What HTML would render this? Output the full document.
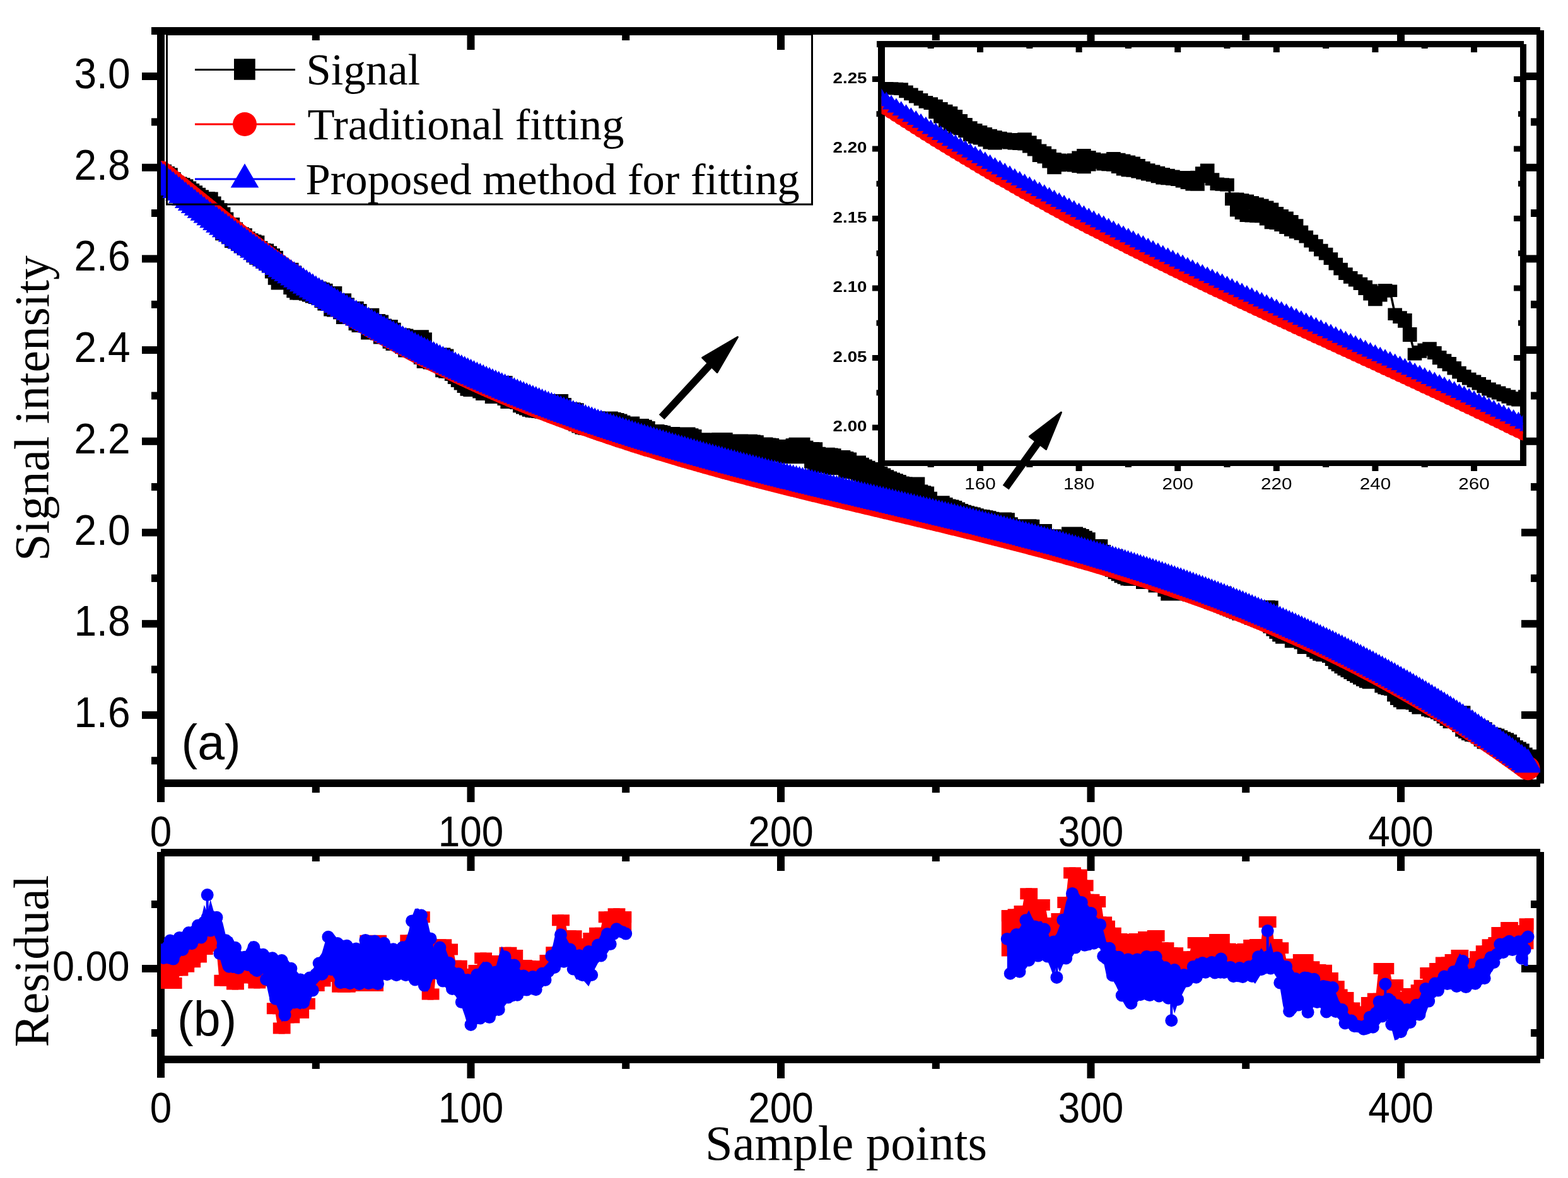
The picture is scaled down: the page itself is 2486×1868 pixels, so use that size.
<!DOCTYPE html><html><head><meta charset="utf-8"><title>Signal fitting plot</title><style>html,body{margin:0;padding:0;background:#fff;}svg{display:block;}</style></head><body><svg width="2486" height="1868" viewBox="0 0 2486 1868">
<rect width="2486" height="1868" fill="#fff"/>
<rect x="240.0" y="43.0" width="2202.0" height="12.0" fill="#000"/>
<rect x="249.0" y="55.0" width="12.0" height="1217.0" fill="#000"/>
<rect x="2436.0" y="48.0" width="12.0" height="1194.5" fill="#000"/>
<rect x="261.0" y="1236.0" width="2181.0" height="12.0" fill="#000"/>
<rect x="225.0" y="115.0" width="24.0" height="12.0" fill="#000"/>
<rect x="2412.0" y="115.0" width="24.0" height="12.0" fill="#000"/>
<rect x="240.0" y="187.4" width="9.0" height="12.0" fill="#000"/>
<rect x="2427.0" y="187.4" width="9.0" height="12.0" fill="#000"/>
<rect x="225.0" y="259.7" width="24.0" height="12.0" fill="#000"/>
<rect x="2412.0" y="259.7" width="24.0" height="12.0" fill="#000"/>
<rect x="240.0" y="332.0" width="9.0" height="12.0" fill="#000"/>
<rect x="2427.0" y="332.0" width="9.0" height="12.0" fill="#000"/>
<rect x="225.0" y="404.4" width="24.0" height="12.0" fill="#000"/>
<rect x="2412.0" y="404.4" width="24.0" height="12.0" fill="#000"/>
<rect x="240.0" y="476.8" width="9.0" height="12.0" fill="#000"/>
<rect x="2427.0" y="476.8" width="9.0" height="12.0" fill="#000"/>
<rect x="225.0" y="549.1" width="24.0" height="12.0" fill="#000"/>
<rect x="2412.0" y="549.1" width="24.0" height="12.0" fill="#000"/>
<rect x="240.0" y="621.5" width="9.0" height="12.0" fill="#000"/>
<rect x="2427.0" y="621.5" width="9.0" height="12.0" fill="#000"/>
<rect x="225.0" y="693.8" width="24.0" height="12.0" fill="#000"/>
<rect x="2412.0" y="693.8" width="24.0" height="12.0" fill="#000"/>
<rect x="240.0" y="766.1" width="9.0" height="12.0" fill="#000"/>
<rect x="2427.0" y="766.1" width="9.0" height="12.0" fill="#000"/>
<rect x="225.0" y="838.5" width="24.0" height="12.0" fill="#000"/>
<rect x="2412.0" y="838.5" width="24.0" height="12.0" fill="#000"/>
<rect x="240.0" y="910.9" width="9.0" height="12.0" fill="#000"/>
<rect x="2427.0" y="910.9" width="9.0" height="12.0" fill="#000"/>
<rect x="225.0" y="983.2" width="24.0" height="12.0" fill="#000"/>
<rect x="2412.0" y="983.2" width="24.0" height="12.0" fill="#000"/>
<rect x="240.0" y="1055.6" width="9.0" height="12.0" fill="#000"/>
<rect x="2427.0" y="1055.6" width="9.0" height="12.0" fill="#000"/>
<rect x="225.0" y="1127.9" width="24.0" height="12.0" fill="#000"/>
<rect x="2412.0" y="1127.9" width="24.0" height="12.0" fill="#000"/>
<rect x="240.0" y="1200.2" width="9.0" height="12.0" fill="#000"/>
<rect x="2427.0" y="1200.2" width="9.0" height="12.0" fill="#000"/>
<rect x="249.0" y="55.0" width="12.0" height="24.0" fill="#000"/>
<rect x="494.8" y="1248.0" width="12.0" height="9.0" fill="#000"/>
<rect x="494.8" y="55.0" width="12.0" height="9.0" fill="#000"/>
<rect x="740.5" y="1248.0" width="12.0" height="24.0" fill="#000"/>
<rect x="740.5" y="55.0" width="12.0" height="24.0" fill="#000"/>
<rect x="986.2" y="1248.0" width="12.0" height="9.0" fill="#000"/>
<rect x="986.2" y="55.0" width="12.0" height="9.0" fill="#000"/>
<rect x="1232.0" y="1248.0" width="12.0" height="24.0" fill="#000"/>
<rect x="1232.0" y="55.0" width="12.0" height="24.0" fill="#000"/>
<rect x="1477.8" y="1248.0" width="12.0" height="9.0" fill="#000"/>
<rect x="1477.8" y="55.0" width="12.0" height="9.0" fill="#000"/>
<rect x="1723.5" y="1248.0" width="12.0" height="24.0" fill="#000"/>
<rect x="1723.5" y="55.0" width="12.0" height="24.0" fill="#000"/>
<rect x="1969.2" y="1248.0" width="12.0" height="9.0" fill="#000"/>
<rect x="1969.2" y="55.0" width="12.0" height="9.0" fill="#000"/>
<rect x="2215.0" y="1248.0" width="12.0" height="24.0" fill="#000"/>
<rect x="2215.0" y="55.0" width="12.0" height="24.0" fill="#000"/>
<text x="0.00" y="0.00" font-family="'Liberation Sans', Arial, sans-serif" font-size="64" font-weight="normal" text-anchor="end" transform="translate(206.50,140.00) scale(1.0,1.06)">3.0</text>
<text x="0.00" y="0.00" font-family="'Liberation Sans', Arial, sans-serif" font-size="64" font-weight="normal" text-anchor="end" transform="translate(206.50,284.70) scale(1.0,1.06)">2.8</text>
<text x="0.00" y="0.00" font-family="'Liberation Sans', Arial, sans-serif" font-size="64" font-weight="normal" text-anchor="end" transform="translate(206.50,429.40) scale(1.0,1.06)">2.6</text>
<text x="0.00" y="0.00" font-family="'Liberation Sans', Arial, sans-serif" font-size="64" font-weight="normal" text-anchor="end" transform="translate(206.50,574.10) scale(1.0,1.06)">2.4</text>
<text x="0.00" y="0.00" font-family="'Liberation Sans', Arial, sans-serif" font-size="64" font-weight="normal" text-anchor="end" transform="translate(206.50,718.80) scale(1.0,1.06)">2.2</text>
<text x="0.00" y="0.00" font-family="'Liberation Sans', Arial, sans-serif" font-size="64" font-weight="normal" text-anchor="end" transform="translate(206.50,863.50) scale(1.0,1.06)">2.0</text>
<text x="0.00" y="0.00" font-family="'Liberation Sans', Arial, sans-serif" font-size="64" font-weight="normal" text-anchor="end" transform="translate(206.50,1008.20) scale(1.0,1.06)">1.8</text>
<text x="0.00" y="0.00" font-family="'Liberation Sans', Arial, sans-serif" font-size="64" font-weight="normal" text-anchor="end" transform="translate(206.50,1152.90) scale(1.0,1.06)">1.6</text>
<text x="0.00" y="0.00" font-family="'Liberation Sans', Arial, sans-serif" font-size="62" font-weight="normal" text-anchor="middle" transform="translate(255.00,1341.50) scale(1.0,1.095)">0</text>
<text x="0.00" y="0.00" font-family="'Liberation Sans', Arial, sans-serif" font-size="62" font-weight="normal" text-anchor="middle" transform="translate(746.50,1341.50) scale(1.0,1.095)">100</text>
<text x="0.00" y="0.00" font-family="'Liberation Sans', Arial, sans-serif" font-size="62" font-weight="normal" text-anchor="middle" transform="translate(1238.00,1341.50) scale(1.0,1.095)">200</text>
<text x="0.00" y="0.00" font-family="'Liberation Sans', Arial, sans-serif" font-size="62" font-weight="normal" text-anchor="middle" transform="translate(1729.50,1341.50) scale(1.0,1.095)">300</text>
<text x="0.00" y="0.00" font-family="'Liberation Sans', Arial, sans-serif" font-size="62" font-weight="normal" text-anchor="middle" transform="translate(2221.00,1341.50) scale(1.0,1.095)">400</text>
<text x="287.50" y="1203.50" font-family="'Liberation Sans', Arial, sans-serif" font-size="77" font-weight="normal" text-anchor="start">(a)</text>
<defs><clipPath id="cm"><rect x="255" y="49" width="2187" height="1193"/></clipPath><clipPath id="cr"><rect x="255" y="1352" width="2187" height="328"/></clipPath><clipPath id="ci"><rect x="1397.5" y="70" width="1017" height="664.5"/></clipPath></defs>
<g clip-path="url(#cm)">
<path d="M255.0,277.7L259.9,280.8L264.8,283.2L269.7,290.0L274.7,296.2L279.6,297.6L284.5,299.1L289.4,301.3L294.3,304.6L299.2,307.9L304.1,311.2L309.1,314.7L314.0,318.2L318.9,320.9L323.8,321.1L328.7,321.4L333.6,328.4L338.6,334.5L343.5,339.3L348.4,345.6L353.3,353.6L358.2,364.3L363.1,362.1L368.0,369.6L373.0,375.9L377.9,377.2L382.8,379.0L387.7,384.3L392.6,387.1L397.5,388.9L402.4,390.6L407.4,399.2L412.3,402.7L417.2,403.5L422.1,407.3L427.0,411.1L431.9,414.8L436.9,424.6L441.8,434.7L446.7,442.4L451.6,434.0L456.5,433.7L461.4,438.4L466.3,450.0L471.3,455.2L476.2,458.4L481.1,458.8L486.0,458.5L490.9,459.8L495.8,461.6L500.8,463.4L505.7,465.1L510.6,466.7L515.5,470.9L520.4,475.4L525.3,471.0L530.2,484.5L535.2,485.4L540.1,482.3L545.0,489.3L549.9,497.1L554.8,496.1L559.7,495.0L564.6,499.0L569.6,507.0L574.5,510.0L579.4,507.3L584.3,505.8L589.2,521.4L594.1,515.0L599.0,516.6L604.0,522.6L608.9,528.5L613.8,523.9L618.7,528.8L623.6,535.7L628.5,539.0L633.5,537.5L638.4,538.6L643.3,544.0L648.2,549.4L653.1,548.5L658.0,543.5L662.9,540.3L667.9,544.2L672.8,560.8L677.7,567.0L682.6,567.0L687.5,568.5L692.4,569.3L697.4,568.5L702.3,570.6L707.2,581.3L712.1,582.8L717.0,583.1L721.9,587.1L726.8,592.0L731.8,596.9L736.7,601.4L741.6,606.0L746.5,610.7L751.4,612.1L756.3,603.9L761.2,605.0L766.2,614.4L771.1,618.1L776.0,615.0L780.9,615.8L785.8,622.9L790.7,622.6L795.6,613.0L800.6,619.5L805.5,626.0L810.4,630.9L815.3,628.2L820.2,626.5L825.1,632.0L830.1,637.3L835.0,639.4L839.9,641.6L844.8,643.7L849.7,644.9L854.6,645.5L859.5,646.1L864.5,646.7L869.4,647.2L874.3,647.5L879.2,644.7L884.1,641.9L889.0,648.1L894.0,654.3L898.9,654.9L903.8,655.2L908.7,656.3L913.6,661.9L918.5,667.1L923.4,669.5L928.4,671.8L933.3,672.7L938.2,670.6L943.1,669.2L948.0,669.6L952.9,669.9L957.8,669.8L962.8,669.5L967.7,670.7L972.6,671.9L977.5,673.5L982.4,675.8L987.3,678.0L992.2,679.9L997.2,677.4L1002.1,683.3L1007.0,685.5L1011.9,681.0L1016.8,682.7L1021.7,685.0L1026.7,690.8L1031.6,692.7L1036.5,690.0L1041.4,690.9L1046.3,691.9L1051.2,696.8L1056.1,697.0L1061.1,694.1L1066.0,694.6L1070.9,694.9L1075.8,697.0L1080.7,697.2L1085.6,694.6L1090.5,696.2L1095.5,698.0L1100.4,703.5L1105.3,704.2L1110.2,703.2L1115.1,705.0L1120.0,705.5L1125.0,708.0L1129.9,708.2L1134.8,705.4L1139.7,704.2L1144.6,703.1L1149.5,708.2L1154.4,706.9L1159.4,705.6L1164.3,706.0L1169.2,705.4L1174.1,708.3L1179.0,709.4L1183.9,705.8L1188.8,706.5L1193.8,707.2L1198.7,711.8L1203.6,712.5L1208.5,710.6L1213.4,711.4L1218.3,712.1L1223.3,715.1L1228.2,715.3L1233.1,714.0L1238.0,714.5L1242.9,714.5L1247.8,717.5L1252.7,718.3L1257.7,714.4L1262.6,712.3L1267.5,710.8L1272.4,715.7L1277.3,718.2L1282.2,718.1L1287.2,718.3L1292.1,725.7L1297.0,731.7L1301.9,733.2L1306.8,726.8L1311.7,727.5L1316.6,728.3L1321.6,734.9L1326.5,736.3L1331.4,731.0L1336.3,733.1L1341.2,734.5L1346.1,740.8L1351.0,742.0L1356.0,739.4L1360.9,742.8L1365.8,745.5L1370.7,747.8L1375.6,750.0L1380.5,752.4L1385.5,754.4L1390.4,756.8L1395.3,759.6L1400.2,762.2L1405.1,764.6L1410.0,766.6L1414.9,768.2L1419.9,769.9L1424.8,772.5L1429.7,773.2L1434.6,775.4L1439.5,774.2L1444.4,773.8L1449.3,773.5L1454.3,785.6L1459.2,787.3L1464.1,788.4L1469.0,796.8L1473.9,806.4L1478.8,805.2L1483.8,804.0L1488.7,803.3L1493.6,805.9L1498.5,808.6L1503.4,809.5L1508.3,811.1L1513.2,813.4L1518.2,815.9L1523.1,817.7L1528.0,819.2L1532.9,820.4L1537.8,821.5L1542.7,823.3L1547.6,824.8L1552.6,825.3L1557.5,826.3L1562.4,827.2L1567.3,828.8L1572.2,829.8L1577.1,829.5L1582.0,829.5L1587.0,829.5L1591.9,830.3L1596.8,837.2L1601.7,842.9L1606.6,850.3L1611.5,851.4L1616.5,848.7L1621.4,841.2L1626.3,840.3L1631.2,840.7L1636.1,853.3L1641.0,851.6L1645.9,849.8L1650.9,848.1L1655.8,858.0L1660.7,857.0L1665.6,856.3L1670.5,863.7L1675.4,868.1L1680.3,858.3L1685.3,859.6L1690.2,865.3L1695.1,866.4L1700.0,852.4L1704.9,854.2L1709.8,856.1L1714.8,858.7L1719.7,861.3L1724.6,874.7L1729.5,873.4L1734.4,872.1L1739.3,872.3L1744.2,881.0L1749.2,885.2L1754.1,889.4L1759.0,888.5L1763.9,888.3L1768.8,897.7L1773.7,901.2L1778.7,904.2L1783.6,907.2L1788.5,909.3L1793.4,911.5L1798.3,912.1L1803.2,902.4L1808.1,906.0L1813.1,911.4L1818.0,916.9L1822.9,914.5L1827.8,911.9L1832.7,911.1L1837.6,922.6L1842.5,919.8L1847.5,919.5L1852.4,929.1L1857.3,935.6L1862.2,925.3L1867.1,932.6L1872.0,934.4L1877.0,932.9L1881.9,932.0L1886.8,934.3L1891.7,936.7L1896.6,937.8L1901.5,935.3L1906.4,938.3L1911.4,941.3L1916.3,944.3L1921.2,946.2L1926.1,948.2L1931.0,949.2L1935.9,947.0L1940.8,954.2L1945.8,956.3L1950.7,958.4L1955.6,960.5L1960.5,962.5L1965.4,964.6L1970.3,966.7L1975.2,966.2L1980.2,967.0L1985.1,971.2L1990.0,973.9L1994.9,970.7L1999.8,969.8L2004.7,968.9L2009.7,969.4L2014.6,982.9L2019.5,987.3L2024.4,991.7L2029.3,996.1L2034.2,1000.6L2039.1,1003.8L2044.1,996.1L2049.0,1003.0L2053.9,1010.2L2058.8,1008.6L2063.7,1007.1L2068.6,1012.6L2073.6,1020.1L2078.5,1013.3L2083.4,1019.2L2088.3,1024.7L2093.2,1027.7L2098.1,1030.8L2103.0,1032.1L2108.0,1028.6L2112.9,1033.9L2117.8,1039.1L2122.7,1044.2L2127.6,1047.6L2132.5,1051.1L2137.4,1054.2L2142.4,1057.1L2147.3,1060.1L2152.2,1062.9L2157.1,1065.7L2162.0,1068.5L2166.9,1071.3L2171.8,1073.8L2176.8,1075.3L2181.7,1074.6L2186.6,1072.9L2191.5,1071.4L2196.4,1081.4L2201.3,1084.1L2206.3,1085.2L2211.2,1086.3L2216.1,1095.6L2221.0,1101.1L2225.9,1104.4L2230.8,1107.8L2235.7,1107.1L2240.7,1105.1L2245.6,1108.6L2250.5,1112.0L2255.4,1115.5L2260.3,1115.1L2265.2,1114.5L2270.2,1119.0L2275.1,1120.4L2280.0,1121.3L2284.9,1123.6L2289.8,1126.2L2294.7,1130.2L2299.6,1134.1L2304.6,1138.1L2309.5,1137.5L2314.4,1136.2L2319.3,1144.1L2324.2,1151.2L2329.1,1154.0L2334.0,1156.9L2339.0,1159.1L2343.9,1159.6L2348.8,1162.3L2353.7,1166.7L2358.6,1170.6L2363.5,1171.1L2368.4,1172.6L2373.4,1175.1L2378.3,1177.6L2383.2,1179.2L2388.1,1181.7L2393.0,1186.3L2397.9,1191.0L2402.9,1193.5L2407.8,1196.2L2412.7,1202.6L2417.6,1208.1L2422.5,1205.6" fill="none" stroke="#000" stroke-width="3"/>
<path d="M238.0,260.7h34.0v34.0h-34.0zM242.9,263.8h34.0v34.0h-34.0zM247.8,266.2h34.0v34.0h-34.0zM252.7,273.0h34.0v34.0h-34.0zM257.7,279.2h34.0v34.0h-34.0zM262.6,280.6h34.0v34.0h-34.0zM267.5,282.1h34.0v34.0h-34.0zM272.4,284.3h34.0v34.0h-34.0zM277.3,287.6h34.0v34.0h-34.0zM282.2,290.9h34.0v34.0h-34.0zM287.1,294.2h34.0v34.0h-34.0zM292.1,297.7h34.0v34.0h-34.0zM297.0,301.2h34.0v34.0h-34.0zM301.9,303.9h34.0v34.0h-34.0zM306.8,304.1h34.0v34.0h-34.0zM311.7,304.4h34.0v34.0h-34.0zM316.6,311.4h34.0v34.0h-34.0zM321.6,317.5h34.0v34.0h-34.0zM326.5,322.3h34.0v34.0h-34.0zM331.4,328.6h34.0v34.0h-34.0zM336.3,336.6h34.0v34.0h-34.0zM341.2,347.3h34.0v34.0h-34.0zM346.1,345.1h34.0v34.0h-34.0zM351.0,352.6h34.0v34.0h-34.0zM356.0,358.9h34.0v34.0h-34.0zM360.9,360.2h34.0v34.0h-34.0zM365.8,362.0h34.0v34.0h-34.0zM370.7,367.3h34.0v34.0h-34.0zM375.6,370.1h34.0v34.0h-34.0zM380.5,371.9h34.0v34.0h-34.0zM385.4,373.6h34.0v34.0h-34.0zM390.4,382.2h34.0v34.0h-34.0zM395.3,385.7h34.0v34.0h-34.0zM400.2,386.5h34.0v34.0h-34.0zM405.1,390.3h34.0v34.0h-34.0zM410.0,394.1h34.0v34.0h-34.0zM414.9,397.8h34.0v34.0h-34.0zM419.9,407.6h34.0v34.0h-34.0zM424.8,417.7h34.0v34.0h-34.0zM429.7,425.4h34.0v34.0h-34.0zM434.6,417.0h34.0v34.0h-34.0zM439.5,416.7h34.0v34.0h-34.0zM444.4,421.4h34.0v34.0h-34.0zM449.3,433.0h34.0v34.0h-34.0zM454.3,438.2h34.0v34.0h-34.0zM459.2,441.4h34.0v34.0h-34.0zM464.1,441.8h34.0v34.0h-34.0zM469.0,441.5h34.0v34.0h-34.0zM473.9,442.8h34.0v34.0h-34.0zM478.8,444.6h34.0v34.0h-34.0zM483.8,446.4h34.0v34.0h-34.0zM488.7,448.1h34.0v34.0h-34.0zM493.6,449.7h34.0v34.0h-34.0zM498.5,453.9h34.0v34.0h-34.0zM503.4,458.4h34.0v34.0h-34.0zM508.3,454.0h34.0v34.0h-34.0zM513.2,467.5h34.0v34.0h-34.0zM518.2,468.4h34.0v34.0h-34.0zM523.1,465.3h34.0v34.0h-34.0zM528.0,472.3h34.0v34.0h-34.0zM532.9,480.1h34.0v34.0h-34.0zM537.8,479.1h34.0v34.0h-34.0zM542.7,478.0h34.0v34.0h-34.0zM547.6,482.0h34.0v34.0h-34.0zM552.6,490.0h34.0v34.0h-34.0zM557.5,493.0h34.0v34.0h-34.0zM562.4,490.3h34.0v34.0h-34.0zM567.3,488.8h34.0v34.0h-34.0zM572.2,504.4h34.0v34.0h-34.0zM577.1,498.0h34.0v34.0h-34.0zM582.0,499.6h34.0v34.0h-34.0zM587.0,505.6h34.0v34.0h-34.0zM591.9,511.5h34.0v34.0h-34.0zM596.8,506.9h34.0v34.0h-34.0zM601.7,511.8h34.0v34.0h-34.0zM606.6,518.7h34.0v34.0h-34.0zM611.5,522.0h34.0v34.0h-34.0zM616.5,520.5h34.0v34.0h-34.0zM621.4,521.6h34.0v34.0h-34.0zM626.3,527.0h34.0v34.0h-34.0zM631.2,532.4h34.0v34.0h-34.0zM636.1,531.5h34.0v34.0h-34.0zM641.0,526.5h34.0v34.0h-34.0zM645.9,523.3h34.0v34.0h-34.0zM650.9,527.2h34.0v34.0h-34.0zM655.8,543.8h34.0v34.0h-34.0zM660.7,550.0h34.0v34.0h-34.0zM665.6,550.0h34.0v34.0h-34.0zM670.5,551.5h34.0v34.0h-34.0zM675.4,552.3h34.0v34.0h-34.0zM680.4,551.5h34.0v34.0h-34.0zM685.3,553.6h34.0v34.0h-34.0zM690.2,564.3h34.0v34.0h-34.0zM695.1,565.8h34.0v34.0h-34.0zM700.0,566.1h34.0v34.0h-34.0zM704.9,570.1h34.0v34.0h-34.0zM709.8,575.0h34.0v34.0h-34.0zM714.8,579.9h34.0v34.0h-34.0zM719.7,584.4h34.0v34.0h-34.0zM724.6,589.0h34.0v34.0h-34.0zM729.5,593.7h34.0v34.0h-34.0zM734.4,595.1h34.0v34.0h-34.0zM739.3,586.9h34.0v34.0h-34.0zM744.2,588.0h34.0v34.0h-34.0zM749.2,597.4h34.0v34.0h-34.0zM754.1,601.1h34.0v34.0h-34.0zM759.0,598.0h34.0v34.0h-34.0zM763.9,598.8h34.0v34.0h-34.0zM768.8,605.9h34.0v34.0h-34.0zM773.7,605.6h34.0v34.0h-34.0zM778.6,596.0h34.0v34.0h-34.0zM783.6,602.5h34.0v34.0h-34.0zM788.5,609.0h34.0v34.0h-34.0zM793.4,613.9h34.0v34.0h-34.0zM798.3,611.2h34.0v34.0h-34.0zM803.2,609.5h34.0v34.0h-34.0zM808.1,615.0h34.0v34.0h-34.0zM813.1,620.3h34.0v34.0h-34.0zM818.0,622.4h34.0v34.0h-34.0zM822.9,624.6h34.0v34.0h-34.0zM827.8,626.7h34.0v34.0h-34.0zM832.7,627.9h34.0v34.0h-34.0zM837.6,628.5h34.0v34.0h-34.0zM842.5,629.1h34.0v34.0h-34.0zM847.5,629.7h34.0v34.0h-34.0zM852.4,630.2h34.0v34.0h-34.0zM857.3,630.5h34.0v34.0h-34.0zM862.2,627.7h34.0v34.0h-34.0zM867.1,624.9h34.0v34.0h-34.0zM872.0,631.1h34.0v34.0h-34.0zM877.0,637.3h34.0v34.0h-34.0zM881.9,637.9h34.0v34.0h-34.0zM886.8,638.2h34.0v34.0h-34.0zM891.7,639.3h34.0v34.0h-34.0zM896.6,644.9h34.0v34.0h-34.0zM901.5,650.1h34.0v34.0h-34.0zM906.4,652.5h34.0v34.0h-34.0zM911.4,654.8h34.0v34.0h-34.0zM916.3,655.7h34.0v34.0h-34.0zM921.2,653.6h34.0v34.0h-34.0zM926.1,652.2h34.0v34.0h-34.0zM931.0,652.6h34.0v34.0h-34.0zM935.9,652.9h34.0v34.0h-34.0zM940.8,652.8h34.0v34.0h-34.0zM945.8,652.5h34.0v34.0h-34.0zM950.7,653.7h34.0v34.0h-34.0zM955.6,654.9h34.0v34.0h-34.0zM960.5,656.5h34.0v34.0h-34.0zM965.4,658.8h34.0v34.0h-34.0zM970.3,661.0h34.0v34.0h-34.0zM975.2,662.9h34.0v34.0h-34.0zM980.2,660.4h34.0v34.0h-34.0zM985.1,666.3h34.0v34.0h-34.0zM990.0,668.5h34.0v34.0h-34.0zM994.9,664.0h34.0v34.0h-34.0zM999.8,665.7h34.0v34.0h-34.0zM1004.7,668.0h34.0v34.0h-34.0zM1009.7,673.8h34.0v34.0h-34.0zM1014.6,675.7h34.0v34.0h-34.0zM1019.5,673.0h34.0v34.0h-34.0zM1024.4,673.9h34.0v34.0h-34.0zM1029.3,674.9h34.0v34.0h-34.0zM1034.2,679.8h34.0v34.0h-34.0zM1039.1,680.0h34.0v34.0h-34.0zM1044.1,677.1h34.0v34.0h-34.0zM1049.0,677.6h34.0v34.0h-34.0zM1053.9,677.9h34.0v34.0h-34.0zM1058.8,680.0h34.0v34.0h-34.0zM1063.7,680.2h34.0v34.0h-34.0zM1068.6,677.6h34.0v34.0h-34.0zM1073.5,679.2h34.0v34.0h-34.0zM1078.5,681.0h34.0v34.0h-34.0zM1083.4,686.5h34.0v34.0h-34.0zM1088.3,687.2h34.0v34.0h-34.0zM1093.2,686.2h34.0v34.0h-34.0zM1098.1,688.0h34.0v34.0h-34.0zM1103.0,688.5h34.0v34.0h-34.0zM1108.0,691.0h34.0v34.0h-34.0zM1112.9,691.2h34.0v34.0h-34.0zM1117.8,688.4h34.0v34.0h-34.0zM1122.7,687.2h34.0v34.0h-34.0zM1127.6,686.1h34.0v34.0h-34.0zM1132.5,691.2h34.0v34.0h-34.0zM1137.4,689.9h34.0v34.0h-34.0zM1142.4,688.6h34.0v34.0h-34.0zM1147.3,689.0h34.0v34.0h-34.0zM1152.2,688.4h34.0v34.0h-34.0zM1157.1,691.3h34.0v34.0h-34.0zM1162.0,692.4h34.0v34.0h-34.0zM1166.9,688.8h34.0v34.0h-34.0zM1171.8,689.5h34.0v34.0h-34.0zM1176.8,690.2h34.0v34.0h-34.0zM1181.7,694.8h34.0v34.0h-34.0zM1186.6,695.5h34.0v34.0h-34.0zM1191.5,693.6h34.0v34.0h-34.0zM1196.4,694.4h34.0v34.0h-34.0zM1201.3,695.1h34.0v34.0h-34.0zM1206.3,698.1h34.0v34.0h-34.0zM1211.2,698.3h34.0v34.0h-34.0zM1216.1,697.0h34.0v34.0h-34.0zM1221.0,697.5h34.0v34.0h-34.0zM1225.9,697.5h34.0v34.0h-34.0zM1230.8,700.5h34.0v34.0h-34.0zM1235.7,701.3h34.0v34.0h-34.0zM1240.7,697.4h34.0v34.0h-34.0zM1245.6,695.3h34.0v34.0h-34.0zM1250.5,693.8h34.0v34.0h-34.0zM1255.4,698.7h34.0v34.0h-34.0zM1260.3,701.2h34.0v34.0h-34.0zM1265.2,701.1h34.0v34.0h-34.0zM1270.2,701.3h34.0v34.0h-34.0zM1275.1,708.7h34.0v34.0h-34.0zM1280.0,714.7h34.0v34.0h-34.0zM1284.9,716.2h34.0v34.0h-34.0zM1289.8,709.8h34.0v34.0h-34.0zM1294.7,710.5h34.0v34.0h-34.0zM1299.6,711.3h34.0v34.0h-34.0zM1304.6,717.9h34.0v34.0h-34.0zM1309.5,719.3h34.0v34.0h-34.0zM1314.4,714.0h34.0v34.0h-34.0zM1319.3,716.1h34.0v34.0h-34.0zM1324.2,717.5h34.0v34.0h-34.0zM1329.1,723.8h34.0v34.0h-34.0zM1334.0,725.0h34.0v34.0h-34.0zM1339.0,722.4h34.0v34.0h-34.0zM1343.9,725.8h34.0v34.0h-34.0zM1348.8,728.5h34.0v34.0h-34.0zM1353.7,730.8h34.0v34.0h-34.0zM1358.6,733.0h34.0v34.0h-34.0zM1363.5,735.4h34.0v34.0h-34.0zM1368.5,737.4h34.0v34.0h-34.0zM1373.4,739.8h34.0v34.0h-34.0zM1378.3,742.6h34.0v34.0h-34.0zM1383.2,745.2h34.0v34.0h-34.0zM1388.1,747.6h34.0v34.0h-34.0zM1393.0,749.6h34.0v34.0h-34.0zM1397.9,751.2h34.0v34.0h-34.0zM1402.9,752.9h34.0v34.0h-34.0zM1407.8,755.5h34.0v34.0h-34.0zM1412.7,756.2h34.0v34.0h-34.0zM1417.6,758.4h34.0v34.0h-34.0zM1422.5,757.2h34.0v34.0h-34.0zM1427.4,756.8h34.0v34.0h-34.0zM1432.3,756.5h34.0v34.0h-34.0zM1437.3,768.6h34.0v34.0h-34.0zM1442.2,770.3h34.0v34.0h-34.0zM1447.1,771.4h34.0v34.0h-34.0zM1452.0,779.8h34.0v34.0h-34.0zM1456.9,789.4h34.0v34.0h-34.0zM1461.8,788.2h34.0v34.0h-34.0zM1466.8,787.0h34.0v34.0h-34.0zM1471.7,786.3h34.0v34.0h-34.0zM1476.6,788.9h34.0v34.0h-34.0zM1481.5,791.6h34.0v34.0h-34.0zM1486.4,792.5h34.0v34.0h-34.0zM1491.3,794.1h34.0v34.0h-34.0zM1496.2,796.4h34.0v34.0h-34.0zM1501.2,798.9h34.0v34.0h-34.0zM1506.1,800.7h34.0v34.0h-34.0zM1511.0,802.2h34.0v34.0h-34.0zM1515.9,803.4h34.0v34.0h-34.0zM1520.8,804.5h34.0v34.0h-34.0zM1525.7,806.3h34.0v34.0h-34.0zM1530.6,807.8h34.0v34.0h-34.0zM1535.6,808.3h34.0v34.0h-34.0zM1540.5,809.3h34.0v34.0h-34.0zM1545.4,810.2h34.0v34.0h-34.0zM1550.3,811.8h34.0v34.0h-34.0zM1555.2,812.8h34.0v34.0h-34.0zM1560.1,812.5h34.0v34.0h-34.0zM1565.0,812.5h34.0v34.0h-34.0zM1570.0,812.5h34.0v34.0h-34.0zM1574.9,813.3h34.0v34.0h-34.0zM1579.8,820.2h34.0v34.0h-34.0zM1584.7,825.9h34.0v34.0h-34.0zM1589.6,833.3h34.0v34.0h-34.0zM1594.5,834.4h34.0v34.0h-34.0zM1599.5,831.7h34.0v34.0h-34.0zM1604.4,824.2h34.0v34.0h-34.0zM1609.3,823.3h34.0v34.0h-34.0zM1614.2,823.7h34.0v34.0h-34.0zM1619.1,836.3h34.0v34.0h-34.0zM1624.0,834.6h34.0v34.0h-34.0zM1628.9,832.8h34.0v34.0h-34.0zM1633.9,831.1h34.0v34.0h-34.0zM1638.8,841.0h34.0v34.0h-34.0zM1643.7,840.0h34.0v34.0h-34.0zM1648.6,839.3h34.0v34.0h-34.0zM1653.5,846.7h34.0v34.0h-34.0zM1658.4,851.1h34.0v34.0h-34.0zM1663.3,841.3h34.0v34.0h-34.0zM1668.3,842.6h34.0v34.0h-34.0zM1673.2,848.3h34.0v34.0h-34.0zM1678.1,849.4h34.0v34.0h-34.0zM1683.0,835.4h34.0v34.0h-34.0zM1687.9,837.2h34.0v34.0h-34.0zM1692.8,839.1h34.0v34.0h-34.0zM1697.8,841.7h34.0v34.0h-34.0zM1702.7,844.3h34.0v34.0h-34.0zM1707.6,857.7h34.0v34.0h-34.0zM1712.5,856.4h34.0v34.0h-34.0zM1717.4,855.1h34.0v34.0h-34.0zM1722.3,855.3h34.0v34.0h-34.0zM1727.2,864.0h34.0v34.0h-34.0zM1732.2,868.2h34.0v34.0h-34.0zM1737.1,872.4h34.0v34.0h-34.0zM1742.0,871.5h34.0v34.0h-34.0zM1746.9,871.3h34.0v34.0h-34.0zM1751.8,880.7h34.0v34.0h-34.0zM1756.7,884.2h34.0v34.0h-34.0zM1761.7,887.2h34.0v34.0h-34.0zM1766.6,890.2h34.0v34.0h-34.0zM1771.5,892.3h34.0v34.0h-34.0zM1776.4,894.5h34.0v34.0h-34.0zM1781.3,895.1h34.0v34.0h-34.0zM1786.2,885.4h34.0v34.0h-34.0zM1791.1,889.0h34.0v34.0h-34.0zM1796.1,894.4h34.0v34.0h-34.0zM1801.0,899.9h34.0v34.0h-34.0zM1805.9,897.5h34.0v34.0h-34.0zM1810.8,894.9h34.0v34.0h-34.0zM1815.7,894.1h34.0v34.0h-34.0zM1820.6,905.6h34.0v34.0h-34.0zM1825.5,902.8h34.0v34.0h-34.0zM1830.5,902.5h34.0v34.0h-34.0zM1835.4,912.1h34.0v34.0h-34.0zM1840.3,918.6h34.0v34.0h-34.0zM1845.2,908.3h34.0v34.0h-34.0zM1850.1,915.6h34.0v34.0h-34.0zM1855.0,917.4h34.0v34.0h-34.0zM1860.0,915.9h34.0v34.0h-34.0zM1864.9,915.0h34.0v34.0h-34.0zM1869.8,917.3h34.0v34.0h-34.0zM1874.7,919.7h34.0v34.0h-34.0zM1879.6,920.8h34.0v34.0h-34.0zM1884.5,918.3h34.0v34.0h-34.0zM1889.4,921.3h34.0v34.0h-34.0zM1894.4,924.3h34.0v34.0h-34.0zM1899.3,927.3h34.0v34.0h-34.0zM1904.2,929.2h34.0v34.0h-34.0zM1909.1,931.2h34.0v34.0h-34.0zM1914.0,932.2h34.0v34.0h-34.0zM1918.9,930.0h34.0v34.0h-34.0zM1923.8,937.2h34.0v34.0h-34.0zM1928.8,939.3h34.0v34.0h-34.0zM1933.7,941.4h34.0v34.0h-34.0zM1938.6,943.5h34.0v34.0h-34.0zM1943.5,945.5h34.0v34.0h-34.0zM1948.4,947.6h34.0v34.0h-34.0zM1953.3,949.7h34.0v34.0h-34.0zM1958.2,949.2h34.0v34.0h-34.0zM1963.2,950.0h34.0v34.0h-34.0zM1968.1,954.2h34.0v34.0h-34.0zM1973.0,956.9h34.0v34.0h-34.0zM1977.9,953.7h34.0v34.0h-34.0zM1982.8,952.8h34.0v34.0h-34.0zM1987.7,951.9h34.0v34.0h-34.0zM1992.7,952.4h34.0v34.0h-34.0zM1997.6,965.9h34.0v34.0h-34.0zM2002.5,970.3h34.0v34.0h-34.0zM2007.4,974.7h34.0v34.0h-34.0zM2012.3,979.1h34.0v34.0h-34.0zM2017.2,983.6h34.0v34.0h-34.0zM2022.1,986.8h34.0v34.0h-34.0zM2027.1,979.1h34.0v34.0h-34.0zM2032.0,986.0h34.0v34.0h-34.0zM2036.9,993.2h34.0v34.0h-34.0zM2041.8,991.6h34.0v34.0h-34.0zM2046.7,990.1h34.0v34.0h-34.0zM2051.6,995.6h34.0v34.0h-34.0zM2056.6,1003.1h34.0v34.0h-34.0zM2061.5,996.3h34.0v34.0h-34.0zM2066.4,1002.2h34.0v34.0h-34.0zM2071.3,1007.7h34.0v34.0h-34.0zM2076.2,1010.7h34.0v34.0h-34.0zM2081.1,1013.8h34.0v34.0h-34.0zM2086.0,1015.1h34.0v34.0h-34.0zM2091.0,1011.6h34.0v34.0h-34.0zM2095.9,1016.9h34.0v34.0h-34.0zM2100.8,1022.1h34.0v34.0h-34.0zM2105.7,1027.2h34.0v34.0h-34.0zM2110.6,1030.6h34.0v34.0h-34.0zM2115.5,1034.1h34.0v34.0h-34.0zM2120.4,1037.2h34.0v34.0h-34.0zM2125.4,1040.1h34.0v34.0h-34.0zM2130.3,1043.1h34.0v34.0h-34.0zM2135.2,1045.9h34.0v34.0h-34.0zM2140.1,1048.7h34.0v34.0h-34.0zM2145.0,1051.5h34.0v34.0h-34.0zM2149.9,1054.3h34.0v34.0h-34.0zM2154.8,1056.8h34.0v34.0h-34.0zM2159.8,1058.3h34.0v34.0h-34.0zM2164.7,1057.6h34.0v34.0h-34.0zM2169.6,1055.9h34.0v34.0h-34.0zM2174.5,1054.4h34.0v34.0h-34.0zM2179.4,1064.4h34.0v34.0h-34.0zM2184.3,1067.1h34.0v34.0h-34.0zM2189.3,1068.2h34.0v34.0h-34.0zM2194.2,1069.3h34.0v34.0h-34.0zM2199.1,1078.6h34.0v34.0h-34.0zM2204.0,1084.1h34.0v34.0h-34.0zM2208.9,1087.4h34.0v34.0h-34.0zM2213.8,1090.8h34.0v34.0h-34.0zM2218.7,1090.1h34.0v34.0h-34.0zM2223.7,1088.1h34.0v34.0h-34.0zM2228.6,1091.6h34.0v34.0h-34.0zM2233.5,1095.0h34.0v34.0h-34.0zM2238.4,1098.5h34.0v34.0h-34.0zM2243.3,1098.1h34.0v34.0h-34.0zM2248.2,1097.5h34.0v34.0h-34.0zM2253.2,1102.0h34.0v34.0h-34.0zM2258.1,1103.4h34.0v34.0h-34.0zM2263.0,1104.3h34.0v34.0h-34.0zM2267.9,1106.6h34.0v34.0h-34.0zM2272.8,1109.2h34.0v34.0h-34.0zM2277.7,1113.2h34.0v34.0h-34.0zM2282.6,1117.1h34.0v34.0h-34.0zM2287.6,1121.1h34.0v34.0h-34.0zM2292.5,1120.5h34.0v34.0h-34.0zM2297.4,1119.2h34.0v34.0h-34.0zM2302.3,1127.1h34.0v34.0h-34.0zM2307.2,1134.2h34.0v34.0h-34.0zM2312.1,1137.0h34.0v34.0h-34.0zM2317.0,1139.9h34.0v34.0h-34.0zM2322.0,1142.1h34.0v34.0h-34.0zM2326.9,1142.6h34.0v34.0h-34.0zM2331.8,1145.3h34.0v34.0h-34.0zM2336.7,1149.7h34.0v34.0h-34.0zM2341.6,1153.6h34.0v34.0h-34.0zM2346.5,1154.1h34.0v34.0h-34.0zM2351.4,1155.6h34.0v34.0h-34.0zM2356.4,1158.1h34.0v34.0h-34.0zM2361.3,1160.6h34.0v34.0h-34.0zM2366.2,1162.2h34.0v34.0h-34.0zM2371.1,1164.7h34.0v34.0h-34.0zM2376.0,1169.3h34.0v34.0h-34.0zM2380.9,1174.0h34.0v34.0h-34.0zM2385.9,1176.5h34.0v34.0h-34.0zM2390.8,1179.2h34.0v34.0h-34.0zM2395.7,1185.6h34.0v34.0h-34.0zM2400.6,1191.1h34.0v34.0h-34.0zM2405.5,1188.6h34.0v34.0h-34.0z" fill="#000"/>
<path d="M255.0,273.9L259.9,277.9L264.8,281.9L269.7,285.9L274.7,289.9L279.6,293.8L284.5,297.8L289.4,301.8L294.3,305.8L299.2,309.8L304.1,313.7L309.1,317.7L314.0,321.7L318.9,325.7L323.8,329.7L328.7,333.7L333.6,337.7L338.6,341.7L343.5,345.7L348.4,349.7L353.3,353.6L358.2,357.5L363.1,361.5L368.0,365.4L373.0,369.3L377.9,373.2L382.8,377.1L387.7,380.9L392.6,384.8L397.5,388.6L402.4,392.3L407.4,396.1L412.3,399.8L417.2,403.5L422.1,407.1L427.0,410.8L431.9,414.4L436.9,418.0L441.8,421.6L446.7,425.1L451.6,428.7L456.5,432.2L461.4,435.6L466.3,439.1L471.3,442.5L476.2,445.9L481.1,449.3L486.0,452.6L490.9,456.0L495.8,459.2L500.8,462.5L505.7,465.7L510.6,468.9L515.5,472.1L520.4,475.3L525.3,478.4L530.2,481.5L535.2,484.6L540.1,487.7L545.0,490.8L549.9,493.8L554.8,496.8L559.7,499.8L564.6,502.7L569.6,505.7L574.5,508.6L579.4,511.5L584.3,514.4L589.2,517.3L594.1,520.1L599.0,522.9L604.0,525.7L608.9,528.5L613.8,531.3L618.7,534.0L623.6,536.7L628.5,539.4L633.5,542.1L638.4,544.8L643.3,547.4L648.2,550.0L653.1,552.6L658.0,555.2L662.9,557.8L667.9,560.4L672.8,562.9L677.7,565.4L682.6,567.9L687.5,570.4L692.4,572.8L697.4,575.3L702.3,577.7L707.2,580.1L712.1,582.5L717.0,584.9L721.9,587.2L726.8,589.6L731.8,591.9L736.7,594.2L741.6,596.5L746.5,598.8L751.4,601.0L756.3,603.3L761.2,605.5L766.2,607.7L771.1,609.9L776.0,612.1L780.9,614.2L785.8,616.4L790.7,618.5L795.6,620.6L800.6,622.7L805.5,624.8L810.4,626.9L815.3,629.0L820.2,631.0L825.1,633.0L830.1,635.0L835.0,637.0L839.9,639.0L844.8,641.0L849.7,643.0L854.6,644.9L859.5,646.9L864.5,648.8L869.4,650.7L874.3,652.6L879.2,654.5L884.1,656.3L889.0,658.2L894.0,660.0L898.9,661.8L903.8,663.7L908.7,665.5L913.6,667.3L918.5,669.0L923.4,670.8L928.4,672.6L933.3,674.3L938.2,676.0L943.1,677.7L948.0,679.5L952.9,681.2L957.8,682.8L962.8,684.5L967.7,686.2L972.6,687.8L977.5,689.5L982.4,691.1L987.3,692.7L992.2,694.3L997.2,695.9L1002.1,697.5L1007.0,699.1L1011.9,700.6L1016.8,702.2L1021.7,703.7L1026.7,705.3L1031.6,706.8L1036.5,708.3L1041.4,709.8L1046.3,711.4L1051.2,712.8L1056.1,714.3L1061.1,715.8L1066.0,717.3L1070.9,718.7L1075.8,720.2L1080.7,721.6L1085.6,723.1L1090.5,724.5L1095.5,725.9L1100.4,727.3L1105.3,728.7L1110.2,730.1L1115.1,731.5L1120.0,732.9L1125.0,734.3L1129.9,735.7L1134.8,737.0L1139.7,738.4L1144.6,739.7L1149.5,741.1L1154.4,742.4L1159.4,743.7L1164.3,745.1L1169.2,746.4L1174.1,747.7L1179.0,749.0L1183.9,750.3L1188.8,751.6L1193.8,752.9L1198.7,754.1L1203.6,755.4L1208.5,756.7L1213.4,757.9L1218.3,759.2L1223.3,760.5L1228.2,761.7L1233.1,763.0L1238.0,764.2L1242.9,765.4L1247.8,766.7L1252.7,767.9L1257.7,769.1L1262.6,770.3L1267.5,771.5L1272.4,772.8L1277.3,774.0L1282.2,775.2L1287.2,776.4L1292.1,777.6L1297.0,778.8L1301.9,780.0L1306.8,781.2L1311.7,782.4L1316.6,783.5L1321.6,784.7L1326.5,785.9L1331.4,787.1L1336.3,788.3L1341.2,789.5L1346.1,790.6L1351.0,791.8L1356.0,793.0L1360.9,794.2L1365.8,795.3L1370.7,796.5L1375.6,797.7L1380.5,798.8L1385.5,800.0L1390.4,801.2L1395.3,802.3L1400.2,803.5L1405.1,804.7L1410.0,805.8L1414.9,807.0L1419.9,808.2L1424.8,809.4L1429.7,810.5L1434.6,811.7L1439.5,812.9L1444.4,814.0L1449.3,815.2L1454.3,816.4L1459.2,817.6L1464.1,818.7L1469.0,819.9L1473.9,821.1L1478.8,822.3L1483.8,823.4L1488.7,824.6L1493.6,825.8L1498.5,827.0L1503.4,828.2L1508.3,829.4L1513.2,830.6L1518.2,831.8L1523.1,833.0L1528.0,834.2L1532.9,835.4L1537.8,836.6L1542.7,837.8L1547.6,839.0L1552.6,840.2L1557.5,841.5L1562.4,842.7L1567.3,843.9L1572.2,845.1L1577.1,846.4L1582.0,847.6L1587.0,848.9L1591.9,850.1L1596.8,851.4L1601.7,852.6L1606.6,853.9L1611.5,855.2L1616.5,856.4L1621.4,857.7L1626.3,859.0L1631.2,860.3L1636.1,861.6L1641.0,862.9L1645.9,864.2L1650.9,865.5L1655.8,866.8L1660.7,868.1L1665.6,869.5L1670.5,870.8L1675.4,872.1L1680.3,873.5L1685.3,874.8L1690.2,876.2L1695.1,877.6L1700.0,878.9L1704.9,880.3L1709.8,881.7L1714.8,883.1L1719.7,884.5L1724.6,885.9L1729.5,887.3L1734.4,888.8L1739.3,890.2L1744.2,891.7L1749.2,893.1L1754.1,894.6L1759.0,896.0L1763.9,897.5L1768.8,899.0L1773.7,900.5L1778.7,902.0L1783.6,903.5L1788.5,905.0L1793.4,906.5L1798.3,908.1L1803.2,909.6L1808.1,911.2L1813.1,912.8L1818.0,914.3L1822.9,915.9L1827.8,917.5L1832.7,919.1L1837.6,920.7L1842.5,922.4L1847.5,924.0L1852.4,925.6L1857.3,927.3L1862.2,929.0L1867.1,930.7L1872.0,932.3L1877.0,934.0L1881.9,935.8L1886.8,937.5L1891.7,939.2L1896.6,941.0L1901.5,942.7L1906.4,944.5L1911.4,946.3L1916.3,948.1L1921.2,949.9L1926.1,951.7L1931.0,953.5L1935.9,955.4L1940.8,957.2L1945.8,959.1L1950.7,961.0L1955.6,962.9L1960.5,964.8L1965.4,966.7L1970.3,968.7L1975.2,970.6L1980.2,972.6L1985.1,974.6L1990.0,976.6L1994.9,978.6L1999.8,980.6L2004.7,982.6L2009.7,984.7L2014.6,986.7L2019.5,988.8L2024.4,990.9L2029.3,993.0L2034.2,995.1L2039.1,997.3L2044.1,999.4L2049.0,1001.6L2053.9,1003.8L2058.8,1006.0L2063.7,1008.2L2068.6,1010.4L2073.6,1012.7L2078.5,1014.9L2083.4,1017.2L2088.3,1019.5L2093.2,1021.8L2098.1,1024.1L2103.0,1026.5L2108.0,1028.8L2112.9,1031.2L2117.8,1033.6L2122.7,1036.0L2127.6,1038.4L2132.5,1040.9L2137.4,1043.3L2142.4,1045.8L2147.3,1048.3L2152.2,1050.8L2157.1,1053.3L2162.0,1055.9L2166.9,1058.5L2171.8,1061.0L2176.8,1063.6L2181.7,1066.3L2186.6,1068.9L2191.5,1071.5L2196.4,1074.2L2201.3,1076.9L2206.3,1079.6L2211.2,1082.3L2216.1,1085.1L2221.0,1087.8L2225.9,1090.6L2230.8,1093.4L2235.7,1096.3L2240.7,1099.1L2245.6,1101.9L2250.5,1104.8L2255.4,1107.7L2260.3,1110.6L2265.2,1113.6L2270.2,1116.5L2275.1,1119.5L2280.0,1122.5L2284.9,1125.5L2289.8,1128.5L2294.7,1131.6L2299.6,1134.7L2304.6,1137.8L2309.5,1140.9L2314.4,1144.0L2319.3,1147.2L2324.2,1150.3L2329.1,1153.5L2334.0,1156.7L2339.0,1160.0L2343.9,1163.2L2348.8,1166.5L2353.7,1169.8L2358.6,1173.1L2363.5,1176.5L2368.4,1179.8L2373.4,1183.2L2378.3,1186.6L2383.2,1190.1L2388.1,1193.5L2393.0,1197.0L2397.9,1200.5L2402.9,1204.0L2407.8,1207.6L2412.7,1211.1L2417.6,1214.7L2422.5,1218.3" fill="none" stroke="#f00" stroke-width="3"/>
<path d="M236.0,273.9a19,19 0 1,0 38.0,0a19,19 0 1,0 -38.0,0zM240.9,277.9a19,19 0 1,0 38.0,0a19,19 0 1,0 -38.0,0zM245.8,281.9a19,19 0 1,0 38.0,0a19,19 0 1,0 -38.0,0zM250.7,285.9a19,19 0 1,0 38.0,0a19,19 0 1,0 -38.0,0zM255.7,289.9a19,19 0 1,0 38.0,0a19,19 0 1,0 -38.0,0zM260.6,293.8a19,19 0 1,0 38.0,0a19,19 0 1,0 -38.0,0zM265.5,297.8a19,19 0 1,0 38.0,0a19,19 0 1,0 -38.0,0zM270.4,301.8a19,19 0 1,0 38.0,0a19,19 0 1,0 -38.0,0zM275.3,305.8a19,19 0 1,0 38.0,0a19,19 0 1,0 -38.0,0zM280.2,309.8a19,19 0 1,0 38.0,0a19,19 0 1,0 -38.0,0zM285.1,313.7a19,19 0 1,0 38.0,0a19,19 0 1,0 -38.0,0zM290.1,317.7a19,19 0 1,0 38.0,0a19,19 0 1,0 -38.0,0zM295.0,321.7a19,19 0 1,0 38.0,0a19,19 0 1,0 -38.0,0zM299.9,325.7a19,19 0 1,0 38.0,0a19,19 0 1,0 -38.0,0zM304.8,329.7a19,19 0 1,0 38.0,0a19,19 0 1,0 -38.0,0zM309.7,333.7a19,19 0 1,0 38.0,0a19,19 0 1,0 -38.0,0zM314.6,337.7a19,19 0 1,0 38.0,0a19,19 0 1,0 -38.0,0zM319.6,341.7a19,19 0 1,0 38.0,0a19,19 0 1,0 -38.0,0zM324.5,345.7a19,19 0 1,0 38.0,0a19,19 0 1,0 -38.0,0zM329.4,349.7a19,19 0 1,0 38.0,0a19,19 0 1,0 -38.0,0zM334.3,353.6a19,19 0 1,0 38.0,0a19,19 0 1,0 -38.0,0zM339.2,357.5a19,19 0 1,0 38.0,0a19,19 0 1,0 -38.0,0zM344.1,361.5a19,19 0 1,0 38.0,0a19,19 0 1,0 -38.0,0zM349.0,365.4a19,19 0 1,0 38.0,0a19,19 0 1,0 -38.0,0zM354.0,369.3a19,19 0 1,0 38.0,0a19,19 0 1,0 -38.0,0zM358.9,373.2a19,19 0 1,0 38.0,0a19,19 0 1,0 -38.0,0zM363.8,377.1a19,19 0 1,0 38.0,0a19,19 0 1,0 -38.0,0zM368.7,380.9a19,19 0 1,0 38.0,0a19,19 0 1,0 -38.0,0zM373.6,384.8a19,19 0 1,0 38.0,0a19,19 0 1,0 -38.0,0zM378.5,388.6a19,19 0 1,0 38.0,0a19,19 0 1,0 -38.0,0zM383.4,392.3a19,19 0 1,0 38.0,0a19,19 0 1,0 -38.0,0zM388.4,396.1a19,19 0 1,0 38.0,0a19,19 0 1,0 -38.0,0zM393.3,399.8a19,19 0 1,0 38.0,0a19,19 0 1,0 -38.0,0zM398.2,403.5a19,19 0 1,0 38.0,0a19,19 0 1,0 -38.0,0zM403.1,407.1a19,19 0 1,0 38.0,0a19,19 0 1,0 -38.0,0zM408.0,410.8a19,19 0 1,0 38.0,0a19,19 0 1,0 -38.0,0zM412.9,414.4a19,19 0 1,0 38.0,0a19,19 0 1,0 -38.0,0zM417.9,418.0a19,19 0 1,0 38.0,0a19,19 0 1,0 -38.0,0zM422.8,421.6a19,19 0 1,0 38.0,0a19,19 0 1,0 -38.0,0zM427.7,425.1a19,19 0 1,0 38.0,0a19,19 0 1,0 -38.0,0zM432.6,428.7a19,19 0 1,0 38.0,0a19,19 0 1,0 -38.0,0zM437.5,432.2a19,19 0 1,0 38.0,0a19,19 0 1,0 -38.0,0zM442.4,435.6a19,19 0 1,0 38.0,0a19,19 0 1,0 -38.0,0zM447.3,439.1a19,19 0 1,0 38.0,0a19,19 0 1,0 -38.0,0zM452.3,442.5a19,19 0 1,0 38.0,0a19,19 0 1,0 -38.0,0zM457.2,445.9a19,19 0 1,0 38.0,0a19,19 0 1,0 -38.0,0zM462.1,449.3a19,19 0 1,0 38.0,0a19,19 0 1,0 -38.0,0zM467.0,452.6a19,19 0 1,0 38.0,0a19,19 0 1,0 -38.0,0zM471.9,456.0a19,19 0 1,0 38.0,0a19,19 0 1,0 -38.0,0zM476.8,459.2a19,19 0 1,0 38.0,0a19,19 0 1,0 -38.0,0zM481.8,462.5a19,19 0 1,0 38.0,0a19,19 0 1,0 -38.0,0zM486.7,465.7a19,19 0 1,0 38.0,0a19,19 0 1,0 -38.0,0zM491.6,468.9a19,19 0 1,0 38.0,0a19,19 0 1,0 -38.0,0zM496.5,472.1a19,19 0 1,0 38.0,0a19,19 0 1,0 -38.0,0zM501.4,475.3a19,19 0 1,0 38.0,0a19,19 0 1,0 -38.0,0zM506.3,478.4a19,19 0 1,0 38.0,0a19,19 0 1,0 -38.0,0zM511.2,481.5a19,19 0 1,0 38.0,0a19,19 0 1,0 -38.0,0zM516.2,484.6a19,19 0 1,0 38.0,0a19,19 0 1,0 -38.0,0zM521.1,487.7a19,19 0 1,0 38.0,0a19,19 0 1,0 -38.0,0zM526.0,490.8a19,19 0 1,0 38.0,0a19,19 0 1,0 -38.0,0zM530.9,493.8a19,19 0 1,0 38.0,0a19,19 0 1,0 -38.0,0zM535.8,496.8a19,19 0 1,0 38.0,0a19,19 0 1,0 -38.0,0zM540.7,499.8a19,19 0 1,0 38.0,0a19,19 0 1,0 -38.0,0zM545.6,502.7a19,19 0 1,0 38.0,0a19,19 0 1,0 -38.0,0zM550.6,505.7a19,19 0 1,0 38.0,0a19,19 0 1,0 -38.0,0zM555.5,508.6a19,19 0 1,0 38.0,0a19,19 0 1,0 -38.0,0zM560.4,511.5a19,19 0 1,0 38.0,0a19,19 0 1,0 -38.0,0zM565.3,514.4a19,19 0 1,0 38.0,0a19,19 0 1,0 -38.0,0zM570.2,517.3a19,19 0 1,0 38.0,0a19,19 0 1,0 -38.0,0zM575.1,520.1a19,19 0 1,0 38.0,0a19,19 0 1,0 -38.0,0zM580.0,522.9a19,19 0 1,0 38.0,0a19,19 0 1,0 -38.0,0zM585.0,525.7a19,19 0 1,0 38.0,0a19,19 0 1,0 -38.0,0zM589.9,528.5a19,19 0 1,0 38.0,0a19,19 0 1,0 -38.0,0zM594.8,531.3a19,19 0 1,0 38.0,0a19,19 0 1,0 -38.0,0zM599.7,534.0a19,19 0 1,0 38.0,0a19,19 0 1,0 -38.0,0zM604.6,536.7a19,19 0 1,0 38.0,0a19,19 0 1,0 -38.0,0zM609.5,539.4a19,19 0 1,0 38.0,0a19,19 0 1,0 -38.0,0zM614.5,542.1a19,19 0 1,0 38.0,0a19,19 0 1,0 -38.0,0zM619.4,544.8a19,19 0 1,0 38.0,0a19,19 0 1,0 -38.0,0zM624.3,547.4a19,19 0 1,0 38.0,0a19,19 0 1,0 -38.0,0zM629.2,550.0a19,19 0 1,0 38.0,0a19,19 0 1,0 -38.0,0zM634.1,552.6a19,19 0 1,0 38.0,0a19,19 0 1,0 -38.0,0zM639.0,555.2a19,19 0 1,0 38.0,0a19,19 0 1,0 -38.0,0zM643.9,557.8a19,19 0 1,0 38.0,0a19,19 0 1,0 -38.0,0zM648.9,560.4a19,19 0 1,0 38.0,0a19,19 0 1,0 -38.0,0zM653.8,562.9a19,19 0 1,0 38.0,0a19,19 0 1,0 -38.0,0zM658.7,565.4a19,19 0 1,0 38.0,0a19,19 0 1,0 -38.0,0zM663.6,567.9a19,19 0 1,0 38.0,0a19,19 0 1,0 -38.0,0zM668.5,570.4a19,19 0 1,0 38.0,0a19,19 0 1,0 -38.0,0zM673.4,572.8a19,19 0 1,0 38.0,0a19,19 0 1,0 -38.0,0zM678.4,575.3a19,19 0 1,0 38.0,0a19,19 0 1,0 -38.0,0zM683.3,577.7a19,19 0 1,0 38.0,0a19,19 0 1,0 -38.0,0zM688.2,580.1a19,19 0 1,0 38.0,0a19,19 0 1,0 -38.0,0zM693.1,582.5a19,19 0 1,0 38.0,0a19,19 0 1,0 -38.0,0zM698.0,584.9a19,19 0 1,0 38.0,0a19,19 0 1,0 -38.0,0zM702.9,587.2a19,19 0 1,0 38.0,0a19,19 0 1,0 -38.0,0zM707.8,589.6a19,19 0 1,0 38.0,0a19,19 0 1,0 -38.0,0zM712.8,591.9a19,19 0 1,0 38.0,0a19,19 0 1,0 -38.0,0zM717.7,594.2a19,19 0 1,0 38.0,0a19,19 0 1,0 -38.0,0zM722.6,596.5a19,19 0 1,0 38.0,0a19,19 0 1,0 -38.0,0zM727.5,598.8a19,19 0 1,0 38.0,0a19,19 0 1,0 -38.0,0zM732.4,601.0a19,19 0 1,0 38.0,0a19,19 0 1,0 -38.0,0zM737.3,603.3a19,19 0 1,0 38.0,0a19,19 0 1,0 -38.0,0zM742.2,605.5a19,19 0 1,0 38.0,0a19,19 0 1,0 -38.0,0zM747.2,607.7a19,19 0 1,0 38.0,0a19,19 0 1,0 -38.0,0zM752.1,609.9a19,19 0 1,0 38.0,0a19,19 0 1,0 -38.0,0zM757.0,612.1a19,19 0 1,0 38.0,0a19,19 0 1,0 -38.0,0zM761.9,614.2a19,19 0 1,0 38.0,0a19,19 0 1,0 -38.0,0zM766.8,616.4a19,19 0 1,0 38.0,0a19,19 0 1,0 -38.0,0zM771.7,618.5a19,19 0 1,0 38.0,0a19,19 0 1,0 -38.0,0zM776.6,620.6a19,19 0 1,0 38.0,0a19,19 0 1,0 -38.0,0zM781.6,622.7a19,19 0 1,0 38.0,0a19,19 0 1,0 -38.0,0zM786.5,624.8a19,19 0 1,0 38.0,0a19,19 0 1,0 -38.0,0zM791.4,626.9a19,19 0 1,0 38.0,0a19,19 0 1,0 -38.0,0zM796.3,629.0a19,19 0 1,0 38.0,0a19,19 0 1,0 -38.0,0zM801.2,631.0a19,19 0 1,0 38.0,0a19,19 0 1,0 -38.0,0zM806.1,633.0a19,19 0 1,0 38.0,0a19,19 0 1,0 -38.0,0zM811.1,635.0a19,19 0 1,0 38.0,0a19,19 0 1,0 -38.0,0zM816.0,637.0a19,19 0 1,0 38.0,0a19,19 0 1,0 -38.0,0zM820.9,639.0a19,19 0 1,0 38.0,0a19,19 0 1,0 -38.0,0zM825.8,641.0a19,19 0 1,0 38.0,0a19,19 0 1,0 -38.0,0zM830.7,643.0a19,19 0 1,0 38.0,0a19,19 0 1,0 -38.0,0zM835.6,644.9a19,19 0 1,0 38.0,0a19,19 0 1,0 -38.0,0zM840.5,646.9a19,19 0 1,0 38.0,0a19,19 0 1,0 -38.0,0zM845.5,648.8a19,19 0 1,0 38.0,0a19,19 0 1,0 -38.0,0zM850.4,650.7a19,19 0 1,0 38.0,0a19,19 0 1,0 -38.0,0zM855.3,652.6a19,19 0 1,0 38.0,0a19,19 0 1,0 -38.0,0zM860.2,654.5a19,19 0 1,0 38.0,0a19,19 0 1,0 -38.0,0zM865.1,656.3a19,19 0 1,0 38.0,0a19,19 0 1,0 -38.0,0zM870.0,658.2a19,19 0 1,0 38.0,0a19,19 0 1,0 -38.0,0zM875.0,660.0a19,19 0 1,0 38.0,0a19,19 0 1,0 -38.0,0zM879.9,661.8a19,19 0 1,0 38.0,0a19,19 0 1,0 -38.0,0zM884.8,663.7a19,19 0 1,0 38.0,0a19,19 0 1,0 -38.0,0zM889.7,665.5a19,19 0 1,0 38.0,0a19,19 0 1,0 -38.0,0zM894.6,667.3a19,19 0 1,0 38.0,0a19,19 0 1,0 -38.0,0zM899.5,669.0a19,19 0 1,0 38.0,0a19,19 0 1,0 -38.0,0zM904.4,670.8a19,19 0 1,0 38.0,0a19,19 0 1,0 -38.0,0zM909.4,672.6a19,19 0 1,0 38.0,0a19,19 0 1,0 -38.0,0zM914.3,674.3a19,19 0 1,0 38.0,0a19,19 0 1,0 -38.0,0zM919.2,676.0a19,19 0 1,0 38.0,0a19,19 0 1,0 -38.0,0zM924.1,677.7a19,19 0 1,0 38.0,0a19,19 0 1,0 -38.0,0zM929.0,679.5a19,19 0 1,0 38.0,0a19,19 0 1,0 -38.0,0zM933.9,681.2a19,19 0 1,0 38.0,0a19,19 0 1,0 -38.0,0zM938.8,682.8a19,19 0 1,0 38.0,0a19,19 0 1,0 -38.0,0zM943.8,684.5a19,19 0 1,0 38.0,0a19,19 0 1,0 -38.0,0zM948.7,686.2a19,19 0 1,0 38.0,0a19,19 0 1,0 -38.0,0zM953.6,687.8a19,19 0 1,0 38.0,0a19,19 0 1,0 -38.0,0zM958.5,689.5a19,19 0 1,0 38.0,0a19,19 0 1,0 -38.0,0zM963.4,691.1a19,19 0 1,0 38.0,0a19,19 0 1,0 -38.0,0zM968.3,692.7a19,19 0 1,0 38.0,0a19,19 0 1,0 -38.0,0zM973.2,694.3a19,19 0 1,0 38.0,0a19,19 0 1,0 -38.0,0zM978.2,695.9a19,19 0 1,0 38.0,0a19,19 0 1,0 -38.0,0zM983.1,697.5a19,19 0 1,0 38.0,0a19,19 0 1,0 -38.0,0zM988.0,699.1a19,19 0 1,0 38.0,0a19,19 0 1,0 -38.0,0zM992.9,700.6a19,19 0 1,0 38.0,0a19,19 0 1,0 -38.0,0zM997.8,702.2a19,19 0 1,0 38.0,0a19,19 0 1,0 -38.0,0zM1002.7,703.7a19,19 0 1,0 38.0,0a19,19 0 1,0 -38.0,0zM1007.7,705.3a19,19 0 1,0 38.0,0a19,19 0 1,0 -38.0,0zM1012.6,706.8a19,19 0 1,0 38.0,0a19,19 0 1,0 -38.0,0zM1017.5,708.3a19,19 0 1,0 38.0,0a19,19 0 1,0 -38.0,0zM1022.4,709.8a19,19 0 1,0 38.0,0a19,19 0 1,0 -38.0,0zM1027.3,711.4a19,19 0 1,0 38.0,0a19,19 0 1,0 -38.0,0zM1032.2,712.8a19,19 0 1,0 38.0,0a19,19 0 1,0 -38.0,0zM1037.1,714.3a19,19 0 1,0 38.0,0a19,19 0 1,0 -38.0,0zM1042.1,715.8a19,19 0 1,0 38.0,0a19,19 0 1,0 -38.0,0zM1047.0,717.3a19,19 0 1,0 38.0,0a19,19 0 1,0 -38.0,0zM1051.9,718.7a19,19 0 1,0 38.0,0a19,19 0 1,0 -38.0,0zM1056.8,720.2a19,19 0 1,0 38.0,0a19,19 0 1,0 -38.0,0zM1061.7,721.6a19,19 0 1,0 38.0,0a19,19 0 1,0 -38.0,0zM1066.6,723.1a19,19 0 1,0 38.0,0a19,19 0 1,0 -38.0,0zM1071.5,724.5a19,19 0 1,0 38.0,0a19,19 0 1,0 -38.0,0zM1076.5,725.9a19,19 0 1,0 38.0,0a19,19 0 1,0 -38.0,0zM1081.4,727.3a19,19 0 1,0 38.0,0a19,19 0 1,0 -38.0,0zM1086.3,728.7a19,19 0 1,0 38.0,0a19,19 0 1,0 -38.0,0zM1091.2,730.1a19,19 0 1,0 38.0,0a19,19 0 1,0 -38.0,0zM1096.1,731.5a19,19 0 1,0 38.0,0a19,19 0 1,0 -38.0,0zM1101.0,732.9a19,19 0 1,0 38.0,0a19,19 0 1,0 -38.0,0zM1106.0,734.3a19,19 0 1,0 38.0,0a19,19 0 1,0 -38.0,0zM1110.9,735.7a19,19 0 1,0 38.0,0a19,19 0 1,0 -38.0,0zM1115.8,737.0a19,19 0 1,0 38.0,0a19,19 0 1,0 -38.0,0zM1120.7,738.4a19,19 0 1,0 38.0,0a19,19 0 1,0 -38.0,0zM1125.6,739.7a19,19 0 1,0 38.0,0a19,19 0 1,0 -38.0,0zM1130.5,741.1a19,19 0 1,0 38.0,0a19,19 0 1,0 -38.0,0zM1135.4,742.4a19,19 0 1,0 38.0,0a19,19 0 1,0 -38.0,0zM1140.4,743.7a19,19 0 1,0 38.0,0a19,19 0 1,0 -38.0,0zM1145.3,745.1a19,19 0 1,0 38.0,0a19,19 0 1,0 -38.0,0zM1150.2,746.4a19,19 0 1,0 38.0,0a19,19 0 1,0 -38.0,0zM1155.1,747.7a19,19 0 1,0 38.0,0a19,19 0 1,0 -38.0,0zM1160.0,749.0a19,19 0 1,0 38.0,0a19,19 0 1,0 -38.0,0zM1164.9,750.3a19,19 0 1,0 38.0,0a19,19 0 1,0 -38.0,0zM1169.8,751.6a19,19 0 1,0 38.0,0a19,19 0 1,0 -38.0,0zM1174.8,752.9a19,19 0 1,0 38.0,0a19,19 0 1,0 -38.0,0zM1179.7,754.1a19,19 0 1,0 38.0,0a19,19 0 1,0 -38.0,0zM1184.6,755.4a19,19 0 1,0 38.0,0a19,19 0 1,0 -38.0,0zM1189.5,756.7a19,19 0 1,0 38.0,0a19,19 0 1,0 -38.0,0zM1194.4,757.9a19,19 0 1,0 38.0,0a19,19 0 1,0 -38.0,0zM1199.3,759.2a19,19 0 1,0 38.0,0a19,19 0 1,0 -38.0,0zM1204.3,760.5a19,19 0 1,0 38.0,0a19,19 0 1,0 -38.0,0zM1209.2,761.7a19,19 0 1,0 38.0,0a19,19 0 1,0 -38.0,0zM1214.1,763.0a19,19 0 1,0 38.0,0a19,19 0 1,0 -38.0,0zM1219.0,764.2a19,19 0 1,0 38.0,0a19,19 0 1,0 -38.0,0zM1223.9,765.4a19,19 0 1,0 38.0,0a19,19 0 1,0 -38.0,0zM1228.8,766.7a19,19 0 1,0 38.0,0a19,19 0 1,0 -38.0,0zM1233.7,767.9a19,19 0 1,0 38.0,0a19,19 0 1,0 -38.0,0zM1238.7,769.1a19,19 0 1,0 38.0,0a19,19 0 1,0 -38.0,0zM1243.6,770.3a19,19 0 1,0 38.0,0a19,19 0 1,0 -38.0,0zM1248.5,771.5a19,19 0 1,0 38.0,0a19,19 0 1,0 -38.0,0zM1253.4,772.8a19,19 0 1,0 38.0,0a19,19 0 1,0 -38.0,0zM1258.3,774.0a19,19 0 1,0 38.0,0a19,19 0 1,0 -38.0,0zM1263.2,775.2a19,19 0 1,0 38.0,0a19,19 0 1,0 -38.0,0zM1268.2,776.4a19,19 0 1,0 38.0,0a19,19 0 1,0 -38.0,0zM1273.1,777.6a19,19 0 1,0 38.0,0a19,19 0 1,0 -38.0,0zM1278.0,778.8a19,19 0 1,0 38.0,0a19,19 0 1,0 -38.0,0zM1282.9,780.0a19,19 0 1,0 38.0,0a19,19 0 1,0 -38.0,0zM1287.8,781.2a19,19 0 1,0 38.0,0a19,19 0 1,0 -38.0,0zM1292.7,782.4a19,19 0 1,0 38.0,0a19,19 0 1,0 -38.0,0zM1297.6,783.5a19,19 0 1,0 38.0,0a19,19 0 1,0 -38.0,0zM1302.6,784.7a19,19 0 1,0 38.0,0a19,19 0 1,0 -38.0,0zM1307.5,785.9a19,19 0 1,0 38.0,0a19,19 0 1,0 -38.0,0zM1312.4,787.1a19,19 0 1,0 38.0,0a19,19 0 1,0 -38.0,0zM1317.3,788.3a19,19 0 1,0 38.0,0a19,19 0 1,0 -38.0,0zM1322.2,789.5a19,19 0 1,0 38.0,0a19,19 0 1,0 -38.0,0zM1327.1,790.6a19,19 0 1,0 38.0,0a19,19 0 1,0 -38.0,0zM1332.0,791.8a19,19 0 1,0 38.0,0a19,19 0 1,0 -38.0,0zM1337.0,793.0a19,19 0 1,0 38.0,0a19,19 0 1,0 -38.0,0zM1341.9,794.2a19,19 0 1,0 38.0,0a19,19 0 1,0 -38.0,0zM1346.8,795.3a19,19 0 1,0 38.0,0a19,19 0 1,0 -38.0,0zM1351.7,796.5a19,19 0 1,0 38.0,0a19,19 0 1,0 -38.0,0zM1356.6,797.7a19,19 0 1,0 38.0,0a19,19 0 1,0 -38.0,0zM1361.5,798.8a19,19 0 1,0 38.0,0a19,19 0 1,0 -38.0,0zM1366.5,800.0a19,19 0 1,0 38.0,0a19,19 0 1,0 -38.0,0zM1371.4,801.2a19,19 0 1,0 38.0,0a19,19 0 1,0 -38.0,0zM1376.3,802.3a19,19 0 1,0 38.0,0a19,19 0 1,0 -38.0,0zM1381.2,803.5a19,19 0 1,0 38.0,0a19,19 0 1,0 -38.0,0zM1386.1,804.7a19,19 0 1,0 38.0,0a19,19 0 1,0 -38.0,0zM1391.0,805.8a19,19 0 1,0 38.0,0a19,19 0 1,0 -38.0,0zM1395.9,807.0a19,19 0 1,0 38.0,0a19,19 0 1,0 -38.0,0zM1400.9,808.2a19,19 0 1,0 38.0,0a19,19 0 1,0 -38.0,0zM1405.8,809.4a19,19 0 1,0 38.0,0a19,19 0 1,0 -38.0,0zM1410.7,810.5a19,19 0 1,0 38.0,0a19,19 0 1,0 -38.0,0zM1415.6,811.7a19,19 0 1,0 38.0,0a19,19 0 1,0 -38.0,0zM1420.5,812.9a19,19 0 1,0 38.0,0a19,19 0 1,0 -38.0,0zM1425.4,814.0a19,19 0 1,0 38.0,0a19,19 0 1,0 -38.0,0zM1430.3,815.2a19,19 0 1,0 38.0,0a19,19 0 1,0 -38.0,0zM1435.3,816.4a19,19 0 1,0 38.0,0a19,19 0 1,0 -38.0,0zM1440.2,817.6a19,19 0 1,0 38.0,0a19,19 0 1,0 -38.0,0zM1445.1,818.7a19,19 0 1,0 38.0,0a19,19 0 1,0 -38.0,0zM1450.0,819.9a19,19 0 1,0 38.0,0a19,19 0 1,0 -38.0,0zM1454.9,821.1a19,19 0 1,0 38.0,0a19,19 0 1,0 -38.0,0zM1459.8,822.3a19,19 0 1,0 38.0,0a19,19 0 1,0 -38.0,0zM1464.8,823.4a19,19 0 1,0 38.0,0a19,19 0 1,0 -38.0,0zM1469.7,824.6a19,19 0 1,0 38.0,0a19,19 0 1,0 -38.0,0zM1474.6,825.8a19,19 0 1,0 38.0,0a19,19 0 1,0 -38.0,0zM1479.5,827.0a19,19 0 1,0 38.0,0a19,19 0 1,0 -38.0,0zM1484.4,828.2a19,19 0 1,0 38.0,0a19,19 0 1,0 -38.0,0zM1489.3,829.4a19,19 0 1,0 38.0,0a19,19 0 1,0 -38.0,0zM1494.2,830.6a19,19 0 1,0 38.0,0a19,19 0 1,0 -38.0,0zM1499.2,831.8a19,19 0 1,0 38.0,0a19,19 0 1,0 -38.0,0zM1504.1,833.0a19,19 0 1,0 38.0,0a19,19 0 1,0 -38.0,0zM1509.0,834.2a19,19 0 1,0 38.0,0a19,19 0 1,0 -38.0,0zM1513.9,835.4a19,19 0 1,0 38.0,0a19,19 0 1,0 -38.0,0zM1518.8,836.6a19,19 0 1,0 38.0,0a19,19 0 1,0 -38.0,0zM1523.7,837.8a19,19 0 1,0 38.0,0a19,19 0 1,0 -38.0,0zM1528.6,839.0a19,19 0 1,0 38.0,0a19,19 0 1,0 -38.0,0zM1533.6,840.2a19,19 0 1,0 38.0,0a19,19 0 1,0 -38.0,0zM1538.5,841.5a19,19 0 1,0 38.0,0a19,19 0 1,0 -38.0,0zM1543.4,842.7a19,19 0 1,0 38.0,0a19,19 0 1,0 -38.0,0zM1548.3,843.9a19,19 0 1,0 38.0,0a19,19 0 1,0 -38.0,0zM1553.2,845.1a19,19 0 1,0 38.0,0a19,19 0 1,0 -38.0,0zM1558.1,846.4a19,19 0 1,0 38.0,0a19,19 0 1,0 -38.0,0zM1563.0,847.6a19,19 0 1,0 38.0,0a19,19 0 1,0 -38.0,0zM1568.0,848.9a19,19 0 1,0 38.0,0a19,19 0 1,0 -38.0,0zM1572.9,850.1a19,19 0 1,0 38.0,0a19,19 0 1,0 -38.0,0zM1577.8,851.4a19,19 0 1,0 38.0,0a19,19 0 1,0 -38.0,0zM1582.7,852.6a19,19 0 1,0 38.0,0a19,19 0 1,0 -38.0,0zM1587.6,853.9a19,19 0 1,0 38.0,0a19,19 0 1,0 -38.0,0zM1592.5,855.2a19,19 0 1,0 38.0,0a19,19 0 1,0 -38.0,0zM1597.5,856.4a19,19 0 1,0 38.0,0a19,19 0 1,0 -38.0,0zM1602.4,857.7a19,19 0 1,0 38.0,0a19,19 0 1,0 -38.0,0zM1607.3,859.0a19,19 0 1,0 38.0,0a19,19 0 1,0 -38.0,0zM1612.2,860.3a19,19 0 1,0 38.0,0a19,19 0 1,0 -38.0,0zM1617.1,861.6a19,19 0 1,0 38.0,0a19,19 0 1,0 -38.0,0zM1622.0,862.9a19,19 0 1,0 38.0,0a19,19 0 1,0 -38.0,0zM1626.9,864.2a19,19 0 1,0 38.0,0a19,19 0 1,0 -38.0,0zM1631.9,865.5a19,19 0 1,0 38.0,0a19,19 0 1,0 -38.0,0zM1636.8,866.8a19,19 0 1,0 38.0,0a19,19 0 1,0 -38.0,0zM1641.7,868.1a19,19 0 1,0 38.0,0a19,19 0 1,0 -38.0,0zM1646.6,869.5a19,19 0 1,0 38.0,0a19,19 0 1,0 -38.0,0zM1651.5,870.8a19,19 0 1,0 38.0,0a19,19 0 1,0 -38.0,0zM1656.4,872.1a19,19 0 1,0 38.0,0a19,19 0 1,0 -38.0,0zM1661.3,873.5a19,19 0 1,0 38.0,0a19,19 0 1,0 -38.0,0zM1666.3,874.8a19,19 0 1,0 38.0,0a19,19 0 1,0 -38.0,0zM1671.2,876.2a19,19 0 1,0 38.0,0a19,19 0 1,0 -38.0,0zM1676.1,877.6a19,19 0 1,0 38.0,0a19,19 0 1,0 -38.0,0zM1681.0,878.9a19,19 0 1,0 38.0,0a19,19 0 1,0 -38.0,0zM1685.9,880.3a19,19 0 1,0 38.0,0a19,19 0 1,0 -38.0,0zM1690.8,881.7a19,19 0 1,0 38.0,0a19,19 0 1,0 -38.0,0zM1695.8,883.1a19,19 0 1,0 38.0,0a19,19 0 1,0 -38.0,0zM1700.7,884.5a19,19 0 1,0 38.0,0a19,19 0 1,0 -38.0,0zM1705.6,885.9a19,19 0 1,0 38.0,0a19,19 0 1,0 -38.0,0zM1710.5,887.3a19,19 0 1,0 38.0,0a19,19 0 1,0 -38.0,0zM1715.4,888.8a19,19 0 1,0 38.0,0a19,19 0 1,0 -38.0,0zM1720.3,890.2a19,19 0 1,0 38.0,0a19,19 0 1,0 -38.0,0zM1725.2,891.7a19,19 0 1,0 38.0,0a19,19 0 1,0 -38.0,0zM1730.2,893.1a19,19 0 1,0 38.0,0a19,19 0 1,0 -38.0,0zM1735.1,894.6a19,19 0 1,0 38.0,0a19,19 0 1,0 -38.0,0zM1740.0,896.0a19,19 0 1,0 38.0,0a19,19 0 1,0 -38.0,0zM1744.9,897.5a19,19 0 1,0 38.0,0a19,19 0 1,0 -38.0,0zM1749.8,899.0a19,19 0 1,0 38.0,0a19,19 0 1,0 -38.0,0zM1754.7,900.5a19,19 0 1,0 38.0,0a19,19 0 1,0 -38.0,0zM1759.7,902.0a19,19 0 1,0 38.0,0a19,19 0 1,0 -38.0,0zM1764.6,903.5a19,19 0 1,0 38.0,0a19,19 0 1,0 -38.0,0zM1769.5,905.0a19,19 0 1,0 38.0,0a19,19 0 1,0 -38.0,0zM1774.4,906.5a19,19 0 1,0 38.0,0a19,19 0 1,0 -38.0,0zM1779.3,908.1a19,19 0 1,0 38.0,0a19,19 0 1,0 -38.0,0zM1784.2,909.6a19,19 0 1,0 38.0,0a19,19 0 1,0 -38.0,0zM1789.1,911.2a19,19 0 1,0 38.0,0a19,19 0 1,0 -38.0,0zM1794.1,912.8a19,19 0 1,0 38.0,0a19,19 0 1,0 -38.0,0zM1799.0,914.3a19,19 0 1,0 38.0,0a19,19 0 1,0 -38.0,0zM1803.9,915.9a19,19 0 1,0 38.0,0a19,19 0 1,0 -38.0,0zM1808.8,917.5a19,19 0 1,0 38.0,0a19,19 0 1,0 -38.0,0zM1813.7,919.1a19,19 0 1,0 38.0,0a19,19 0 1,0 -38.0,0zM1818.6,920.7a19,19 0 1,0 38.0,0a19,19 0 1,0 -38.0,0zM1823.5,922.4a19,19 0 1,0 38.0,0a19,19 0 1,0 -38.0,0zM1828.5,924.0a19,19 0 1,0 38.0,0a19,19 0 1,0 -38.0,0zM1833.4,925.6a19,19 0 1,0 38.0,0a19,19 0 1,0 -38.0,0zM1838.3,927.3a19,19 0 1,0 38.0,0a19,19 0 1,0 -38.0,0zM1843.2,929.0a19,19 0 1,0 38.0,0a19,19 0 1,0 -38.0,0zM1848.1,930.7a19,19 0 1,0 38.0,0a19,19 0 1,0 -38.0,0zM1853.0,932.3a19,19 0 1,0 38.0,0a19,19 0 1,0 -38.0,0zM1858.0,934.0a19,19 0 1,0 38.0,0a19,19 0 1,0 -38.0,0zM1862.9,935.8a19,19 0 1,0 38.0,0a19,19 0 1,0 -38.0,0zM1867.8,937.5a19,19 0 1,0 38.0,0a19,19 0 1,0 -38.0,0zM1872.7,939.2a19,19 0 1,0 38.0,0a19,19 0 1,0 -38.0,0zM1877.6,941.0a19,19 0 1,0 38.0,0a19,19 0 1,0 -38.0,0zM1882.5,942.7a19,19 0 1,0 38.0,0a19,19 0 1,0 -38.0,0zM1887.4,944.5a19,19 0 1,0 38.0,0a19,19 0 1,0 -38.0,0zM1892.4,946.3a19,19 0 1,0 38.0,0a19,19 0 1,0 -38.0,0zM1897.3,948.1a19,19 0 1,0 38.0,0a19,19 0 1,0 -38.0,0zM1902.2,949.9a19,19 0 1,0 38.0,0a19,19 0 1,0 -38.0,0zM1907.1,951.7a19,19 0 1,0 38.0,0a19,19 0 1,0 -38.0,0zM1912.0,953.5a19,19 0 1,0 38.0,0a19,19 0 1,0 -38.0,0zM1916.9,955.4a19,19 0 1,0 38.0,0a19,19 0 1,0 -38.0,0zM1921.8,957.2a19,19 0 1,0 38.0,0a19,19 0 1,0 -38.0,0zM1926.8,959.1a19,19 0 1,0 38.0,0a19,19 0 1,0 -38.0,0zM1931.7,961.0a19,19 0 1,0 38.0,0a19,19 0 1,0 -38.0,0zM1936.6,962.9a19,19 0 1,0 38.0,0a19,19 0 1,0 -38.0,0zM1941.5,964.8a19,19 0 1,0 38.0,0a19,19 0 1,0 -38.0,0zM1946.4,966.7a19,19 0 1,0 38.0,0a19,19 0 1,0 -38.0,0zM1951.3,968.7a19,19 0 1,0 38.0,0a19,19 0 1,0 -38.0,0zM1956.2,970.6a19,19 0 1,0 38.0,0a19,19 0 1,0 -38.0,0zM1961.2,972.6a19,19 0 1,0 38.0,0a19,19 0 1,0 -38.0,0zM1966.1,974.6a19,19 0 1,0 38.0,0a19,19 0 1,0 -38.0,0zM1971.0,976.6a19,19 0 1,0 38.0,0a19,19 0 1,0 -38.0,0zM1975.9,978.6a19,19 0 1,0 38.0,0a19,19 0 1,0 -38.0,0zM1980.8,980.6a19,19 0 1,0 38.0,0a19,19 0 1,0 -38.0,0zM1985.7,982.6a19,19 0 1,0 38.0,0a19,19 0 1,0 -38.0,0zM1990.7,984.7a19,19 0 1,0 38.0,0a19,19 0 1,0 -38.0,0zM1995.6,986.7a19,19 0 1,0 38.0,0a19,19 0 1,0 -38.0,0zM2000.5,988.8a19,19 0 1,0 38.0,0a19,19 0 1,0 -38.0,0zM2005.4,990.9a19,19 0 1,0 38.0,0a19,19 0 1,0 -38.0,0zM2010.3,993.0a19,19 0 1,0 38.0,0a19,19 0 1,0 -38.0,0zM2015.2,995.1a19,19 0 1,0 38.0,0a19,19 0 1,0 -38.0,0zM2020.1,997.3a19,19 0 1,0 38.0,0a19,19 0 1,0 -38.0,0zM2025.1,999.4a19,19 0 1,0 38.0,0a19,19 0 1,0 -38.0,0zM2030.0,1001.6a19,19 0 1,0 38.0,0a19,19 0 1,0 -38.0,0zM2034.9,1003.8a19,19 0 1,0 38.0,0a19,19 0 1,0 -38.0,0zM2039.8,1006.0a19,19 0 1,0 38.0,0a19,19 0 1,0 -38.0,0zM2044.7,1008.2a19,19 0 1,0 38.0,0a19,19 0 1,0 -38.0,0zM2049.6,1010.4a19,19 0 1,0 38.0,0a19,19 0 1,0 -38.0,0zM2054.6,1012.7a19,19 0 1,0 38.0,0a19,19 0 1,0 -38.0,0zM2059.5,1014.9a19,19 0 1,0 38.0,0a19,19 0 1,0 -38.0,0zM2064.4,1017.2a19,19 0 1,0 38.0,0a19,19 0 1,0 -38.0,0zM2069.3,1019.5a19,19 0 1,0 38.0,0a19,19 0 1,0 -38.0,0zM2074.2,1021.8a19,19 0 1,0 38.0,0a19,19 0 1,0 -38.0,0zM2079.1,1024.1a19,19 0 1,0 38.0,0a19,19 0 1,0 -38.0,0zM2084.0,1026.5a19,19 0 1,0 38.0,0a19,19 0 1,0 -38.0,0zM2089.0,1028.8a19,19 0 1,0 38.0,0a19,19 0 1,0 -38.0,0zM2093.9,1031.2a19,19 0 1,0 38.0,0a19,19 0 1,0 -38.0,0zM2098.8,1033.6a19,19 0 1,0 38.0,0a19,19 0 1,0 -38.0,0zM2103.7,1036.0a19,19 0 1,0 38.0,0a19,19 0 1,0 -38.0,0zM2108.6,1038.4a19,19 0 1,0 38.0,0a19,19 0 1,0 -38.0,0zM2113.5,1040.9a19,19 0 1,0 38.0,0a19,19 0 1,0 -38.0,0zM2118.4,1043.3a19,19 0 1,0 38.0,0a19,19 0 1,0 -38.0,0zM2123.4,1045.8a19,19 0 1,0 38.0,0a19,19 0 1,0 -38.0,0zM2128.3,1048.3a19,19 0 1,0 38.0,0a19,19 0 1,0 -38.0,0zM2133.2,1050.8a19,19 0 1,0 38.0,0a19,19 0 1,0 -38.0,0zM2138.1,1053.3a19,19 0 1,0 38.0,0a19,19 0 1,0 -38.0,0zM2143.0,1055.9a19,19 0 1,0 38.0,0a19,19 0 1,0 -38.0,0zM2147.9,1058.5a19,19 0 1,0 38.0,0a19,19 0 1,0 -38.0,0zM2152.8,1061.0a19,19 0 1,0 38.0,0a19,19 0 1,0 -38.0,0zM2157.8,1063.6a19,19 0 1,0 38.0,0a19,19 0 1,0 -38.0,0zM2162.7,1066.3a19,19 0 1,0 38.0,0a19,19 0 1,0 -38.0,0zM2167.6,1068.9a19,19 0 1,0 38.0,0a19,19 0 1,0 -38.0,0zM2172.5,1071.5a19,19 0 1,0 38.0,0a19,19 0 1,0 -38.0,0zM2177.4,1074.2a19,19 0 1,0 38.0,0a19,19 0 1,0 -38.0,0zM2182.3,1076.9a19,19 0 1,0 38.0,0a19,19 0 1,0 -38.0,0zM2187.3,1079.6a19,19 0 1,0 38.0,0a19,19 0 1,0 -38.0,0zM2192.2,1082.3a19,19 0 1,0 38.0,0a19,19 0 1,0 -38.0,0zM2197.1,1085.1a19,19 0 1,0 38.0,0a19,19 0 1,0 -38.0,0zM2202.0,1087.8a19,19 0 1,0 38.0,0a19,19 0 1,0 -38.0,0zM2206.9,1090.6a19,19 0 1,0 38.0,0a19,19 0 1,0 -38.0,0zM2211.8,1093.4a19,19 0 1,0 38.0,0a19,19 0 1,0 -38.0,0zM2216.7,1096.3a19,19 0 1,0 38.0,0a19,19 0 1,0 -38.0,0zM2221.7,1099.1a19,19 0 1,0 38.0,0a19,19 0 1,0 -38.0,0zM2226.6,1101.9a19,19 0 1,0 38.0,0a19,19 0 1,0 -38.0,0zM2231.5,1104.8a19,19 0 1,0 38.0,0a19,19 0 1,0 -38.0,0zM2236.4,1107.7a19,19 0 1,0 38.0,0a19,19 0 1,0 -38.0,0zM2241.3,1110.6a19,19 0 1,0 38.0,0a19,19 0 1,0 -38.0,0zM2246.2,1113.6a19,19 0 1,0 38.0,0a19,19 0 1,0 -38.0,0zM2251.2,1116.5a19,19 0 1,0 38.0,0a19,19 0 1,0 -38.0,0zM2256.1,1119.5a19,19 0 1,0 38.0,0a19,19 0 1,0 -38.0,0zM2261.0,1122.5a19,19 0 1,0 38.0,0a19,19 0 1,0 -38.0,0zM2265.9,1125.5a19,19 0 1,0 38.0,0a19,19 0 1,0 -38.0,0zM2270.8,1128.5a19,19 0 1,0 38.0,0a19,19 0 1,0 -38.0,0zM2275.7,1131.6a19,19 0 1,0 38.0,0a19,19 0 1,0 -38.0,0zM2280.6,1134.7a19,19 0 1,0 38.0,0a19,19 0 1,0 -38.0,0zM2285.6,1137.8a19,19 0 1,0 38.0,0a19,19 0 1,0 -38.0,0zM2290.5,1140.9a19,19 0 1,0 38.0,0a19,19 0 1,0 -38.0,0zM2295.4,1144.0a19,19 0 1,0 38.0,0a19,19 0 1,0 -38.0,0zM2300.3,1147.2a19,19 0 1,0 38.0,0a19,19 0 1,0 -38.0,0zM2305.2,1150.3a19,19 0 1,0 38.0,0a19,19 0 1,0 -38.0,0zM2310.1,1153.5a19,19 0 1,0 38.0,0a19,19 0 1,0 -38.0,0zM2315.0,1156.7a19,19 0 1,0 38.0,0a19,19 0 1,0 -38.0,0zM2320.0,1160.0a19,19 0 1,0 38.0,0a19,19 0 1,0 -38.0,0zM2324.9,1163.2a19,19 0 1,0 38.0,0a19,19 0 1,0 -38.0,0zM2329.8,1166.5a19,19 0 1,0 38.0,0a19,19 0 1,0 -38.0,0zM2334.7,1169.8a19,19 0 1,0 38.0,0a19,19 0 1,0 -38.0,0zM2339.6,1173.1a19,19 0 1,0 38.0,0a19,19 0 1,0 -38.0,0zM2344.5,1176.5a19,19 0 1,0 38.0,0a19,19 0 1,0 -38.0,0zM2349.4,1179.8a19,19 0 1,0 38.0,0a19,19 0 1,0 -38.0,0zM2354.4,1183.2a19,19 0 1,0 38.0,0a19,19 0 1,0 -38.0,0zM2359.3,1186.6a19,19 0 1,0 38.0,0a19,19 0 1,0 -38.0,0zM2364.2,1190.1a19,19 0 1,0 38.0,0a19,19 0 1,0 -38.0,0zM2369.1,1193.5a19,19 0 1,0 38.0,0a19,19 0 1,0 -38.0,0zM2374.0,1197.0a19,19 0 1,0 38.0,0a19,19 0 1,0 -38.0,0zM2378.9,1200.5a19,19 0 1,0 38.0,0a19,19 0 1,0 -38.0,0zM2383.9,1204.0a19,19 0 1,0 38.0,0a19,19 0 1,0 -38.0,0zM2388.8,1207.6a19,19 0 1,0 38.0,0a19,19 0 1,0 -38.0,0zM2393.7,1211.1a19,19 0 1,0 38.0,0a19,19 0 1,0 -38.0,0zM2398.6,1214.7a19,19 0 1,0 38.0,0a19,19 0 1,0 -38.0,0zM2403.5,1218.3a19,19 0 1,0 38.0,0a19,19 0 1,0 -38.0,0z" fill="#f00"/>
<path d="M255.0,280.5L259.9,284.7L264.8,288.9L269.7,293.0L274.7,297.1L279.6,301.2L284.5,305.2L289.4,309.2L294.3,313.3L299.2,317.2L304.1,321.2L309.1,325.2L314.0,329.1L318.9,333.0L323.8,336.8L328.7,340.7L333.6,344.5L338.6,348.3L343.5,352.1L348.4,355.9L353.3,359.6L358.2,363.3L363.1,367.0L368.0,370.7L373.0,374.4L377.9,378.0L382.8,381.6L387.7,385.2L392.6,388.8L397.5,392.3L402.4,395.8L407.4,399.3L412.3,402.8L417.2,406.3L422.1,409.7L427.0,413.1L431.9,416.5L436.9,419.9L441.8,423.3L446.7,426.6L451.6,429.9L456.5,433.2L461.4,436.5L466.3,439.8L471.3,443.0L476.2,446.2L481.1,449.4L486.0,452.6L490.9,455.7L495.8,458.9L500.8,462.0L505.7,465.1L510.6,468.2L515.5,471.2L520.4,474.3L525.3,477.3L530.2,480.3L535.2,483.3L540.1,486.2L545.0,489.2L549.9,492.1L554.8,495.0L559.7,497.9L564.6,500.8L569.6,503.6L574.5,506.4L579.4,509.2L584.3,512.0L589.2,514.8L594.1,517.6L599.0,520.3L604.0,523.0L608.9,525.7L613.8,528.4L618.7,531.1L623.6,533.7L628.5,536.4L633.5,539.0L638.4,541.6L643.3,544.1L648.2,546.7L653.1,549.2L658.0,551.8L662.9,554.3L667.9,556.8L672.8,559.2L677.7,561.7L682.6,564.1L687.5,566.6L692.4,569.0L697.4,571.4L702.3,573.7L707.2,576.1L712.1,578.4L717.0,580.8L721.9,583.1L726.8,585.4L731.8,587.6L736.7,589.9L741.6,592.1L746.5,594.4L751.4,596.6L756.3,598.8L761.2,600.9L766.2,603.1L771.1,605.3L776.0,607.4L780.9,609.5L785.8,611.6L790.7,613.7L795.6,615.8L800.6,617.9L805.5,619.9L810.4,621.9L815.3,623.9L820.2,626.0L825.1,627.9L830.1,629.9L835.0,631.9L839.9,633.8L844.8,635.8L849.7,637.7L854.6,639.6L859.5,641.5L864.5,643.4L869.4,645.2L874.3,647.1L879.2,648.9L884.1,650.8L889.0,652.6L894.0,654.4L898.9,656.2L903.8,658.0L908.7,659.7L913.6,661.5L918.5,663.2L923.4,665.0L928.4,666.7L933.3,668.4L938.2,670.1L943.1,671.8L948.0,673.5L952.9,675.2L957.8,676.8L962.8,678.5L967.7,680.1L972.6,681.7L977.5,683.3L982.4,684.9L987.3,686.5L992.2,688.1L997.2,689.7L1002.1,691.3L1007.0,692.8L1011.9,694.4L1016.8,695.9L1021.7,697.4L1026.7,698.9L1031.6,700.4L1036.5,701.9L1041.4,703.4L1046.3,704.9L1051.2,706.4L1056.1,707.9L1061.1,709.3L1066.0,710.8L1070.9,712.2L1075.8,713.6L1080.7,715.1L1085.6,716.5L1090.5,717.9L1095.5,719.3L1100.4,720.7L1105.3,722.1L1110.2,723.4L1115.1,724.8L1120.0,726.2L1125.0,727.5L1129.9,728.9L1134.8,730.2L1139.7,731.6L1144.6,732.9L1149.5,734.2L1154.4,735.6L1159.4,736.9L1164.3,738.2L1169.2,739.5L1174.1,740.8L1179.0,742.1L1183.9,743.4L1188.8,744.6L1193.8,745.9L1198.7,747.2L1203.6,748.5L1208.5,749.7L1213.4,751.0L1218.3,752.2L1223.3,753.5L1228.2,754.7L1233.1,756.0L1238.0,757.2L1242.9,758.4L1247.8,759.6L1252.7,760.9L1257.7,762.1L1262.6,763.3L1267.5,764.5L1272.4,765.7L1277.3,766.9L1282.2,768.1L1287.2,769.3L1292.1,770.5L1297.0,771.7L1301.9,772.9L1306.8,774.1L1311.7,775.3L1316.6,776.5L1321.6,777.7L1326.5,778.8L1331.4,780.0L1336.3,781.2L1341.2,782.4L1346.1,783.6L1351.0,784.7L1356.0,785.9L1360.9,787.1L1365.8,788.2L1370.7,789.4L1375.6,790.6L1380.5,791.7L1385.5,792.9L1390.4,794.1L1395.3,795.2L1400.2,796.4L1405.1,797.6L1410.0,798.7L1414.9,799.9L1419.9,801.1L1424.8,802.2L1429.7,803.4L1434.6,804.6L1439.5,805.7L1444.4,806.9L1449.3,808.1L1454.3,809.2L1459.2,810.4L1464.1,811.6L1469.0,812.8L1473.9,813.9L1478.8,815.1L1483.8,816.3L1488.7,817.5L1493.6,818.7L1498.5,819.8L1503.4,821.0L1508.3,822.2L1513.2,823.4L1518.2,824.6L1523.1,825.8L1528.0,827.0L1532.9,828.2L1537.8,829.4L1542.7,830.6L1547.6,831.8L1552.6,833.1L1557.5,834.3L1562.4,835.5L1567.3,836.7L1572.2,838.0L1577.1,839.2L1582.0,840.4L1587.0,841.7L1591.9,842.9L1596.8,844.2L1601.7,845.4L1606.6,846.7L1611.5,848.0L1616.5,849.2L1621.4,850.5L1626.3,851.8L1631.2,853.1L1636.1,854.4L1641.0,855.7L1645.9,857.0L1650.9,858.3L1655.8,859.6L1660.7,860.9L1665.6,862.3L1670.5,863.6L1675.4,864.9L1680.3,866.3L1685.3,867.6L1690.2,869.0L1695.1,870.4L1700.0,871.7L1704.9,873.1L1709.8,874.5L1714.8,875.9L1719.7,877.3L1724.6,878.7L1729.5,880.1L1734.4,881.6L1739.3,883.0L1744.2,884.5L1749.2,885.9L1754.1,887.4L1759.0,888.8L1763.9,890.3L1768.8,891.8L1773.7,893.3L1778.7,894.8L1783.6,896.3L1788.5,897.8L1793.4,899.4L1798.3,900.9L1803.2,902.4L1808.1,904.0L1813.1,905.6L1818.0,907.2L1822.9,908.7L1827.8,910.3L1832.7,912.0L1837.6,913.6L1842.5,915.2L1847.5,916.8L1852.4,918.5L1857.3,920.2L1862.2,921.8L1867.1,923.5L1872.0,925.2L1877.0,926.9L1881.9,928.6L1886.8,930.4L1891.7,932.1L1896.6,933.9L1901.5,935.6L1906.4,937.4L1911.4,939.2L1916.3,941.0L1921.2,942.8L1926.1,944.6L1931.0,946.5L1935.9,948.3L1940.8,950.2L1945.8,952.1L1950.7,954.0L1955.6,955.9L1960.5,957.8L1965.4,959.7L1970.3,961.7L1975.2,963.6L1980.2,965.6L1985.1,967.6L1990.0,969.6L1994.9,971.6L1999.8,973.6L2004.7,975.6L2009.7,977.7L2014.6,979.8L2019.5,981.9L2024.4,984.0L2029.3,986.1L2034.2,988.2L2039.1,990.4L2044.1,992.5L2049.0,994.7L2053.9,996.9L2058.8,999.1L2063.7,1001.3L2068.6,1003.6L2073.6,1005.8L2078.5,1008.1L2083.4,1010.4L2088.3,1012.7L2093.2,1015.0L2098.1,1017.3L2103.0,1019.7L2108.0,1022.0L2112.9,1024.4L2117.8,1026.8L2122.7,1029.2L2127.6,1031.7L2132.5,1034.1L2137.4,1036.6L2142.4,1039.1L2147.3,1041.6L2152.2,1044.1L2157.1,1046.6L2162.0,1049.2L2166.9,1051.8L2171.8,1054.3L2176.8,1057.0L2181.7,1059.6L2186.6,1062.2L2191.5,1064.9L2196.4,1067.6L2201.3,1070.3L2206.3,1073.0L2211.2,1075.7L2216.1,1078.5L2221.0,1081.2L2225.9,1084.0L2230.8,1086.9L2235.7,1089.7L2240.7,1092.5L2245.6,1095.4L2250.5,1098.3L2255.4,1101.2L2260.3,1104.1L2265.2,1107.1L2270.2,1110.0L2275.1,1113.0L2280.0,1116.0L2284.9,1119.1L2289.8,1122.1L2294.7,1125.2L2299.6,1128.3L2304.6,1131.4L2309.5,1134.5L2314.4,1137.6L2319.3,1140.8L2324.2,1144.0L2329.1,1147.2L2334.0,1150.4L2339.0,1153.7L2343.9,1157.0L2348.8,1160.3L2353.7,1163.6L2358.6,1166.9L2363.5,1170.3L2368.4,1173.7L2373.4,1177.1L2378.3,1180.5L2383.2,1183.9L2388.1,1187.4L2393.0,1190.9L2397.9,1194.4L2402.9,1198.0L2407.8,1201.5L2412.7,1205.1L2417.6,1208.7L2422.5,1212.3" fill="none" stroke="#00f" stroke-width="3"/>
<path d="M255.00,254.93L277.30,293.33L232.70,293.33ZM259.92,259.10L282.22,297.50L237.62,297.50ZM264.83,263.25L287.13,301.65L242.53,301.65ZM269.75,267.38L292.05,305.78L247.44,305.78ZM274.66,271.48L296.96,309.88L252.36,309.88ZM279.57,275.56L301.88,313.96L257.27,313.96ZM284.49,279.62L306.79,318.02L262.19,318.02ZM289.40,283.65L311.70,322.05L267.10,322.05ZM294.32,287.66L316.62,326.06L272.02,326.06ZM299.24,291.65L321.54,330.05L276.94,330.05ZM304.15,295.61L326.45,334.01L281.85,334.01ZM309.06,299.55L331.37,337.95L286.76,337.95ZM313.98,303.47L336.28,341.87L291.68,341.87ZM318.89,307.37L341.19,345.77L296.59,345.77ZM323.81,311.24L346.11,349.64L301.51,349.64ZM328.73,315.10L351.03,353.50L306.43,353.50ZM333.64,318.93L355.94,357.33L311.34,357.33ZM338.56,322.73L360.86,361.13L316.25,361.13ZM343.47,326.52L365.77,364.92L321.17,364.92ZM348.38,330.28L370.69,368.68L326.08,368.68ZM353.30,334.02L375.60,372.42L331.00,372.42ZM358.22,337.74L380.52,376.14L335.92,376.14ZM363.13,341.44L385.43,379.84L340.83,379.84ZM368.05,345.11L390.35,383.51L345.75,383.51ZM372.96,348.77L395.26,387.17L350.66,387.17ZM377.88,352.40L400.18,390.80L355.57,390.80ZM382.79,356.01L405.09,394.41L360.49,394.41ZM387.71,359.60L410.01,398.00L365.41,398.00ZM392.62,363.17L414.92,401.57L370.32,401.57ZM397.53,366.71L419.83,405.11L375.23,405.11ZM402.45,370.24L424.75,408.64L380.15,408.64ZM407.37,373.74L429.67,412.14L385.06,412.14ZM412.28,377.23L434.58,415.63L389.98,415.63ZM417.19,380.69L439.50,419.09L394.89,419.09ZM422.11,384.13L444.41,422.53L399.81,422.53ZM427.02,387.55L449.32,425.95L404.72,425.95ZM431.94,390.95L454.24,429.35L409.64,429.35ZM436.86,394.33L459.16,432.73L414.56,432.73ZM441.77,397.69L464.07,436.09L419.47,436.09ZM446.69,401.02L468.99,439.42L424.38,439.42ZM451.60,404.34L473.90,442.74L429.30,442.74ZM456.51,407.64L478.81,446.04L434.21,446.04ZM461.43,410.91L483.73,449.31L439.13,449.31ZM466.35,414.17L488.65,452.57L444.05,452.57ZM471.26,417.40L493.56,455.80L448.96,455.80ZM476.18,420.62L498.48,459.02L453.88,459.02ZM481.09,423.82L503.39,462.22L458.79,462.22ZM486.00,426.99L508.31,465.39L463.70,465.39ZM490.92,430.15L513.22,468.55L468.62,468.55ZM495.84,433.28L518.13,471.68L473.54,471.68ZM500.75,436.40L523.05,474.80L478.45,474.80ZM505.66,439.50L527.96,477.90L483.36,477.90ZM510.58,442.57L532.88,480.97L488.28,480.97ZM515.50,445.63L537.79,484.03L493.19,484.03ZM520.41,448.67L542.71,487.07L498.11,487.07ZM525.33,451.69L547.62,490.09L503.03,490.09ZM530.24,454.69L552.54,493.09L507.94,493.09ZM535.15,457.67L557.45,496.07L512.86,496.07ZM540.07,460.63L562.37,499.03L517.77,499.03ZM544.99,463.57L567.28,501.97L522.69,501.97ZM549.90,466.50L572.20,504.90L527.60,504.90ZM554.82,469.40L577.12,507.80L532.52,507.80ZM559.73,472.29L582.03,510.69L537.43,510.69ZM564.64,475.15L586.94,513.55L542.35,513.55ZM569.56,478.00L591.86,516.40L547.26,516.40ZM574.48,480.83L596.77,519.23L552.18,519.23ZM579.39,483.64L601.69,522.04L557.09,522.04ZM584.31,486.44L606.61,524.84L562.01,524.84ZM589.22,489.21L611.52,527.61L566.92,527.61ZM594.13,491.97L616.43,530.37L571.84,530.37ZM599.05,494.70L621.35,533.10L576.75,533.10ZM603.96,497.42L626.26,535.82L581.66,535.82ZM608.88,500.13L631.18,538.53L586.58,538.53ZM613.80,502.81L636.10,541.21L591.50,541.21ZM618.71,505.48L641.01,543.88L596.41,543.88ZM623.62,508.12L645.92,546.52L601.33,546.52ZM628.54,510.75L650.84,549.15L606.24,549.15ZM633.45,513.37L655.75,551.77L611.15,551.77ZM638.37,515.96L660.67,554.36L616.07,554.36ZM643.29,518.54L665.59,556.94L620.99,556.94ZM648.20,521.10L670.50,559.50L625.90,559.50ZM653.12,523.64L675.41,562.04L630.82,562.04ZM658.03,526.17L680.33,564.57L635.73,564.57ZM662.94,528.68L685.24,567.08L640.64,567.08ZM667.86,531.17L690.16,569.57L645.56,569.57ZM672.77,533.64L695.07,572.04L650.48,572.04ZM677.69,536.10L699.99,574.50L655.39,574.50ZM682.61,538.54L704.90,576.94L660.31,576.94ZM687.52,540.96L709.82,579.36L665.22,579.36ZM692.43,543.37L714.73,581.77L670.13,581.77ZM697.35,545.76L719.65,584.16L675.05,584.16ZM702.26,548.13L724.56,586.53L679.97,586.53ZM707.18,550.49L729.48,588.89L684.88,588.89ZM712.10,552.83L734.39,591.23L689.80,591.23ZM717.01,555.16L739.31,593.56L694.71,593.56ZM721.92,557.46L744.22,595.86L699.62,595.86ZM726.84,559.75L749.14,598.15L704.54,598.15ZM731.75,562.03L754.05,600.43L709.46,600.43ZM736.67,564.29L758.97,602.69L714.37,602.69ZM741.59,566.53L763.88,604.93L719.29,604.93ZM746.50,568.76L768.80,607.16L724.20,607.16ZM751.41,570.97L773.71,609.37L729.12,609.37ZM756.33,573.17L778.63,611.57L734.03,611.57ZM761.25,575.35L783.54,613.75L738.95,613.75ZM766.16,577.51L788.46,615.91L743.86,615.91ZM771.08,579.66L793.38,618.06L748.78,618.06ZM775.99,581.80L798.29,620.20L753.69,620.20ZM780.90,583.92L803.20,622.32L758.61,622.32ZM785.82,586.02L808.12,624.42L763.52,624.42ZM790.74,588.11L813.03,626.51L768.44,626.51ZM795.65,590.19L817.95,628.59L773.35,628.59ZM800.57,592.25L822.87,630.65L778.27,630.65ZM805.48,594.30L827.78,632.70L783.18,632.70ZM810.39,596.33L832.69,634.73L788.10,634.73ZM815.31,598.35L837.61,636.75L793.01,636.75ZM820.23,600.35L842.52,638.75L797.93,638.75ZM825.14,602.34L847.44,640.74L802.84,640.74ZM830.05,604.32L852.35,642.72L807.75,642.72ZM834.97,606.28L857.27,644.68L812.67,644.68ZM839.88,608.23L862.18,646.63L817.59,646.63ZM844.80,610.16L867.10,648.56L822.50,648.56ZM849.72,612.08L872.01,650.48L827.42,650.48ZM854.63,613.99L876.93,652.39L832.33,652.39ZM859.54,615.89L881.84,654.29L837.25,654.29ZM864.46,617.77L886.76,656.17L842.16,656.17ZM869.38,619.64L891.67,658.04L847.08,658.04ZM874.29,621.49L896.59,659.89L851.99,659.89ZM879.21,623.34L901.50,661.74L856.91,661.74ZM884.12,625.17L906.42,663.57L861.82,663.57ZM889.03,626.99L911.33,665.39L866.74,665.39ZM893.95,628.79L916.25,667.19L871.65,667.19ZM898.87,630.59L921.16,668.99L876.57,668.99ZM903.78,632.37L926.08,670.77L881.48,670.77ZM908.70,634.14L931.00,672.54L886.40,672.54ZM913.61,635.90L935.91,674.30L891.31,674.30ZM918.52,637.65L940.82,676.05L896.23,676.05ZM923.44,639.38L945.74,677.78L901.14,677.78ZM928.36,641.10L950.65,679.50L906.06,679.50ZM933.27,642.82L955.57,681.22L910.97,681.22ZM938.19,644.52L960.49,682.92L915.89,682.92ZM943.10,646.21L965.40,684.61L920.80,684.61ZM948.01,647.88L970.31,686.28L925.72,686.28ZM952.93,649.55L975.23,687.95L930.63,687.95ZM957.85,651.21L980.14,689.61L935.55,689.61ZM962.76,652.85L985.06,691.25L940.46,691.25ZM967.67,654.49L989.97,692.89L945.38,692.89ZM972.59,656.11L994.89,694.51L950.29,694.51ZM977.50,657.73L999.80,696.13L955.21,696.13ZM982.42,659.33L1004.72,697.73L960.12,697.73ZM987.34,660.93L1009.63,699.33L965.04,699.33ZM992.25,662.51L1014.55,700.91L969.95,700.91ZM997.16,664.09L1019.46,702.49L974.87,702.49ZM1002.08,665.65L1024.38,704.05L979.78,704.05ZM1007.00,667.21L1029.30,705.61L984.70,705.61ZM1011.91,668.75L1034.21,707.15L989.61,707.15ZM1016.83,670.29L1039.12,708.69L994.53,708.69ZM1021.74,671.81L1044.04,710.21L999.44,710.21ZM1026.65,673.33L1048.95,711.73L1004.36,711.73ZM1031.57,674.84L1053.87,713.24L1009.27,713.24ZM1036.49,676.34L1058.79,714.74L1014.19,714.74ZM1041.40,677.83L1063.70,716.23L1019.10,716.23ZM1046.32,679.31L1068.62,717.71L1024.02,717.71ZM1051.23,680.79L1073.53,719.19L1028.93,719.19ZM1056.14,682.25L1078.44,720.65L1033.85,720.65ZM1061.06,683.71L1083.36,722.11L1038.76,722.11ZM1065.97,685.16L1088.27,723.56L1043.67,723.56ZM1070.89,686.60L1093.19,725.00L1048.59,725.00ZM1075.80,688.03L1098.10,726.43L1053.50,726.43ZM1080.72,689.45L1103.02,727.85L1058.42,727.85ZM1085.63,690.87L1107.93,729.27L1063.34,729.27ZM1090.55,692.28L1112.85,730.68L1068.25,730.68ZM1095.47,693.68L1117.77,732.08L1073.17,732.08ZM1100.38,695.08L1122.68,733.48L1078.08,733.48ZM1105.30,696.46L1127.60,734.86L1083.00,734.86ZM1110.21,697.84L1132.51,736.24L1087.91,736.24ZM1115.12,699.22L1137.42,737.62L1092.83,737.62ZM1120.04,700.58L1142.34,738.98L1097.74,738.98ZM1124.95,701.94L1147.25,740.34L1102.65,740.34ZM1129.87,703.29L1152.17,741.69L1107.57,741.69ZM1134.78,704.64L1157.08,743.04L1112.48,743.04ZM1139.70,705.98L1162.00,744.38L1117.40,744.38ZM1144.62,707.31L1166.91,745.71L1122.32,745.71ZM1149.53,708.64L1171.83,747.04L1127.23,747.04ZM1154.45,709.96L1176.75,748.36L1132.15,748.36ZM1159.36,711.27L1181.66,749.67L1137.06,749.67ZM1164.28,712.58L1186.58,750.98L1141.98,750.98ZM1169.19,713.89L1191.49,752.29L1146.89,752.29ZM1174.11,715.18L1196.40,753.58L1151.81,753.58ZM1179.02,716.48L1201.32,754.88L1156.72,754.88ZM1183.93,717.76L1206.23,756.16L1161.63,756.16ZM1188.85,719.04L1211.15,757.44L1166.55,757.44ZM1193.76,720.32L1216.06,758.72L1171.46,758.72ZM1198.68,721.59L1220.98,759.99L1176.38,759.99ZM1203.60,722.86L1225.89,761.26L1181.30,761.26ZM1208.51,724.12L1230.81,762.52L1186.21,762.52ZM1213.42,725.37L1235.72,763.77L1191.12,763.77ZM1218.34,726.63L1240.64,765.03L1196.04,765.03ZM1223.26,727.87L1245.56,766.27L1200.96,766.27ZM1228.17,729.12L1250.47,767.52L1205.87,767.52ZM1233.09,730.36L1255.38,768.76L1210.79,768.76ZM1238.00,731.59L1260.30,769.99L1215.70,769.99ZM1242.91,732.82L1265.21,771.22L1220.62,771.22ZM1247.83,734.05L1270.13,772.45L1225.53,772.45ZM1252.74,735.27L1275.04,773.67L1230.44,773.67ZM1257.66,736.49L1279.96,774.89L1235.36,774.89ZM1262.58,737.71L1284.88,776.11L1240.28,776.11ZM1267.49,738.92L1289.79,777.32L1245.19,777.32ZM1272.40,740.13L1294.70,778.53L1250.11,778.53ZM1277.32,741.34L1299.62,779.74L1255.02,779.74ZM1282.23,742.54L1304.53,780.94L1259.93,780.94ZM1287.15,743.74L1309.45,782.14L1264.85,782.14ZM1292.07,744.94L1314.37,783.34L1269.77,783.34ZM1296.98,746.13L1319.28,784.53L1274.68,784.53ZM1301.89,747.32L1324.19,785.72L1279.60,785.72ZM1306.81,748.51L1329.11,786.91L1284.51,786.91ZM1311.72,749.70L1334.02,788.10L1289.42,788.10ZM1316.64,750.89L1338.94,789.29L1294.34,789.29ZM1321.56,752.07L1343.86,790.47L1299.26,790.47ZM1326.47,753.25L1348.77,791.65L1304.17,791.65ZM1331.38,754.43L1353.68,792.83L1309.09,792.83ZM1336.30,755.61L1358.60,794.01L1314.00,794.01ZM1341.21,756.78L1363.51,795.18L1318.91,795.18ZM1346.13,757.96L1368.43,796.36L1323.83,796.36ZM1351.05,759.13L1373.35,797.53L1328.75,797.53ZM1355.96,760.30L1378.26,798.70L1333.66,798.70ZM1360.88,761.47L1383.17,799.87L1338.58,799.87ZM1365.79,762.64L1388.09,801.04L1343.49,801.04ZM1370.70,763.81L1393.00,802.21L1348.40,802.21ZM1375.62,764.98L1397.92,803.38L1353.32,803.38ZM1380.54,766.14L1402.84,804.54L1358.24,804.54ZM1385.45,767.31L1407.75,805.71L1363.15,805.71ZM1390.37,768.48L1412.66,806.88L1368.07,806.88ZM1395.28,769.64L1417.58,808.04L1372.98,808.04ZM1400.19,770.81L1422.49,809.21L1377.89,809.21ZM1405.11,771.97L1427.41,810.37L1382.81,810.37ZM1410.03,773.14L1432.33,811.54L1387.73,811.54ZM1414.94,774.30L1437.24,812.70L1392.64,812.70ZM1419.86,775.47L1442.15,813.87L1397.56,813.87ZM1424.77,776.63L1447.07,815.03L1402.47,815.03ZM1429.68,777.80L1451.98,816.20L1407.38,816.20ZM1434.60,778.97L1456.90,817.37L1412.30,817.37ZM1439.52,780.13L1461.82,818.53L1417.22,818.53ZM1444.43,781.30L1466.73,819.70L1422.13,819.70ZM1449.35,782.47L1471.64,820.87L1427.05,820.87ZM1454.26,783.64L1476.56,822.04L1431.96,822.04ZM1459.17,784.81L1481.47,823.21L1436.88,823.21ZM1464.09,785.99L1486.39,824.39L1441.79,824.39ZM1469.01,787.16L1491.31,825.56L1446.71,825.56ZM1473.92,788.34L1496.22,826.74L1451.62,826.74ZM1478.84,789.51L1501.13,827.91L1456.54,827.91ZM1483.75,790.69L1506.05,829.09L1461.45,829.09ZM1488.66,791.88L1510.96,830.28L1466.37,830.28ZM1493.58,793.06L1515.88,831.46L1471.28,831.46ZM1498.50,794.24L1520.80,832.64L1476.20,832.64ZM1503.41,795.43L1525.71,833.83L1481.11,833.83ZM1508.33,796.62L1530.62,835.02L1486.03,835.02ZM1513.24,797.81L1535.54,836.21L1490.94,836.21ZM1518.15,799.01L1540.45,837.41L1495.86,837.41ZM1523.07,800.21L1545.37,838.61L1500.77,838.61ZM1527.98,801.41L1550.28,839.81L1505.68,839.81ZM1532.90,802.61L1555.20,841.01L1510.60,841.01ZM1537.82,803.82L1560.12,842.22L1515.52,842.22ZM1542.73,805.03L1565.03,843.43L1520.43,843.43ZM1547.64,806.24L1569.94,844.64L1525.35,844.64ZM1552.56,807.46L1574.86,845.86L1530.26,845.86ZM1557.47,808.68L1579.77,847.08L1535.17,847.08ZM1562.39,809.90L1584.69,848.30L1540.09,848.30ZM1567.31,811.13L1589.61,849.53L1545.01,849.53ZM1572.22,812.36L1594.52,850.76L1549.92,850.76ZM1577.13,813.60L1599.43,852.00L1554.84,852.00ZM1582.05,814.84L1604.35,853.24L1559.75,853.24ZM1586.96,816.08L1609.26,854.48L1564.66,854.48ZM1591.88,817.33L1614.18,855.73L1569.58,855.73ZM1596.80,818.58L1619.10,856.98L1574.50,856.98ZM1601.71,819.84L1624.01,858.24L1579.41,858.24ZM1606.62,821.10L1628.92,859.50L1584.33,859.50ZM1611.54,822.37L1633.84,860.77L1589.24,860.77ZM1616.45,823.64L1638.75,862.04L1594.15,862.04ZM1621.37,824.92L1643.67,863.32L1599.07,863.32ZM1626.29,826.20L1648.59,864.60L1603.99,864.60ZM1631.20,827.49L1653.50,865.89L1608.90,865.89ZM1636.12,828.78L1658.41,867.18L1613.82,867.18ZM1641.03,830.08L1663.33,868.48L1618.73,868.48ZM1645.94,831.38L1668.24,869.78L1623.64,869.78ZM1650.86,832.69L1673.16,871.09L1628.56,871.09ZM1655.78,834.01L1678.08,872.41L1633.48,872.41ZM1660.69,835.33L1682.99,873.73L1638.39,873.73ZM1665.61,836.66L1687.90,875.06L1643.31,875.06ZM1670.52,838.00L1692.82,876.40L1648.22,876.40ZM1675.43,839.34L1697.73,877.74L1653.13,877.74ZM1680.35,840.68L1702.65,879.08L1658.05,879.08ZM1685.27,842.04L1707.57,880.44L1662.97,880.44ZM1690.18,843.40L1712.48,881.80L1667.88,881.80ZM1695.10,844.77L1717.39,883.17L1672.80,883.17ZM1700.01,846.14L1722.31,884.54L1677.71,884.54ZM1704.92,847.53L1727.22,885.93L1682.62,885.93ZM1709.84,848.91L1732.14,887.31L1687.54,887.31ZM1714.76,850.31L1737.06,888.71L1692.46,888.71ZM1719.67,851.72L1741.97,890.12L1697.37,890.12ZM1724.59,853.13L1746.88,891.53L1702.29,891.53ZM1729.50,854.55L1751.80,892.95L1707.20,892.95ZM1734.41,855.97L1756.71,894.37L1712.12,894.37ZM1739.33,857.41L1761.63,895.81L1717.03,895.81ZM1744.25,858.85L1766.55,897.25L1721.95,897.25ZM1749.16,860.31L1771.46,898.71L1726.86,898.71ZM1754.08,861.77L1776.38,900.17L1731.78,900.17ZM1758.99,863.23L1781.29,901.63L1736.69,901.63ZM1763.90,864.71L1786.20,903.11L1741.61,903.11ZM1768.82,866.20L1791.12,904.60L1746.52,904.60ZM1773.73,867.69L1796.03,906.09L1751.43,906.09ZM1778.65,869.19L1800.95,907.59L1756.35,907.59ZM1783.57,870.71L1805.87,909.11L1761.27,909.11ZM1788.48,872.23L1810.78,910.63L1766.18,910.63ZM1793.39,873.76L1815.69,912.16L1771.10,912.16ZM1798.31,875.30L1820.61,913.70L1776.01,913.70ZM1803.22,876.85L1825.52,915.25L1780.92,915.25ZM1808.14,878.41L1830.44,916.81L1785.84,916.81ZM1813.06,879.98L1835.36,918.38L1790.76,918.38ZM1817.97,881.56L1840.27,919.96L1795.67,919.96ZM1822.88,883.15L1845.18,921.55L1800.59,921.55ZM1827.80,884.74L1850.10,923.14L1805.50,923.14ZM1832.71,886.35L1855.01,924.75L1810.41,924.75ZM1837.63,887.97L1859.93,926.37L1815.33,926.37ZM1842.55,889.60L1864.85,928.00L1820.25,928.00ZM1847.46,891.24L1869.76,929.64L1825.16,929.64ZM1852.38,892.90L1874.67,931.30L1830.08,931.30ZM1857.29,894.56L1879.59,932.96L1834.99,932.96ZM1862.20,896.23L1884.50,934.63L1839.90,934.63ZM1867.12,897.92L1889.42,936.32L1844.82,936.32ZM1872.04,899.61L1894.34,938.01L1849.74,938.01ZM1876.95,901.32L1899.25,939.72L1854.65,939.72ZM1881.87,903.04L1904.16,941.44L1859.57,941.44ZM1886.78,904.77L1909.08,943.17L1864.48,943.17ZM1891.69,906.51L1913.99,944.91L1869.39,944.91ZM1896.61,908.26L1918.91,946.66L1874.31,946.66ZM1901.53,910.02L1923.83,948.42L1879.23,948.42ZM1906.44,911.80L1928.74,950.20L1884.14,950.20ZM1911.36,913.59L1933.65,951.99L1889.06,951.99ZM1916.27,915.39L1938.57,953.79L1893.97,953.79ZM1921.18,917.21L1943.48,955.61L1898.88,955.61ZM1926.10,919.03L1948.40,957.43L1903.80,957.43ZM1931.02,920.87L1953.32,959.27L1908.72,959.27ZM1935.93,922.72L1958.23,961.12L1913.63,961.12ZM1940.85,924.59L1963.14,962.99L1918.55,962.99ZM1945.76,926.46L1968.06,964.86L1923.46,964.86ZM1950.67,928.36L1972.97,966.76L1928.38,966.76ZM1955.59,930.26L1977.89,968.66L1933.29,968.66ZM1960.51,932.18L1982.81,970.58L1938.21,970.58ZM1965.42,934.11L1987.72,972.51L1943.12,972.51ZM1970.34,936.05L1992.63,974.45L1948.04,974.45ZM1975.25,938.01L1997.55,976.41L1952.95,976.41ZM1980.16,939.98L2002.46,978.38L1957.87,978.38ZM1985.08,941.97L2007.38,980.37L1962.78,980.37ZM1990.00,943.96L2012.30,982.36L1967.70,982.36ZM1994.91,945.98L2017.21,984.38L1972.61,984.38ZM1999.83,948.01L2022.12,986.41L1977.53,986.41ZM2004.74,950.05L2027.04,988.45L1982.44,988.45ZM2009.65,952.11L2031.95,990.51L1987.36,990.51ZM2014.57,954.18L2036.87,992.58L1992.27,992.58ZM2019.48,956.26L2041.78,994.66L1997.18,994.66ZM2024.40,958.36L2046.70,996.76L2002.10,996.76ZM2029.32,960.48L2051.62,998.88L2007.02,998.88ZM2034.23,962.61L2056.53,1001.01L2011.93,1001.01ZM2039.14,964.76L2061.45,1003.16L2016.85,1003.16ZM2044.06,966.92L2066.36,1005.32L2021.76,1005.32ZM2048.97,969.09L2071.28,1007.49L2026.67,1007.49ZM2053.89,971.28L2076.19,1009.68L2031.59,1009.68ZM2058.81,973.49L2081.11,1011.89L2036.51,1011.89ZM2063.72,975.71L2086.02,1014.11L2041.42,1014.11ZM2068.64,977.95L2090.94,1016.35L2046.34,1016.35ZM2073.55,980.21L2095.85,1018.61L2051.25,1018.61ZM2078.47,982.48L2100.77,1020.88L2056.16,1020.88ZM2083.38,984.76L2105.68,1023.16L2061.08,1023.16ZM2088.30,987.06L2110.60,1025.46L2065.99,1025.46ZM2093.21,989.38L2115.51,1027.78L2070.91,1027.78ZM2098.12,991.72L2120.43,1030.12L2075.82,1030.12ZM2103.04,994.07L2125.34,1032.47L2080.74,1032.47ZM2107.95,996.43L2130.26,1034.83L2085.65,1034.83ZM2112.87,998.82L2135.17,1037.22L2090.57,1037.22ZM2117.78,1001.22L2140.09,1039.62L2095.48,1039.62ZM2122.70,1003.63L2145.00,1042.03L2100.40,1042.03ZM2127.61,1006.07L2149.91,1044.47L2105.31,1044.47ZM2132.53,1008.52L2154.83,1046.92L2110.23,1046.92ZM2137.44,1010.99L2159.74,1049.39L2115.14,1049.39ZM2142.36,1013.47L2164.66,1051.87L2120.06,1051.87ZM2147.28,1015.97L2169.58,1054.37L2124.97,1054.37ZM2152.19,1018.49L2174.49,1056.89L2129.89,1056.89ZM2157.11,1021.03L2179.41,1059.43L2134.80,1059.43ZM2162.02,1023.59L2184.32,1061.99L2139.72,1061.99ZM2166.93,1026.16L2189.24,1064.56L2144.63,1064.56ZM2171.85,1028.75L2194.15,1067.15L2149.55,1067.15ZM2176.77,1031.36L2199.07,1069.76L2154.47,1069.76ZM2181.68,1033.98L2203.98,1072.38L2159.38,1072.38ZM2186.60,1036.63L2208.90,1075.03L2164.30,1075.03ZM2191.51,1039.29L2213.81,1077.69L2169.21,1077.69ZM2196.43,1041.97L2218.73,1080.37L2174.12,1080.37ZM2201.34,1044.67L2223.64,1083.07L2179.04,1083.07ZM2206.26,1047.39L2228.56,1085.79L2183.95,1085.79ZM2211.17,1050.12L2233.47,1088.52L2188.87,1088.52ZM2216.09,1052.88L2238.39,1091.28L2193.78,1091.28ZM2221.00,1055.65L2243.30,1094.05L2198.70,1094.05ZM2225.91,1058.44L2248.22,1096.84L2203.61,1096.84ZM2230.83,1061.25L2253.13,1099.65L2208.53,1099.65ZM2235.74,1064.08L2258.05,1102.48L2213.44,1102.48ZM2240.66,1066.93L2262.96,1105.33L2218.36,1105.33ZM2245.57,1069.80L2267.88,1108.20L2223.27,1108.20ZM2250.49,1072.69L2272.79,1111.09L2228.19,1111.09ZM2255.40,1075.59L2277.70,1113.99L2233.10,1113.99ZM2260.32,1078.52L2282.62,1116.92L2238.02,1116.92ZM2265.24,1081.47L2287.54,1119.87L2242.93,1119.87ZM2270.15,1084.43L2292.45,1122.83L2247.85,1122.83ZM2275.07,1087.42L2297.37,1125.82L2252.76,1125.82ZM2279.98,1090.43L2302.28,1128.83L2257.68,1128.83ZM2284.89,1093.45L2307.20,1131.85L2262.59,1131.85ZM2289.81,1096.50L2312.11,1134.90L2267.51,1134.90ZM2294.72,1099.56L2317.03,1137.96L2272.42,1137.96ZM2299.64,1102.65L2321.94,1141.05L2277.34,1141.05ZM2304.55,1105.76L2326.86,1144.16L2282.25,1144.16ZM2309.47,1108.89L2331.77,1147.29L2287.17,1147.29ZM2314.39,1112.04L2336.69,1150.44L2292.09,1150.44ZM2319.30,1115.20L2341.60,1153.60L2297.00,1153.60ZM2324.22,1118.39L2346.52,1156.79L2301.91,1156.79ZM2329.13,1121.61L2351.43,1160.01L2306.83,1160.01ZM2334.05,1124.84L2356.35,1163.24L2311.74,1163.24ZM2338.96,1128.09L2361.26,1166.49L2316.66,1166.49ZM2343.88,1131.37L2366.18,1169.77L2321.57,1169.77ZM2348.79,1134.66L2371.09,1173.06L2326.49,1173.06ZM2353.70,1137.98L2376.01,1176.38L2331.40,1176.38ZM2358.62,1141.32L2380.92,1179.72L2336.32,1179.72ZM2363.53,1144.68L2385.84,1183.08L2341.23,1183.08ZM2368.45,1148.06L2390.75,1186.46L2346.15,1186.46ZM2373.37,1151.46L2395.67,1189.86L2351.07,1189.86ZM2378.28,1154.89L2400.58,1193.29L2355.98,1193.29ZM2383.20,1158.34L2405.50,1196.74L2360.89,1196.74ZM2388.11,1161.81L2410.41,1200.21L2365.81,1200.21ZM2393.03,1165.30L2415.33,1203.70L2370.72,1203.70ZM2397.94,1168.81L2420.24,1207.21L2375.64,1207.21ZM2402.86,1172.35L2425.16,1210.75L2380.55,1210.75ZM2407.77,1175.91L2430.07,1214.31L2385.47,1214.31ZM2412.68,1179.49L2434.99,1217.89L2390.38,1217.89ZM2417.60,1183.10L2439.90,1221.50L2395.30,1221.50ZM2422.51,1186.73L2444.82,1225.13L2400.21,1225.13Z" fill="#00f"/>
</g>
<rect x="264.5" y="54.5" width="1023" height="269.6" fill="none" stroke="#000" stroke-width="3"/>
<rect x="309.0" y="109.0" width="159.0" height="3.0" fill="#000"/>
<rect x="309.0" y="195.5" width="159.0" height="3.0" fill="#f00"/>
<rect x="309.0" y="282.5" width="159.0" height="3.0" fill="#00f"/>
<rect x="371.0" y="93.2" width="33.7" height="33.5" fill="#000"/>
<circle cx="388" cy="197" r="19" fill="#f00"/>
<path d="M388.00,259.20L410.30,297.60L365.70,297.60Z" fill="#00f"/>
<text x="485.50" y="134.20" font-family="'Liberation Serif', 'Times New Roman', serif" font-size="70.7" font-weight="normal" text-anchor="start">Signal</text>
<text x="487.50" y="220.50" font-family="'Liberation Serif', 'Times New Roman', serif" font-size="70.7" font-weight="normal" text-anchor="start">Traditional fitting</text>
<text x="484.50" y="308.00" font-family="'Liberation Serif', 'Times New Roman', serif" font-size="70.7" font-weight="normal" text-anchor="start">Proposed method for fitting</text>
<rect x="255.0" y="1346.0" width="2187.0" height="12.0" fill="#000"/>
<rect x="249.0" y="1351.0" width="12.0" height="358.0" fill="#000"/>
<rect x="2436.0" y="1351.0" width="12.0" height="328.0" fill="#000"/>
<rect x="261.0" y="1674.0" width="2181.0" height="12.0" fill="#000"/>
<rect x="225.0" y="1530.0" width="24.0" height="12.0" fill="#000"/>
<rect x="2412.0" y="1530.0" width="24.0" height="12.0" fill="#000"/>
<rect x="240.0" y="1428.0" width="9.0" height="12.0" fill="#000"/>
<rect x="2427.0" y="1428.0" width="9.0" height="12.0" fill="#000"/>
<rect x="240.0" y="1632.0" width="9.0" height="12.0" fill="#000"/>
<rect x="2427.0" y="1632.0" width="9.0" height="12.0" fill="#000"/>
<rect x="249.0" y="1358.0" width="12.0" height="23.0" fill="#000"/>
<rect x="494.8" y="1686.0" width="12.0" height="9.0" fill="#000"/>
<rect x="494.8" y="1358.0" width="12.0" height="8.0" fill="#000"/>
<rect x="740.5" y="1686.0" width="12.0" height="24.0" fill="#000"/>
<rect x="740.5" y="1358.0" width="12.0" height="23.0" fill="#000"/>
<rect x="986.2" y="1686.0" width="12.0" height="9.0" fill="#000"/>
<rect x="986.2" y="1358.0" width="12.0" height="8.0" fill="#000"/>
<rect x="1232.0" y="1686.0" width="12.0" height="24.0" fill="#000"/>
<rect x="1232.0" y="1358.0" width="12.0" height="23.0" fill="#000"/>
<rect x="1477.8" y="1686.0" width="12.0" height="9.0" fill="#000"/>
<rect x="1477.8" y="1358.0" width="12.0" height="8.0" fill="#000"/>
<rect x="1723.5" y="1686.0" width="12.0" height="24.0" fill="#000"/>
<rect x="1723.5" y="1358.0" width="12.0" height="23.0" fill="#000"/>
<rect x="1969.2" y="1686.0" width="12.0" height="9.0" fill="#000"/>
<rect x="1969.2" y="1358.0" width="12.0" height="8.0" fill="#000"/>
<rect x="2215.0" y="1686.0" width="12.0" height="24.0" fill="#000"/>
<rect x="2215.0" y="1358.0" width="12.0" height="23.0" fill="#000"/>
<text x="0.00" y="0.00" font-family="'Liberation Sans', Arial, sans-serif" font-size="63" font-weight="normal" text-anchor="end" transform="translate(205.50,1555.30) scale(1.0,1.05)">0.00</text>
<text x="0.00" y="0.00" font-family="'Liberation Sans', Arial, sans-serif" font-size="62" font-weight="normal" text-anchor="middle" transform="translate(255.00,1779.50) scale(1.0,1.095)">0</text>
<text x="0.00" y="0.00" font-family="'Liberation Sans', Arial, sans-serif" font-size="62" font-weight="normal" text-anchor="middle" transform="translate(746.50,1779.50) scale(1.0,1.095)">100</text>
<text x="0.00" y="0.00" font-family="'Liberation Sans', Arial, sans-serif" font-size="62" font-weight="normal" text-anchor="middle" transform="translate(1238.00,1779.50) scale(1.0,1.095)">200</text>
<text x="0.00" y="0.00" font-family="'Liberation Sans', Arial, sans-serif" font-size="62" font-weight="normal" text-anchor="middle" transform="translate(1729.50,1779.50) scale(1.0,1.095)">300</text>
<text x="0.00" y="0.00" font-family="'Liberation Sans', Arial, sans-serif" font-size="62" font-weight="normal" text-anchor="middle" transform="translate(2221.00,1779.50) scale(1.0,1.095)">400</text>
<text x="281.00" y="1642.70" font-family="'Liberation Sans', Arial, sans-serif" font-size="77" font-weight="normal" text-anchor="start">(b)</text>
<g clip-path="url(#cr)">
<path d="M246.0,1511.4L255.0,1511.4L259.9,1509.6L264.8,1508.1L269.7,1506.9L274.7,1505.5L279.6,1504.1L284.5,1499.7L289.4,1495.0L294.3,1492.2L299.2,1489.2L304.1,1485.6L309.1,1481.9L314.0,1478.6L318.9,1475.3L323.8,1462.2L328.7,1448.7L333.6,1454.4L338.6,1462.2L343.5,1470.0L348.4,1485.3L353.3,1499.7L358.2,1510.3L363.1,1512.4L368.0,1514.5L373.0,1519.2L377.9,1523.9L382.8,1522.5L387.7,1520.8L392.6,1519.6L397.5,1518.3L402.4,1520.4L407.4,1523.1L412.3,1524.5L417.2,1525.5L422.1,1534.5L427.0,1546.4L431.9,1551.0L436.9,1552.2L441.8,1558.7L446.7,1568.3L451.6,1567.8L456.5,1566.4L461.4,1565.8L466.3,1565.9L471.3,1570.0L476.2,1573.6L481.1,1571.1L486.0,1568.7L490.9,1566.2L495.8,1557.3L500.8,1545.0L505.7,1538.3L510.6,1531.1L515.5,1521.3L520.4,1512.8L525.3,1511.0L530.2,1517.1L535.2,1525.3L540.1,1528.0L545.0,1528.9L549.9,1529.8L554.8,1530.9L559.7,1531.7L564.6,1532.1L569.6,1532.4L574.5,1528.1L579.4,1482.8L584.3,1482.8L589.2,1525.4L594.1,1526.4L599.0,1527.3L604.0,1482.8L608.9,1520.9L613.8,1522.1L618.7,1524.5L623.6,1525.8L628.5,1526.3L633.5,1526.5L638.4,1524.2L643.3,1482.3L648.2,1482.3L653.1,1482.3L658.0,1500.7L662.9,1500.4L667.9,1445.2L672.8,1445.2L677.7,1516.4L682.6,1521.4L687.5,1526.3L692.4,1489.3L697.4,1489.3L702.3,1489.3L707.2,1489.3L712.1,1496.4L717.0,1496.4L721.9,1522.8L726.8,1522.8L731.8,1522.8L736.7,1536.0L741.6,1536.0L746.5,1536.0L751.4,1529.9L756.3,1529.9L761.2,1510.5L766.2,1510.5L771.1,1510.5L776.0,1514.9L780.9,1514.9L785.8,1514.9L790.7,1562.4L795.6,1552.0L800.6,1501.7L805.5,1501.7L810.4,1501.7L815.3,1506.1L820.2,1506.1L825.1,1521.9L830.1,1521.9L835.0,1521.9L839.9,1523.2L844.8,1523.2L849.7,1523.2L854.6,1527.2L859.5,1527.2L864.5,1514.0L869.4,1514.0L874.3,1501.3L879.2,1501.3L884.1,1450.2L889.0,1450.2L894.0,1450.2L898.9,1475.2L903.8,1475.2L908.7,1475.2L913.6,1475.2L918.5,1487.9L923.4,1487.9L928.4,1487.9L933.3,1479.1L938.2,1479.1L943.1,1470.8L948.0,1470.8L952.9,1470.8L957.8,1445.2L962.8,1445.2L967.7,1445.2L972.6,1440.3L977.5,1440.3L982.4,1440.3L987.3,1445.2L992.2,1445.2L1001.2,1445.2L1001.2,1480.6L992.2,1480.6L987.3,1478.2L982.4,1476.2L977.5,1475.3L972.6,1481.0L967.7,1488.0L962.8,1492.7L957.8,1496.4L952.9,1502.1L948.0,1509.4L943.1,1517.4L938.2,1526.4L933.3,1533.2L928.4,1532.4L923.4,1531.6L918.5,1530.7L913.6,1529.9L908.7,1523.0L903.8,1515.7L898.9,1510.2L894.0,1505.3L889.0,1504.4L884.1,1506.1L879.2,1513.9L874.3,1528.6L869.4,1540.5L864.5,1546.2L859.5,1551.6L854.6,1555.1L849.7,1558.6L844.8,1559.8L839.9,1559.8L835.0,1559.8L830.1,1559.8L825.1,1559.8L820.2,1557.8L815.3,1555.8L810.4,1554.4L805.5,1553.2L800.6,1552.4L795.6,1552.0L790.7,1562.4L785.8,1573.2L780.9,1574.4L776.0,1575.6L771.1,1574.1L766.2,1572.5L761.2,1576.1L756.3,1581.0L751.4,1585.4L746.5,1589.5L741.6,1586.8L736.7,1576.9L731.8,1568.3L726.8,1562.2L721.9,1556.2L717.0,1550.9L712.1,1545.4L707.2,1536.8L702.3,1528.2L697.4,1526.9L692.4,1526.6L687.5,1585.4L682.6,1585.4L677.7,1585.4L672.8,1510.5L667.9,1504.3L662.9,1500.4L658.0,1500.7L653.1,1506.0L648.2,1515.4L643.3,1522.0L638.4,1524.2L633.5,1526.5L628.5,1526.3L623.6,1525.8L618.7,1524.5L613.8,1522.1L608.9,1520.9L604.0,1524.1L599.0,1572.1L594.1,1572.1L589.2,1572.1L584.3,1524.6L579.4,1524.1L574.5,1572.1L569.6,1572.1L564.6,1572.1L559.7,1572.1L554.8,1573.8L549.9,1573.8L545.0,1573.8L540.1,1573.8L535.2,1573.8L530.2,1556.9L525.3,1556.9L520.4,1556.9L515.5,1564.5L510.6,1564.5L505.7,1572.1L500.8,1572.1L495.8,1572.1L490.9,1600.7L486.0,1600.7L481.1,1615.0L476.2,1615.0L471.3,1615.0L466.3,1622.6L461.4,1622.6L456.5,1622.6L451.6,1639.5L446.7,1639.5L441.8,1639.5L436.9,1608.3L431.9,1608.3L427.0,1563.7L422.1,1563.7L417.2,1563.7L412.3,1567.4L407.4,1567.4L402.4,1567.4L397.5,1559.4L392.6,1559.4L387.7,1555.2L382.8,1555.2L377.9,1569.6L373.0,1569.6L368.0,1569.6L363.1,1563.7L358.2,1563.7L353.3,1563.7L348.4,1563.7L343.5,1508.9L338.6,1508.9L333.6,1508.9L328.7,1514.0L323.8,1514.0L318.9,1526.6L314.0,1526.6L309.1,1534.2L304.1,1534.2L299.2,1541.8L294.3,1541.8L289.4,1547.6L284.5,1547.6L279.6,1567.9L274.7,1567.9L269.7,1567.9L264.8,1567.9L259.9,1567.9L255.0,1567.9L246.0,1567.9Z" fill="#f00"/>
<path d="M246.0,1549.9h18.0v18.0h-18.0zM250.9,1549.9h18.0v18.0h-18.0zM255.8,1549.9h18.0v18.0h-18.0zM260.7,1549.9h18.0v18.0h-18.0zM265.7,1549.9h18.0v18.0h-18.0zM270.6,1549.9h18.0v18.0h-18.0zM275.5,1529.6h18.0v18.0h-18.0zM280.4,1529.6h18.0v18.0h-18.0zM285.3,1523.8h18.0v18.0h-18.0zM290.2,1523.8h18.0v18.0h-18.0zM295.1,1516.2h18.0v18.0h-18.0zM300.1,1516.2h18.0v18.0h-18.0zM305.0,1508.6h18.0v18.0h-18.0zM309.9,1508.6h18.0v18.0h-18.0zM314.8,1496.0h18.0v18.0h-18.0zM319.7,1496.0h18.0v18.0h-18.0zM324.6,1490.9h18.0v18.0h-18.0zM329.6,1490.9h18.0v18.0h-18.0zM334.5,1490.9h18.0v18.0h-18.0zM339.4,1545.7h18.0v18.0h-18.0zM344.3,1545.7h18.0v18.0h-18.0zM349.2,1545.7h18.0v18.0h-18.0zM354.1,1545.7h18.0v18.0h-18.0zM359.0,1551.6h18.0v18.0h-18.0zM364.0,1551.6h18.0v18.0h-18.0zM368.9,1551.6h18.0v18.0h-18.0zM373.8,1537.2h18.0v18.0h-18.0zM378.7,1537.2h18.0v18.0h-18.0zM383.6,1541.4h18.0v18.0h-18.0zM388.5,1541.4h18.0v18.0h-18.0zM393.4,1549.4h18.0v18.0h-18.0zM398.4,1549.4h18.0v18.0h-18.0zM403.3,1549.4h18.0v18.0h-18.0zM408.2,1545.7h18.0v18.0h-18.0zM413.1,1545.7h18.0v18.0h-18.0zM418.0,1545.7h18.0v18.0h-18.0zM422.9,1590.3h18.0v18.0h-18.0zM427.9,1590.3h18.0v18.0h-18.0zM432.8,1621.5h18.0v18.0h-18.0zM437.7,1621.5h18.0v18.0h-18.0zM442.6,1621.5h18.0v18.0h-18.0zM447.5,1604.6h18.0v18.0h-18.0zM452.4,1604.6h18.0v18.0h-18.0zM457.3,1604.6h18.0v18.0h-18.0zM462.3,1597.0h18.0v18.0h-18.0zM467.2,1597.0h18.0v18.0h-18.0zM472.1,1597.0h18.0v18.0h-18.0zM477.0,1582.7h18.0v18.0h-18.0zM481.9,1582.7h18.0v18.0h-18.0zM486.8,1554.1h18.0v18.0h-18.0zM491.8,1554.1h18.0v18.0h-18.0zM496.7,1554.1h18.0v18.0h-18.0zM501.6,1546.5h18.0v18.0h-18.0zM506.5,1546.5h18.0v18.0h-18.0zM511.4,1538.9h18.0v18.0h-18.0zM516.3,1538.9h18.0v18.0h-18.0zM521.2,1538.9h18.0v18.0h-18.0zM526.2,1555.8h18.0v18.0h-18.0zM531.1,1555.8h18.0v18.0h-18.0zM536.0,1555.8h18.0v18.0h-18.0zM540.9,1555.8h18.0v18.0h-18.0zM545.8,1555.8h18.0v18.0h-18.0zM550.7,1554.1h18.0v18.0h-18.0zM555.6,1554.1h18.0v18.0h-18.0zM560.6,1554.1h18.0v18.0h-18.0zM565.5,1554.1h18.0v18.0h-18.0zM570.4,1482.8h18.0v18.0h-18.0zM575.3,1482.8h18.0v18.0h-18.0zM580.2,1554.1h18.0v18.0h-18.0zM585.1,1554.1h18.0v18.0h-18.0zM590.0,1554.1h18.0v18.0h-18.0zM595.0,1482.8h18.0v18.0h-18.0zM599.9,1511.9h18.0v18.0h-18.0zM604.8,1513.1h18.0v18.0h-18.0zM609.7,1515.5h18.0v18.0h-18.0zM614.6,1516.8h18.0v18.0h-18.0zM619.5,1517.3h18.0v18.0h-18.0zM624.5,1517.5h18.0v18.0h-18.0zM629.4,1515.2h18.0v18.0h-18.0zM634.3,1482.3h18.0v18.0h-18.0zM639.2,1482.3h18.0v18.0h-18.0zM644.1,1482.3h18.0v18.0h-18.0zM649.0,1491.7h18.0v18.0h-18.0zM653.9,1491.4h18.0v18.0h-18.0zM658.9,1445.2h18.0v18.0h-18.0zM663.8,1445.2h18.0v18.0h-18.0zM668.7,1567.4h18.0v18.0h-18.0zM673.6,1567.4h18.0v18.0h-18.0zM678.5,1567.4h18.0v18.0h-18.0zM683.4,1489.3h18.0v18.0h-18.0zM688.4,1489.3h18.0v18.0h-18.0zM693.3,1489.3h18.0v18.0h-18.0zM698.2,1489.3h18.0v18.0h-18.0zM703.1,1496.4h18.0v18.0h-18.0zM708.0,1496.4h18.0v18.0h-18.0zM712.9,1522.8h18.0v18.0h-18.0zM717.8,1522.8h18.0v18.0h-18.0zM722.8,1522.8h18.0v18.0h-18.0zM727.7,1536.0h18.0v18.0h-18.0zM732.6,1536.0h18.0v18.0h-18.0zM737.5,1536.0h18.0v18.0h-18.0zM742.4,1529.9h18.0v18.0h-18.0zM747.3,1529.9h18.0v18.0h-18.0zM752.2,1510.5h18.0v18.0h-18.0zM757.2,1510.5h18.0v18.0h-18.0zM762.1,1510.5h18.0v18.0h-18.0zM767.0,1514.9h18.0v18.0h-18.0zM771.9,1514.9h18.0v18.0h-18.0zM776.8,1514.9h18.0v18.0h-18.0zM781.7,1553.4h18.0v18.0h-18.0zM786.6,1543.0h18.0v18.0h-18.0zM791.6,1501.7h18.0v18.0h-18.0zM796.5,1501.7h18.0v18.0h-18.0zM801.4,1501.7h18.0v18.0h-18.0zM806.3,1506.1h18.0v18.0h-18.0zM811.2,1506.1h18.0v18.0h-18.0zM816.1,1521.9h18.0v18.0h-18.0zM821.1,1521.9h18.0v18.0h-18.0zM826.0,1521.9h18.0v18.0h-18.0zM830.9,1523.2h18.0v18.0h-18.0zM835.8,1523.2h18.0v18.0h-18.0zM840.7,1523.2h18.0v18.0h-18.0zM845.6,1527.2h18.0v18.0h-18.0zM850.5,1527.2h18.0v18.0h-18.0zM855.5,1514.0h18.0v18.0h-18.0zM860.4,1514.0h18.0v18.0h-18.0zM865.3,1501.3h18.0v18.0h-18.0zM870.2,1501.3h18.0v18.0h-18.0zM875.1,1450.2h18.0v18.0h-18.0zM880.0,1450.2h18.0v18.0h-18.0zM885.0,1450.2h18.0v18.0h-18.0zM889.9,1475.2h18.0v18.0h-18.0zM894.8,1475.2h18.0v18.0h-18.0zM899.7,1475.2h18.0v18.0h-18.0zM904.6,1475.2h18.0v18.0h-18.0zM909.5,1487.9h18.0v18.0h-18.0zM914.4,1487.9h18.0v18.0h-18.0zM919.4,1487.9h18.0v18.0h-18.0zM924.3,1479.1h18.0v18.0h-18.0zM929.2,1479.1h18.0v18.0h-18.0zM934.1,1470.8h18.0v18.0h-18.0zM939.0,1470.8h18.0v18.0h-18.0zM943.9,1470.8h18.0v18.0h-18.0zM948.8,1445.2h18.0v18.0h-18.0zM953.8,1445.2h18.0v18.0h-18.0zM958.7,1445.2h18.0v18.0h-18.0zM963.6,1440.3h18.0v18.0h-18.0zM968.5,1440.3h18.0v18.0h-18.0zM973.4,1440.3h18.0v18.0h-18.0zM978.3,1445.2h18.0v18.0h-18.0zM983.2,1445.2h18.0v18.0h-18.0z" fill="#f00"/>
<path d="M255.0,1499.3L259.9,1493.2L264.8,1488.4L269.7,1484.5L274.7,1483.4L279.6,1482.5L284.5,1479.9L289.4,1477.0L294.3,1474.6L299.2,1472.0L304.1,1467.9L309.1,1463.8L314.0,1460.5L318.9,1457.3L323.8,1435.1L328.7,1447.7L333.6,1426.3L338.6,1444.3L343.5,1447.7L348.4,1451.4L353.3,1463.7L358.2,1484.2L363.1,1485.0L368.0,1486.0L373.0,1495.8L377.9,1505.6L382.8,1508.4L387.7,1510.8L392.6,1502.1L397.5,1492.3L402.4,1495.0L407.4,1499.9L412.3,1503.5L417.2,1506.8L422.1,1508.9L427.0,1510.5L431.9,1512.2L436.9,1513.8L441.8,1515.0L446.7,1516.0L451.6,1519.1L456.5,1522.4L461.4,1528.7L466.3,1535.4L471.3,1541.2L476.2,1546.4L481.1,1545.6L486.0,1544.7L490.9,1543.5L495.8,1537.3L500.8,1528.4L505.7,1520.5L510.6,1510.6L515.5,1493.4L520.4,1478.8L525.3,1477.6L530.2,1482.6L535.2,1489.1L540.1,1490.8L545.0,1490.8L549.9,1492.8L554.8,1495.6L559.7,1497.6L564.6,1497.6L569.6,1497.6L574.5,1490.6L579.4,1483.9L584.3,1482.9L589.2,1483.4L594.1,1485.5L599.0,1487.5L604.0,1488.1L608.9,1488.7L613.8,1491.9L618.7,1496.0L623.6,1498.3L628.5,1499.3L633.5,1499.7L638.4,1495.2L643.3,1490.6L648.2,1475.6L653.1,1453.4L658.0,1441.0L662.9,1440.5L667.9,1444.6L672.8,1451.3L677.7,1460.1L682.6,1481.4L687.5,1502.7L692.4,1499.2L697.4,1495.6L702.3,1493.9L707.2,1507.0L712.1,1520.1L717.0,1526.9L721.9,1533.4L726.8,1537.3L731.8,1540.6L736.7,1543.8L741.6,1547.1L746.5,1547.1L751.4,1543.8L756.3,1538.7L761.2,1530.5L766.2,1524.7L771.1,1528.0L776.0,1531.2L780.9,1532.8L785.8,1534.5L790.7,1516.9L795.6,1500.4L800.6,1510.3L805.5,1517.8L810.4,1520.2L815.3,1523.5L820.2,1530.8L825.1,1538.2L830.1,1540.6L835.0,1543.1L839.9,1542.8L844.8,1542.1L849.7,1540.9L854.6,1538.8L859.5,1536.7L864.5,1531.6L869.4,1525.9L874.3,1508.9L879.2,1486.8L884.1,1476.0L889.0,1475.2L894.0,1478.7L898.9,1489.4L903.8,1498.5L908.7,1502.6L913.6,1506.5L918.5,1508.2L923.4,1509.8L928.4,1506.2L933.3,1502.1L938.2,1499.9L943.1,1498.2L948.0,1491.5L952.9,1481.7L957.8,1475.7L962.8,1474.0L967.7,1471.9L972.6,1468.6L977.5,1466.3L982.4,1468.7L987.3,1471.2L992.2,1473.6L992.2,1487.6L987.3,1485.2L982.4,1483.6L977.5,1484.4L972.6,1493.5L967.7,1504.1L962.8,1511.4L957.8,1517.1L952.9,1522.4L948.0,1527.3L943.1,1536.6L938.2,1553.0L933.3,1564.3L928.4,1558.6L923.4,1553.3L918.5,1553.3L913.6,1553.3L908.7,1543.4L903.8,1532.8L898.9,1531.0L894.0,1531.8L889.0,1533.7L884.1,1536.1L879.2,1540.9L874.3,1548.3L869.4,1555.1L864.5,1560.9L859.5,1566.5L854.6,1571.4L849.7,1576.3L844.8,1577.5L839.9,1576.8L835.0,1576.6L830.1,1579.0L825.1,1581.5L820.2,1584.8L815.3,1588.0L810.4,1588.6L805.5,1588.6L800.6,1594.6L795.6,1603.5L790.7,1607.9L785.8,1611.9L780.9,1616.0L776.0,1620.1L771.1,1620.3L766.2,1620.3L761.2,1621.6L756.3,1623.2L751.4,1627.0L746.5,1631.9L741.6,1626.4L736.7,1610.0L731.8,1596.1L726.8,1587.1L721.9,1579.0L717.0,1574.9L712.1,1570.8L707.2,1566.7L702.3,1562.6L697.4,1558.3L692.4,1554.0L687.5,1549.9L682.6,1561.4L677.7,1572.8L672.8,1569.6L667.9,1564.0L662.9,1560.4L658.0,1560.4L653.1,1558.5L648.2,1555.3L643.3,1553.3L638.4,1553.3L633.5,1553.3L628.5,1553.3L623.6,1553.3L618.7,1553.0L613.8,1552.2L608.9,1553.1L604.0,1560.1L599.0,1567.0L594.1,1567.4L589.2,1567.4L584.3,1566.3L579.4,1564.4L574.5,1565.7L569.6,1567.3L564.6,1566.6L559.7,1565.9L554.8,1566.2L549.9,1566.9L545.0,1566.9L540.1,1565.2L535.2,1561.5L530.2,1551.6L525.3,1544.3L520.4,1546.8L515.5,1549.2L510.6,1551.7L505.7,1556.0L500.8,1561.6L495.8,1577.4L490.9,1588.9L486.0,1592.6L481.1,1596.7L476.2,1600.8L471.3,1598.8L466.3,1596.4L461.4,1602.8L456.5,1610.4L451.6,1616.6L446.7,1620.5L441.8,1602.3L436.9,1590.7L431.9,1589.9L427.0,1582.2L422.1,1560.1L417.2,1544.1L412.3,1545.4L407.4,1546.2L402.4,1545.8L397.5,1544.4L392.6,1537.0L387.7,1530.9L382.8,1536.6L377.9,1542.1L373.0,1542.5L368.0,1543.0L363.1,1539.8L358.2,1536.5L353.3,1535.7L348.4,1519.1L343.5,1492.3L338.6,1480.2L333.6,1482.6L328.7,1485.2L323.8,1489.3L318.9,1493.4L314.0,1496.7L309.1,1499.9L304.1,1503.2L299.2,1506.5L294.3,1509.8L289.4,1513.0L284.5,1519.4L279.6,1525.6L274.7,1527.6L269.7,1529.3L264.8,1527.9L259.9,1526.0L255.0,1523.6Z" fill="#00f"/>
<path d="M255.0,1506.3L259.9,1519.0L264.8,1508.1L269.7,1491.5L274.7,1520.6L279.6,1504.1L284.5,1486.9L289.4,1506.0L294.3,1492.2L299.2,1479.0L304.1,1496.2L309.1,1481.9L314.0,1467.5L318.9,1486.4L323.8,1462.2L328.7,1454.7L333.6,1475.6L338.6,1462.2L343.5,1454.7L348.4,1512.1L353.3,1499.7L358.2,1491.2L363.1,1532.8L368.0,1514.5L373.0,1502.8L377.9,1535.1L382.8,1522.5L387.7,1517.8L392.6,1530.0L397.5,1518.3L402.4,1502.0L407.4,1539.2L412.3,1524.5L417.2,1513.8L422.1,1553.1L427.0,1546.4L431.9,1519.2L436.9,1583.7L441.8,1558.7L446.7,1523.0L451.6,1609.6L456.5,1566.4L461.4,1535.7L466.3,1589.4L471.3,1570.0L476.2,1553.4L481.1,1589.7L486.0,1568.7L490.9,1550.5L495.8,1570.4L500.8,1545.0L505.7,1527.5L510.6,1544.7L515.5,1521.3L520.4,1485.8L525.3,1537.3L530.2,1517.1L535.2,1496.1L540.1,1558.2L545.0,1528.9L549.9,1499.8L554.8,1559.2L559.7,1531.7L564.6,1504.6L569.6,1560.3L574.5,1528.1L579.4,1490.9L584.3,1559.3L589.2,1525.4L594.1,1492.5L599.0,1560.0L604.0,1524.1L608.9,1495.7L613.8,1545.2L618.7,1524.5L623.6,1505.3L628.5,1546.3L633.5,1526.5L638.4,1502.2L643.3,1546.3L648.2,1515.4L653.1,1460.4L658.0,1553.4L662.9,1500.4L667.9,1451.6L672.8,1562.6L677.7,1516.4L682.6,1488.4L687.5,1542.9L692.4,1526.6L697.4,1502.6L702.3,1555.6L707.2,1536.8L712.1,1527.1L717.0,1567.9L721.9,1556.2L726.8,1544.3L731.8,1589.1L736.7,1576.9L741.6,1554.1L746.5,1624.9L751.4,1585.4L756.3,1545.7L761.2,1614.6L766.2,1572.5L771.1,1535.0L776.0,1613.1L780.9,1574.4L785.8,1541.5L790.7,1600.9L795.6,1552.0L800.6,1517.3L805.5,1581.6L810.4,1554.4L815.3,1530.5L820.2,1577.8L825.1,1559.8L830.1,1547.6L835.0,1569.6L839.9,1559.8L844.8,1549.1L849.7,1569.3L854.6,1555.1L859.5,1543.7L864.5,1553.9L869.4,1540.5L874.3,1515.9L879.2,1533.9L884.1,1506.1L889.0,1482.2L894.0,1524.8L898.9,1510.2L903.8,1505.5L908.7,1536.4L913.6,1529.9L918.5,1515.2L923.4,1546.3L928.4,1532.4L933.3,1509.1L938.2,1546.0L943.1,1517.4L948.0,1498.5L952.9,1515.4L957.8,1496.4L962.8,1481.0L967.7,1497.1L972.6,1481.0L977.5,1473.3L982.4,1476.6L987.3,1478.2L992.2,1480.6" fill="none" stroke="#00f" stroke-width="3"/>
<path d="M245.0,1506.3a10,10 0 1,0 20.0,0a10,10 0 1,0 -20.0,0zM249.9,1519.0a10,10 0 1,0 20.0,0a10,10 0 1,0 -20.0,0zM254.8,1508.1a10,10 0 1,0 20.0,0a10,10 0 1,0 -20.0,0zM259.7,1491.5a10,10 0 1,0 20.0,0a10,10 0 1,0 -20.0,0zM264.7,1520.6a10,10 0 1,0 20.0,0a10,10 0 1,0 -20.0,0zM269.6,1504.1a10,10 0 1,0 20.0,0a10,10 0 1,0 -20.0,0zM274.5,1486.9a10,10 0 1,0 20.0,0a10,10 0 1,0 -20.0,0zM279.4,1506.0a10,10 0 1,0 20.0,0a10,10 0 1,0 -20.0,0zM284.3,1492.2a10,10 0 1,0 20.0,0a10,10 0 1,0 -20.0,0zM289.2,1479.0a10,10 0 1,0 20.0,0a10,10 0 1,0 -20.0,0zM294.1,1496.2a10,10 0 1,0 20.0,0a10,10 0 1,0 -20.0,0zM299.1,1481.9a10,10 0 1,0 20.0,0a10,10 0 1,0 -20.0,0zM304.0,1467.5a10,10 0 1,0 20.0,0a10,10 0 1,0 -20.0,0zM308.9,1486.4a10,10 0 1,0 20.0,0a10,10 0 1,0 -20.0,0zM313.8,1462.2a10,10 0 1,0 20.0,0a10,10 0 1,0 -20.0,0zM318.7,1454.7a10,10 0 1,0 20.0,0a10,10 0 1,0 -20.0,0zM323.6,1475.6a10,10 0 1,0 20.0,0a10,10 0 1,0 -20.0,0zM328.6,1462.2a10,10 0 1,0 20.0,0a10,10 0 1,0 -20.0,0zM333.5,1454.7a10,10 0 1,0 20.0,0a10,10 0 1,0 -20.0,0zM338.4,1512.1a10,10 0 1,0 20.0,0a10,10 0 1,0 -20.0,0zM343.3,1499.7a10,10 0 1,0 20.0,0a10,10 0 1,0 -20.0,0zM348.2,1491.2a10,10 0 1,0 20.0,0a10,10 0 1,0 -20.0,0zM353.1,1532.8a10,10 0 1,0 20.0,0a10,10 0 1,0 -20.0,0zM358.0,1514.5a10,10 0 1,0 20.0,0a10,10 0 1,0 -20.0,0zM363.0,1502.8a10,10 0 1,0 20.0,0a10,10 0 1,0 -20.0,0zM367.9,1535.1a10,10 0 1,0 20.0,0a10,10 0 1,0 -20.0,0zM372.8,1522.5a10,10 0 1,0 20.0,0a10,10 0 1,0 -20.0,0zM377.7,1517.8a10,10 0 1,0 20.0,0a10,10 0 1,0 -20.0,0zM382.6,1530.0a10,10 0 1,0 20.0,0a10,10 0 1,0 -20.0,0zM387.5,1518.3a10,10 0 1,0 20.0,0a10,10 0 1,0 -20.0,0zM392.4,1502.0a10,10 0 1,0 20.0,0a10,10 0 1,0 -20.0,0zM397.4,1539.2a10,10 0 1,0 20.0,0a10,10 0 1,0 -20.0,0zM402.3,1524.5a10,10 0 1,0 20.0,0a10,10 0 1,0 -20.0,0zM407.2,1513.8a10,10 0 1,0 20.0,0a10,10 0 1,0 -20.0,0zM412.1,1553.1a10,10 0 1,0 20.0,0a10,10 0 1,0 -20.0,0zM417.0,1546.4a10,10 0 1,0 20.0,0a10,10 0 1,0 -20.0,0zM421.9,1519.2a10,10 0 1,0 20.0,0a10,10 0 1,0 -20.0,0zM426.9,1583.7a10,10 0 1,0 20.0,0a10,10 0 1,0 -20.0,0zM431.8,1558.7a10,10 0 1,0 20.0,0a10,10 0 1,0 -20.0,0zM436.7,1523.0a10,10 0 1,0 20.0,0a10,10 0 1,0 -20.0,0zM441.6,1609.6a10,10 0 1,0 20.0,0a10,10 0 1,0 -20.0,0zM446.5,1566.4a10,10 0 1,0 20.0,0a10,10 0 1,0 -20.0,0zM451.4,1535.7a10,10 0 1,0 20.0,0a10,10 0 1,0 -20.0,0zM456.3,1589.4a10,10 0 1,0 20.0,0a10,10 0 1,0 -20.0,0zM461.3,1570.0a10,10 0 1,0 20.0,0a10,10 0 1,0 -20.0,0zM466.2,1553.4a10,10 0 1,0 20.0,0a10,10 0 1,0 -20.0,0zM471.1,1589.7a10,10 0 1,0 20.0,0a10,10 0 1,0 -20.0,0zM476.0,1568.7a10,10 0 1,0 20.0,0a10,10 0 1,0 -20.0,0zM480.9,1550.5a10,10 0 1,0 20.0,0a10,10 0 1,0 -20.0,0zM485.8,1570.4a10,10 0 1,0 20.0,0a10,10 0 1,0 -20.0,0zM490.8,1545.0a10,10 0 1,0 20.0,0a10,10 0 1,0 -20.0,0zM495.7,1527.5a10,10 0 1,0 20.0,0a10,10 0 1,0 -20.0,0zM500.6,1544.7a10,10 0 1,0 20.0,0a10,10 0 1,0 -20.0,0zM505.5,1521.3a10,10 0 1,0 20.0,0a10,10 0 1,0 -20.0,0zM510.4,1485.8a10,10 0 1,0 20.0,0a10,10 0 1,0 -20.0,0zM515.3,1537.3a10,10 0 1,0 20.0,0a10,10 0 1,0 -20.0,0zM520.2,1517.1a10,10 0 1,0 20.0,0a10,10 0 1,0 -20.0,0zM525.2,1496.1a10,10 0 1,0 20.0,0a10,10 0 1,0 -20.0,0zM530.1,1558.2a10,10 0 1,0 20.0,0a10,10 0 1,0 -20.0,0zM535.0,1528.9a10,10 0 1,0 20.0,0a10,10 0 1,0 -20.0,0zM539.9,1499.8a10,10 0 1,0 20.0,0a10,10 0 1,0 -20.0,0zM544.8,1559.2a10,10 0 1,0 20.0,0a10,10 0 1,0 -20.0,0zM549.7,1531.7a10,10 0 1,0 20.0,0a10,10 0 1,0 -20.0,0zM554.6,1504.6a10,10 0 1,0 20.0,0a10,10 0 1,0 -20.0,0zM559.6,1560.3a10,10 0 1,0 20.0,0a10,10 0 1,0 -20.0,0zM564.5,1528.1a10,10 0 1,0 20.0,0a10,10 0 1,0 -20.0,0zM569.4,1490.9a10,10 0 1,0 20.0,0a10,10 0 1,0 -20.0,0zM574.3,1559.3a10,10 0 1,0 20.0,0a10,10 0 1,0 -20.0,0zM579.2,1525.4a10,10 0 1,0 20.0,0a10,10 0 1,0 -20.0,0zM584.1,1492.5a10,10 0 1,0 20.0,0a10,10 0 1,0 -20.0,0zM589.0,1560.0a10,10 0 1,0 20.0,0a10,10 0 1,0 -20.0,0zM594.0,1524.1a10,10 0 1,0 20.0,0a10,10 0 1,0 -20.0,0zM598.9,1495.7a10,10 0 1,0 20.0,0a10,10 0 1,0 -20.0,0zM603.8,1545.2a10,10 0 1,0 20.0,0a10,10 0 1,0 -20.0,0zM608.7,1524.5a10,10 0 1,0 20.0,0a10,10 0 1,0 -20.0,0zM613.6,1505.3a10,10 0 1,0 20.0,0a10,10 0 1,0 -20.0,0zM618.5,1546.3a10,10 0 1,0 20.0,0a10,10 0 1,0 -20.0,0zM623.5,1526.5a10,10 0 1,0 20.0,0a10,10 0 1,0 -20.0,0zM628.4,1502.2a10,10 0 1,0 20.0,0a10,10 0 1,0 -20.0,0zM633.3,1546.3a10,10 0 1,0 20.0,0a10,10 0 1,0 -20.0,0zM638.2,1515.4a10,10 0 1,0 20.0,0a10,10 0 1,0 -20.0,0zM643.1,1460.4a10,10 0 1,0 20.0,0a10,10 0 1,0 -20.0,0zM648.0,1553.4a10,10 0 1,0 20.0,0a10,10 0 1,0 -20.0,0zM652.9,1500.4a10,10 0 1,0 20.0,0a10,10 0 1,0 -20.0,0zM657.9,1451.6a10,10 0 1,0 20.0,0a10,10 0 1,0 -20.0,0zM662.8,1562.6a10,10 0 1,0 20.0,0a10,10 0 1,0 -20.0,0zM667.7,1516.4a10,10 0 1,0 20.0,0a10,10 0 1,0 -20.0,0zM672.6,1488.4a10,10 0 1,0 20.0,0a10,10 0 1,0 -20.0,0zM677.5,1542.9a10,10 0 1,0 20.0,0a10,10 0 1,0 -20.0,0zM682.4,1526.6a10,10 0 1,0 20.0,0a10,10 0 1,0 -20.0,0zM687.4,1502.6a10,10 0 1,0 20.0,0a10,10 0 1,0 -20.0,0zM692.3,1555.6a10,10 0 1,0 20.0,0a10,10 0 1,0 -20.0,0zM697.2,1536.8a10,10 0 1,0 20.0,0a10,10 0 1,0 -20.0,0zM702.1,1527.1a10,10 0 1,0 20.0,0a10,10 0 1,0 -20.0,0zM707.0,1567.9a10,10 0 1,0 20.0,0a10,10 0 1,0 -20.0,0zM711.9,1556.2a10,10 0 1,0 20.0,0a10,10 0 1,0 -20.0,0zM716.8,1544.3a10,10 0 1,0 20.0,0a10,10 0 1,0 -20.0,0zM721.8,1589.1a10,10 0 1,0 20.0,0a10,10 0 1,0 -20.0,0zM726.7,1576.9a10,10 0 1,0 20.0,0a10,10 0 1,0 -20.0,0zM731.6,1554.1a10,10 0 1,0 20.0,0a10,10 0 1,0 -20.0,0zM736.5,1624.9a10,10 0 1,0 20.0,0a10,10 0 1,0 -20.0,0zM741.4,1585.4a10,10 0 1,0 20.0,0a10,10 0 1,0 -20.0,0zM746.3,1545.7a10,10 0 1,0 20.0,0a10,10 0 1,0 -20.0,0zM751.2,1614.6a10,10 0 1,0 20.0,0a10,10 0 1,0 -20.0,0zM756.2,1572.5a10,10 0 1,0 20.0,0a10,10 0 1,0 -20.0,0zM761.1,1535.0a10,10 0 1,0 20.0,0a10,10 0 1,0 -20.0,0zM766.0,1613.1a10,10 0 1,0 20.0,0a10,10 0 1,0 -20.0,0zM770.9,1574.4a10,10 0 1,0 20.0,0a10,10 0 1,0 -20.0,0zM775.8,1541.5a10,10 0 1,0 20.0,0a10,10 0 1,0 -20.0,0zM780.7,1600.9a10,10 0 1,0 20.0,0a10,10 0 1,0 -20.0,0zM785.6,1552.0a10,10 0 1,0 20.0,0a10,10 0 1,0 -20.0,0zM790.6,1517.3a10,10 0 1,0 20.0,0a10,10 0 1,0 -20.0,0zM795.5,1581.6a10,10 0 1,0 20.0,0a10,10 0 1,0 -20.0,0zM800.4,1554.4a10,10 0 1,0 20.0,0a10,10 0 1,0 -20.0,0zM805.3,1530.5a10,10 0 1,0 20.0,0a10,10 0 1,0 -20.0,0zM810.2,1577.8a10,10 0 1,0 20.0,0a10,10 0 1,0 -20.0,0zM815.1,1559.8a10,10 0 1,0 20.0,0a10,10 0 1,0 -20.0,0zM820.1,1547.6a10,10 0 1,0 20.0,0a10,10 0 1,0 -20.0,0zM825.0,1569.6a10,10 0 1,0 20.0,0a10,10 0 1,0 -20.0,0zM829.9,1559.8a10,10 0 1,0 20.0,0a10,10 0 1,0 -20.0,0zM834.8,1549.1a10,10 0 1,0 20.0,0a10,10 0 1,0 -20.0,0zM839.7,1569.3a10,10 0 1,0 20.0,0a10,10 0 1,0 -20.0,0zM844.6,1555.1a10,10 0 1,0 20.0,0a10,10 0 1,0 -20.0,0zM849.5,1543.7a10,10 0 1,0 20.0,0a10,10 0 1,0 -20.0,0zM854.5,1553.9a10,10 0 1,0 20.0,0a10,10 0 1,0 -20.0,0zM859.4,1540.5a10,10 0 1,0 20.0,0a10,10 0 1,0 -20.0,0zM864.3,1515.9a10,10 0 1,0 20.0,0a10,10 0 1,0 -20.0,0zM869.2,1533.9a10,10 0 1,0 20.0,0a10,10 0 1,0 -20.0,0zM874.1,1506.1a10,10 0 1,0 20.0,0a10,10 0 1,0 -20.0,0zM879.0,1482.2a10,10 0 1,0 20.0,0a10,10 0 1,0 -20.0,0zM884.0,1524.8a10,10 0 1,0 20.0,0a10,10 0 1,0 -20.0,0zM888.9,1510.2a10,10 0 1,0 20.0,0a10,10 0 1,0 -20.0,0zM893.8,1505.5a10,10 0 1,0 20.0,0a10,10 0 1,0 -20.0,0zM898.7,1536.4a10,10 0 1,0 20.0,0a10,10 0 1,0 -20.0,0zM903.6,1529.9a10,10 0 1,0 20.0,0a10,10 0 1,0 -20.0,0zM908.5,1515.2a10,10 0 1,0 20.0,0a10,10 0 1,0 -20.0,0zM913.4,1546.3a10,10 0 1,0 20.0,0a10,10 0 1,0 -20.0,0zM918.4,1532.4a10,10 0 1,0 20.0,0a10,10 0 1,0 -20.0,0zM923.3,1509.1a10,10 0 1,0 20.0,0a10,10 0 1,0 -20.0,0zM928.2,1546.0a10,10 0 1,0 20.0,0a10,10 0 1,0 -20.0,0zM933.1,1517.4a10,10 0 1,0 20.0,0a10,10 0 1,0 -20.0,0zM938.0,1498.5a10,10 0 1,0 20.0,0a10,10 0 1,0 -20.0,0zM942.9,1515.4a10,10 0 1,0 20.0,0a10,10 0 1,0 -20.0,0zM947.8,1496.4a10,10 0 1,0 20.0,0a10,10 0 1,0 -20.0,0zM952.8,1481.0a10,10 0 1,0 20.0,0a10,10 0 1,0 -20.0,0zM957.7,1497.1a10,10 0 1,0 20.0,0a10,10 0 1,0 -20.0,0zM962.6,1481.0a10,10 0 1,0 20.0,0a10,10 0 1,0 -20.0,0zM967.5,1473.3a10,10 0 1,0 20.0,0a10,10 0 1,0 -20.0,0zM972.4,1476.6a10,10 0 1,0 20.0,0a10,10 0 1,0 -20.0,0zM977.3,1478.2a10,10 0 1,0 20.0,0a10,10 0 1,0 -20.0,0zM982.2,1480.6a10,10 0 1,0 20.0,0a10,10 0 1,0 -20.0,0z" fill="#00f"/>
<path d="M328.7,1454.7L328.7,1419.1" stroke="#00f" stroke-width="4" fill="none"/>
<path d="M318.7,1419.1a10,10 0 1,0 20.0,0a10,10 0 1,0 -20.0,0z" fill="#00f"/>
<path d="M1587.8,1443.3L1596.8,1443.3L1601.7,1443.3L1606.6,1441.3L1611.5,1441.3L1616.5,1436.0L1621.4,1436.0L1626.3,1408.2L1631.2,1408.2L1636.1,1408.2L1641.0,1426.1L1645.9,1426.1L1650.9,1426.1L1655.8,1426.1L1660.7,1455.1L1665.6,1455.1L1670.5,1455.1L1675.4,1448.0L1680.3,1448.0L1685.3,1421.9L1690.2,1421.9L1695.1,1375.3L1700.0,1375.3L1704.9,1375.3L1709.8,1378.4L1714.8,1378.4L1719.7,1395.2L1724.6,1395.2L1729.5,1417.8L1734.4,1417.8L1739.3,1421.0L1744.2,1421.0L1749.2,1453.5L1754.1,1453.5L1759.0,1459.8L1763.9,1470.7L1768.8,1470.7L1773.7,1480.1L1778.7,1480.1L1783.6,1481.3L1788.5,1481.3L1793.4,1481.3L1798.3,1480.1L1803.2,1480.1L1808.1,1480.1L1813.1,1477.0L1818.0,1477.0L1822.9,1477.0L1827.8,1474.9L1832.7,1474.9L1837.6,1474.9L1842.5,1494.2L1847.5,1494.2L1852.4,1494.2L1857.3,1502.3L1862.2,1502.3L1867.1,1502.3L1872.0,1513.7L1877.0,1513.7L1881.9,1508.2L1886.8,1508.2L1891.7,1486.0L1896.6,1486.0L1901.5,1486.0L1906.4,1486.0L1911.4,1486.0L1916.3,1486.0L1921.2,1486.0L1926.1,1480.9L1931.0,1480.9L1935.9,1480.9L1940.8,1480.9L1945.8,1495.7L1950.7,1495.7L1955.6,1497.0L1960.5,1497.0L1965.4,1497.0L1970.3,1496.0L1975.2,1496.0L1980.2,1489.9L1985.1,1489.9L1990.0,1489.0L1994.9,1489.0L1999.8,1489.0L2004.7,1453.0L2009.7,1453.0L2014.6,1453.0L2019.5,1489.0L2024.4,1489.0L2029.3,1494.2L2034.2,1494.2L2039.1,1520.0L2044.1,1520.0L2049.0,1520.0L2053.9,1520.0L2058.8,1512.9L2063.7,1512.9L2068.6,1512.9L2073.6,1512.9L2078.5,1524.2L2083.4,1524.2L2088.3,1528.9L2093.2,1528.9L2098.1,1529.8L2103.0,1529.8L2108.0,1541.9L2112.9,1541.9L2117.8,1555.2L2122.7,1555.2L2127.6,1568.5L2132.5,1573.1L2137.4,1573.1L2142.4,1589.6L2147.3,1589.6L2152.2,1595.8L2157.1,1595.8L2162.0,1595.8L2166.9,1581.0L2171.8,1581.0L2176.8,1574.7L2181.7,1574.7L2186.6,1527.0L2191.5,1527.0L2196.4,1527.1L2201.3,1527.1L2206.3,1552.9L2211.2,1552.9L2216.1,1552.9L2221.0,1573.2L2225.9,1573.2L2230.8,1567.0L2235.7,1567.0L2240.7,1567.0L2245.6,1561.2L2250.5,1553.7L2255.4,1553.7L2260.3,1534.1L2265.2,1534.1L2270.2,1534.1L2275.1,1527.1L2280.0,1527.1L2284.9,1517.4L2289.8,1517.4L2294.7,1517.4L2299.6,1513.0L2304.6,1513.0L2309.5,1505.9L2314.4,1505.9L2319.3,1505.9L2324.2,1518.9L2329.1,1518.9L2334.0,1518.9L2339.0,1508.3L2343.9,1508.3L2348.8,1499.2L2353.7,1499.2L2358.6,1489.2L2363.5,1489.2L2368.4,1486.1L2373.4,1470.0L2378.3,1470.0L2383.2,1470.0L2388.1,1462.1L2393.0,1462.1L2397.9,1462.1L2402.9,1467.3L2407.8,1467.3L2412.7,1467.3L2417.6,1456.2L2422.5,1456.2L2431.5,1456.2L2431.5,1505.2L2422.5,1505.2L2417.6,1505.7L2412.7,1504.4L2407.8,1501.6L2402.9,1500.2L2397.9,1499.8L2393.0,1499.7L2388.1,1499.7L2383.2,1502.3L2378.3,1505.6L2373.4,1513.2L2368.4,1521.4L2363.5,1527.6L2358.6,1533.6L2353.7,1538.1L2348.8,1542.4L2343.9,1545.7L2339.0,1549.2L2334.0,1553.3L2329.1,1554.0L2324.2,1548.1L2319.3,1544.5L2314.4,1541.6L2309.5,1546.9L2304.6,1552.2L2299.6,1552.6L2294.7,1553.4L2289.8,1555.1L2284.9,1558.1L2280.0,1563.0L2275.1,1567.3L2270.2,1571.0L2265.2,1576.9L2260.3,1584.3L2255.4,1591.7L2250.5,1599.0L2245.6,1602.5L2240.7,1605.0L2235.7,1610.0L2230.8,1615.3L2225.9,1618.2L2221.0,1620.8L2216.1,1617.9L2211.2,1614.3L2206.3,1606.5L2201.3,1597.3L2196.4,1584.1L2191.5,1586.2L2186.6,1591.3L2181.7,1606.4L2176.8,1619.2L2171.8,1622.5L2166.9,1625.5L2162.0,1628.2L2157.1,1629.1L2152.2,1627.3L2147.3,1625.0L2142.4,1622.1L2137.4,1618.8L2132.5,1615.1L2127.6,1609.0L2122.7,1601.6L2117.8,1592.4L2112.9,1582.5L2108.0,1582.0L2103.0,1583.2L2098.1,1581.0L2093.2,1578.6L2088.3,1575.0L2083.4,1570.9L2078.5,1572.9L2073.6,1576.6L2068.6,1574.9L2063.7,1572.4L2058.8,1573.5L2053.9,1576.1L2049.0,1573.1L2044.1,1570.6L2039.1,1568.6L2034.2,1557.5L2029.3,1539.5L2024.4,1531.1L2019.5,1527.8L2014.6,1518.3L2009.7,1506.6L2004.7,1513.5L1999.8,1523.9L1994.9,1531.1L1990.0,1538.0L1985.1,1538.0L1980.2,1538.0L1975.2,1539.6L1970.3,1541.7L1965.4,1542.8L1960.5,1542.9L1955.6,1541.9L1950.7,1538.6L1945.8,1535.5L1940.8,1534.1L1935.9,1532.7L1931.0,1533.1L1926.1,1533.8L1921.2,1533.8L1916.3,1533.5L1911.4,1534.0L1906.4,1535.8L1901.5,1537.3L1896.6,1538.2L1891.7,1542.2L1886.8,1546.0L1881.9,1550.3L1877.0,1555.2L1872.0,1559.2L1867.1,1562.5L1862.2,1569.1L1857.3,1577.7L1852.4,1571.1L1847.5,1558.5L1842.5,1553.3L1837.6,1550.0L1832.7,1547.9L1827.8,1545.8L1822.9,1547.0L1818.0,1548.2L1813.1,1549.0L1808.1,1550.0L1803.2,1551.8L1798.3,1553.8L1793.4,1556.0L1788.5,1556.7L1783.6,1554.2L1778.7,1549.4L1773.7,1541.6L1768.8,1534.3L1763.9,1527.3L1759.0,1522.9L1754.1,1520.0L1749.2,1499.1L1744.2,1481.8L1739.3,1478.5L1734.4,1475.9L1729.5,1473.8L1724.6,1471.3L1719.7,1468.4L1714.8,1464.4L1709.8,1459.9L1704.9,1460.9L1700.0,1463.4L1695.1,1469.8L1690.2,1478.3L1685.3,1490.6L1680.3,1504.3L1675.4,1518.7L1670.5,1517.6L1665.6,1512.7L1660.7,1500.1L1655.8,1493.9L1650.9,1492.2L1645.9,1492.0L1641.0,1491.9L1636.1,1489.5L1631.2,1486.7L1626.3,1494.3L1621.4,1503.2L1616.5,1509.7L1611.5,1511.8L1606.6,1513.6L1601.7,1515.0L1596.8,1516.5L1587.8,1516.5Z" fill="#f00"/>
<path d="M1587.8,1443.3h18.0v18.0h-18.0zM1592.7,1443.3h18.0v18.0h-18.0zM1597.6,1441.3h18.0v18.0h-18.0zM1602.5,1441.3h18.0v18.0h-18.0zM1607.5,1436.0h18.0v18.0h-18.0zM1612.4,1436.0h18.0v18.0h-18.0zM1617.3,1408.2h18.0v18.0h-18.0zM1622.2,1408.2h18.0v18.0h-18.0zM1627.1,1408.2h18.0v18.0h-18.0zM1632.0,1426.1h18.0v18.0h-18.0zM1636.9,1426.1h18.0v18.0h-18.0zM1641.9,1426.1h18.0v18.0h-18.0zM1646.8,1426.1h18.0v18.0h-18.0zM1651.7,1455.1h18.0v18.0h-18.0zM1656.6,1455.1h18.0v18.0h-18.0zM1661.5,1455.1h18.0v18.0h-18.0zM1666.4,1448.0h18.0v18.0h-18.0zM1671.3,1448.0h18.0v18.0h-18.0zM1676.3,1421.9h18.0v18.0h-18.0zM1681.2,1421.9h18.0v18.0h-18.0zM1686.1,1375.3h18.0v18.0h-18.0zM1691.0,1375.3h18.0v18.0h-18.0zM1695.9,1375.3h18.0v18.0h-18.0zM1700.8,1378.4h18.0v18.0h-18.0zM1705.8,1378.4h18.0v18.0h-18.0zM1710.7,1395.2h18.0v18.0h-18.0zM1715.6,1395.2h18.0v18.0h-18.0zM1720.5,1417.8h18.0v18.0h-18.0zM1725.4,1417.8h18.0v18.0h-18.0zM1730.3,1421.0h18.0v18.0h-18.0zM1735.2,1421.0h18.0v18.0h-18.0zM1740.2,1453.5h18.0v18.0h-18.0zM1745.1,1453.5h18.0v18.0h-18.0zM1750.0,1459.8h18.0v18.0h-18.0zM1754.9,1470.7h18.0v18.0h-18.0zM1759.8,1470.7h18.0v18.0h-18.0zM1764.7,1480.1h18.0v18.0h-18.0zM1769.7,1480.1h18.0v18.0h-18.0zM1774.6,1481.3h18.0v18.0h-18.0zM1779.5,1481.3h18.0v18.0h-18.0zM1784.4,1481.3h18.0v18.0h-18.0zM1789.3,1480.1h18.0v18.0h-18.0zM1794.2,1480.1h18.0v18.0h-18.0zM1799.1,1480.1h18.0v18.0h-18.0zM1804.1,1477.0h18.0v18.0h-18.0zM1809.0,1477.0h18.0v18.0h-18.0zM1813.9,1477.0h18.0v18.0h-18.0zM1818.8,1474.9h18.0v18.0h-18.0zM1823.7,1474.9h18.0v18.0h-18.0zM1828.6,1474.9h18.0v18.0h-18.0zM1833.5,1494.2h18.0v18.0h-18.0zM1838.5,1494.2h18.0v18.0h-18.0zM1843.4,1494.2h18.0v18.0h-18.0zM1848.3,1502.3h18.0v18.0h-18.0zM1853.2,1502.3h18.0v18.0h-18.0zM1858.1,1502.3h18.0v18.0h-18.0zM1863.0,1513.7h18.0v18.0h-18.0zM1868.0,1513.7h18.0v18.0h-18.0zM1872.9,1508.2h18.0v18.0h-18.0zM1877.8,1508.2h18.0v18.0h-18.0zM1882.7,1486.0h18.0v18.0h-18.0zM1887.6,1486.0h18.0v18.0h-18.0zM1892.5,1486.0h18.0v18.0h-18.0zM1897.4,1486.0h18.0v18.0h-18.0zM1902.4,1486.0h18.0v18.0h-18.0zM1907.3,1486.0h18.0v18.0h-18.0zM1912.2,1486.0h18.0v18.0h-18.0zM1917.1,1480.9h18.0v18.0h-18.0zM1922.0,1480.9h18.0v18.0h-18.0zM1926.9,1480.9h18.0v18.0h-18.0zM1931.8,1480.9h18.0v18.0h-18.0zM1936.8,1495.7h18.0v18.0h-18.0zM1941.7,1495.7h18.0v18.0h-18.0zM1946.6,1497.0h18.0v18.0h-18.0zM1951.5,1497.0h18.0v18.0h-18.0zM1956.4,1497.0h18.0v18.0h-18.0zM1961.3,1496.0h18.0v18.0h-18.0zM1966.2,1496.0h18.0v18.0h-18.0zM1971.2,1489.9h18.0v18.0h-18.0zM1976.1,1489.9h18.0v18.0h-18.0zM1981.0,1489.0h18.0v18.0h-18.0zM1985.9,1489.0h18.0v18.0h-18.0zM1990.8,1489.0h18.0v18.0h-18.0zM1995.7,1453.0h18.0v18.0h-18.0zM2000.7,1453.0h18.0v18.0h-18.0zM2005.6,1453.0h18.0v18.0h-18.0zM2010.5,1489.0h18.0v18.0h-18.0zM2015.4,1489.0h18.0v18.0h-18.0zM2020.3,1494.2h18.0v18.0h-18.0zM2025.2,1494.2h18.0v18.0h-18.0zM2030.1,1520.0h18.0v18.0h-18.0zM2035.1,1520.0h18.0v18.0h-18.0zM2040.0,1520.0h18.0v18.0h-18.0zM2044.9,1520.0h18.0v18.0h-18.0zM2049.8,1512.9h18.0v18.0h-18.0zM2054.7,1512.9h18.0v18.0h-18.0zM2059.6,1512.9h18.0v18.0h-18.0zM2064.6,1512.9h18.0v18.0h-18.0zM2069.5,1524.2h18.0v18.0h-18.0zM2074.4,1524.2h18.0v18.0h-18.0zM2079.3,1528.9h18.0v18.0h-18.0zM2084.2,1528.9h18.0v18.0h-18.0zM2089.1,1529.8h18.0v18.0h-18.0zM2094.0,1529.8h18.0v18.0h-18.0zM2099.0,1541.9h18.0v18.0h-18.0zM2103.9,1541.9h18.0v18.0h-18.0zM2108.8,1555.2h18.0v18.0h-18.0zM2113.7,1555.2h18.0v18.0h-18.0zM2118.6,1568.5h18.0v18.0h-18.0zM2123.5,1573.1h18.0v18.0h-18.0zM2128.4,1573.1h18.0v18.0h-18.0zM2133.4,1589.6h18.0v18.0h-18.0zM2138.3,1589.6h18.0v18.0h-18.0zM2143.2,1595.8h18.0v18.0h-18.0zM2148.1,1595.8h18.0v18.0h-18.0zM2153.0,1595.8h18.0v18.0h-18.0zM2157.9,1581.0h18.0v18.0h-18.0zM2162.8,1581.0h18.0v18.0h-18.0zM2167.8,1574.7h18.0v18.0h-18.0zM2172.7,1574.7h18.0v18.0h-18.0zM2177.6,1527.0h18.0v18.0h-18.0zM2182.5,1527.0h18.0v18.0h-18.0zM2187.4,1527.1h18.0v18.0h-18.0zM2192.3,1527.1h18.0v18.0h-18.0zM2197.3,1552.9h18.0v18.0h-18.0zM2202.2,1552.9h18.0v18.0h-18.0zM2207.1,1552.9h18.0v18.0h-18.0zM2212.0,1573.2h18.0v18.0h-18.0zM2216.9,1573.2h18.0v18.0h-18.0zM2221.8,1567.0h18.0v18.0h-18.0zM2226.7,1567.0h18.0v18.0h-18.0zM2231.7,1567.0h18.0v18.0h-18.0zM2236.6,1561.2h18.0v18.0h-18.0zM2241.5,1553.7h18.0v18.0h-18.0zM2246.4,1553.7h18.0v18.0h-18.0zM2251.3,1534.1h18.0v18.0h-18.0zM2256.2,1534.1h18.0v18.0h-18.0zM2261.2,1534.1h18.0v18.0h-18.0zM2266.1,1527.1h18.0v18.0h-18.0zM2271.0,1527.1h18.0v18.0h-18.0zM2275.9,1517.4h18.0v18.0h-18.0zM2280.8,1517.4h18.0v18.0h-18.0zM2285.7,1517.4h18.0v18.0h-18.0zM2290.6,1513.0h18.0v18.0h-18.0zM2295.6,1513.0h18.0v18.0h-18.0zM2300.5,1505.9h18.0v18.0h-18.0zM2305.4,1505.9h18.0v18.0h-18.0zM2310.3,1505.9h18.0v18.0h-18.0zM2315.2,1518.9h18.0v18.0h-18.0zM2320.1,1518.9h18.0v18.0h-18.0zM2325.0,1518.9h18.0v18.0h-18.0zM2330.0,1508.3h18.0v18.0h-18.0zM2334.9,1508.3h18.0v18.0h-18.0zM2339.8,1499.2h18.0v18.0h-18.0zM2344.7,1499.2h18.0v18.0h-18.0zM2349.6,1489.2h18.0v18.0h-18.0zM2354.5,1489.2h18.0v18.0h-18.0zM2359.4,1486.1h18.0v18.0h-18.0zM2364.4,1470.0h18.0v18.0h-18.0zM2369.3,1470.0h18.0v18.0h-18.0zM2374.2,1470.0h18.0v18.0h-18.0zM2379.1,1462.1h18.0v18.0h-18.0zM2384.0,1462.1h18.0v18.0h-18.0zM2388.9,1462.1h18.0v18.0h-18.0zM2393.9,1467.3h18.0v18.0h-18.0zM2398.8,1467.3h18.0v18.0h-18.0zM2403.7,1467.3h18.0v18.0h-18.0zM2408.6,1456.2h18.0v18.0h-18.0zM2413.5,1456.2h18.0v18.0h-18.0z" fill="#f00"/>
<path d="M1596.8,1481.9L1601.7,1479.2L1606.6,1477.6L1611.5,1475.0L1616.5,1471.7L1621.4,1463.3L1626.3,1452.3L1631.2,1443.6L1636.1,1454.2L1641.0,1462.6L1645.9,1461.5L1650.9,1460.4L1655.8,1466.6L1660.7,1476.7L1665.6,1490.5L1670.5,1486.4L1675.4,1480.5L1680.3,1467.4L1685.3,1451.8L1690.2,1430.2L1695.1,1417.5L1700.0,1409.9L1704.9,1412.3L1709.8,1415.9L1714.8,1424.1L1719.7,1431.1L1724.6,1435.2L1729.5,1440.9L1734.4,1449.0L1739.3,1455.3L1744.2,1459.4L1749.2,1475.0L1754.1,1493.4L1759.0,1496.7L1763.9,1500.9L1768.8,1506.6L1773.7,1510.8L1778.7,1513.3L1783.6,1514.4L1788.5,1514.4L1793.4,1514.1L1798.3,1513.7L1803.2,1514.5L1808.1,1515.7L1813.1,1513.2L1818.0,1509.9L1822.9,1508.9L1827.8,1508.2L1832.7,1510.6L1837.6,1513.6L1842.5,1521.0L1847.5,1527.2L1852.4,1528.8L1857.3,1530.2L1862.2,1531.1L1867.1,1533.1L1872.0,1537.2L1877.0,1539.0L1881.9,1538.2L1886.8,1533.6L1891.7,1526.0L1896.6,1519.6L1901.5,1520.5L1906.4,1520.1L1911.4,1519.4L1916.3,1519.1L1921.2,1519.1L1926.1,1518.1L1931.0,1515.3L1935.9,1513.5L1940.8,1519.1L1945.8,1524.7L1950.7,1526.9L1955.6,1528.6L1960.5,1528.8L1965.4,1528.1L1970.3,1527.5L1975.2,1527.2L1980.2,1525.9L1985.1,1521.0L1990.0,1516.0L1994.9,1510.3L1999.8,1503.5L2004.7,1510.3L2009.7,1510.3L2014.6,1494.1L2019.5,1512.6L2024.4,1511.8L2029.3,1513.5L2034.2,1520.0L2039.1,1525.9L2044.1,1530.8L2049.0,1537.3L2053.9,1545.1L2058.8,1546.6L2063.7,1546.3L2068.6,1543.4L2073.6,1541.1L2078.5,1542.8L2083.4,1545.8L2088.3,1554.0L2093.2,1559.1L2098.1,1557.0L2103.0,1555.1L2108.0,1555.9L2112.9,1559.0L2117.8,1573.7L2122.7,1586.6L2127.6,1594.0L2132.5,1600.8L2137.4,1606.5L2142.4,1611.5L2147.3,1615.6L2152.2,1618.9L2157.1,1621.3L2162.0,1617.8L2166.9,1610.4L2171.8,1605.9L2176.8,1602.6L2181.7,1582.4L2186.6,1581.4L2191.5,1578.9L2196.4,1578.9L2201.3,1577.4L2206.3,1581.4L2211.2,1578.9L2216.1,1587.6L2221.0,1598.3L2225.9,1596.6L2230.8,1594.1L2235.7,1591.7L2240.7,1589.2L2245.6,1586.8L2250.5,1582.2L2255.4,1569.9L2260.3,1560.9L2265.2,1559.2L2270.2,1556.6L2275.1,1552.5L2280.0,1548.4L2284.9,1544.3L2289.8,1541.6L2294.7,1540.0L2299.6,1537.3L2304.6,1534.0L2309.5,1522.8L2314.4,1512.1L2319.3,1517.0L2324.2,1524.1L2329.1,1537.9L2334.0,1538.2L2339.0,1531.7L2343.9,1527.0L2348.8,1522.9L2353.7,1518.1L2358.6,1513.2L2363.5,1511.3L2368.4,1509.5L2373.4,1499.7L2378.3,1490.6L2383.2,1487.3L2388.1,1484.9L2393.0,1485.7L2397.9,1486.5L2402.9,1487.3L2407.8,1486.3L2412.7,1482.2L2417.6,1479.5L2422.5,1478.5L2422.5,1531.9L2417.6,1531.9L2412.7,1526.7L2407.8,1516.9L2402.9,1513.1L2397.9,1513.1L2393.0,1513.7L2388.1,1514.5L2383.2,1517.3L2378.3,1520.6L2373.4,1526.8L2368.4,1533.3L2363.5,1543.9L2358.6,1554.1L2353.7,1558.2L2348.8,1562.0L2343.9,1564.5L2339.0,1566.7L2334.0,1568.3L2329.1,1570.1L2324.2,1572.1L2319.3,1571.9L2314.4,1571.1L2309.5,1571.0L2304.6,1570.4L2299.6,1567.9L2294.7,1566.9L2289.8,1568.5L2284.9,1571.9L2280.0,1577.6L2275.1,1582.1L2270.2,1585.4L2265.2,1594.6L2260.3,1607.7L2255.4,1613.4L2250.5,1615.8L2245.6,1618.3L2240.7,1620.8L2235.7,1628.3L2230.8,1636.4L2225.9,1639.9L2221.0,1643.2L2216.1,1648.2L2211.2,1649.7L2206.3,1631.6L2201.3,1617.3L2196.4,1614.8L2191.5,1618.5L2186.6,1624.8L2181.7,1630.5L2176.8,1635.7L2171.8,1639.0L2166.9,1640.7L2162.0,1638.7L2157.1,1636.9L2152.2,1635.7L2147.3,1634.3L2142.4,1632.6L2137.4,1631.0L2132.5,1629.4L2127.6,1623.9L2122.7,1616.6L2117.8,1611.0L2112.9,1606.1L2108.0,1608.1L2103.0,1611.4L2098.1,1605.1L2093.2,1598.0L2088.3,1596.0L2083.4,1596.0L2078.5,1603.1L2073.6,1612.1L2068.6,1606.3L2063.7,1598.6L2058.8,1600.5L2053.9,1607.0L2049.0,1609.0L2044.1,1610.4L2039.1,1611.2L2034.2,1594.9L2029.3,1565.4L2024.4,1550.4L2019.5,1543.1L2014.6,1542.4L2009.7,1544.1L2004.7,1544.3L1999.8,1544.3L1994.9,1552.0L1990.0,1559.9L1985.1,1555.0L1980.2,1550.1L1975.2,1552.1L1970.3,1556.0L1965.4,1557.4L1960.5,1557.1L1955.6,1555.2L1950.7,1550.3L1945.8,1546.2L1940.8,1549.0L1935.9,1551.8L1931.0,1550.9L1926.1,1549.5L1921.2,1548.6L1916.3,1547.9L1911.4,1548.7L1906.4,1551.5L1901.5,1554.2L1896.6,1556.8L1891.7,1558.4L1886.8,1558.4L1881.9,1562.4L1877.0,1571.4L1872.0,1581.3L1867.1,1591.9L1862.2,1607.1L1857.3,1589.7L1852.4,1589.7L1847.5,1589.7L1842.5,1585.7L1837.6,1586.5L1832.7,1585.1L1827.8,1583.5L1822.9,1585.1L1818.0,1586.4L1813.1,1584.8L1808.1,1584.3L1803.2,1589.2L1798.3,1593.9L1793.4,1598.0L1788.5,1598.9L1783.6,1594.0L1778.7,1585.5L1773.7,1572.4L1768.8,1561.9L1763.9,1553.7L1759.0,1549.1L1754.1,1546.6L1749.2,1523.2L1744.2,1504.2L1739.3,1501.7L1734.4,1502.7L1729.5,1506.8L1724.6,1507.4L1719.7,1505.7L1714.8,1504.7L1709.8,1503.8L1704.9,1509.6L1700.0,1517.0L1695.1,1522.1L1690.2,1526.5L1685.3,1529.4L1680.3,1541.3L1675.4,1529.4L1670.5,1548.8L1665.6,1534.9L1660.7,1523.5L1655.8,1521.1L1650.9,1524.0L1645.9,1522.6L1641.0,1521.2L1636.1,1524.8L1631.2,1529.7L1626.3,1536.3L1621.4,1543.0L1616.5,1547.8L1611.5,1548.6L1606.6,1549.6L1601.7,1550.8L1596.8,1551.1Z" fill="#00f"/>
<path d="M1596.8,1488.9L1601.7,1543.8L1606.6,1513.6L1611.5,1482.0L1616.5,1540.8L1621.4,1503.2L1626.3,1459.3L1631.2,1522.7L1636.1,1489.5L1641.0,1469.6L1645.9,1515.6L1650.9,1492.2L1655.8,1473.6L1660.7,1516.5L1665.6,1512.7L1670.5,1493.4L1675.4,1522.4L1680.3,1504.3L1685.3,1458.8L1690.2,1519.5L1695.1,1469.8L1700.0,1416.9L1704.9,1502.6L1709.8,1459.9L1714.8,1431.1L1719.7,1498.7L1724.6,1471.3L1729.5,1447.9L1734.4,1495.7L1739.3,1478.5L1744.2,1466.4L1749.2,1516.2L1754.1,1520.0L1759.0,1503.7L1763.9,1546.7L1768.8,1534.3L1773.7,1517.8L1778.7,1578.5L1783.6,1554.2L1788.5,1521.4L1793.4,1591.0L1798.3,1553.8L1803.2,1521.5L1808.1,1577.3L1813.1,1549.0L1818.0,1516.9L1822.9,1578.1L1827.8,1545.8L1832.7,1517.6L1837.6,1579.5L1842.5,1553.3L1847.5,1534.2L1852.4,1582.7L1857.3,1560.0L1862.2,1538.1L1867.1,1584.9L1872.0,1559.2L1877.0,1546.0L1881.9,1555.4L1886.8,1546.0L1891.7,1533.0L1896.6,1549.8L1901.5,1537.3L1906.4,1527.1L1911.4,1541.7L1916.3,1533.5L1921.2,1526.1L1926.1,1542.5L1931.0,1533.1L1935.9,1520.5L1940.8,1542.0L1945.8,1535.5L1950.7,1533.9L1955.6,1548.2L1960.5,1542.9L1965.4,1535.1L1970.3,1549.0L1975.2,1539.6L1980.2,1532.9L1985.1,1548.0L1990.0,1538.0L1994.9,1517.3L1999.8,1537.3L2004.7,1527.3L2009.7,1517.3L2014.6,1535.4L2019.5,1527.8L2024.4,1518.8L2029.3,1558.4L2034.2,1557.5L2039.1,1532.9L2044.1,1603.4L2049.0,1573.1L2053.9,1552.1L2058.8,1593.5L2063.7,1572.4L2068.6,1550.4L2073.6,1605.1L2078.5,1572.9L2083.4,1552.8L2088.3,1589.0L2093.2,1578.6L2098.1,1564.0L2103.0,1604.4L2108.0,1582.0L2112.9,1566.0L2117.8,1604.0L2122.7,1601.6L2127.6,1601.0L2132.5,1622.4L2137.4,1618.8L2142.4,1618.5L2147.3,1627.3L2152.2,1627.3L2157.1,1628.3L2162.0,1631.7L2166.9,1625.5L2171.8,1612.9L2176.8,1628.7L2181.7,1606.4L2186.6,1588.4L2191.5,1611.5L2196.4,1596.9L2201.3,1584.4L2206.3,1624.6L2211.2,1614.3L2216.1,1594.6L2221.0,1636.2L2225.9,1618.2L2230.8,1601.1L2235.7,1621.3L2240.7,1605.0L2245.6,1593.8L2250.5,1608.8L2255.4,1591.7L2260.3,1567.9L2265.2,1587.6L2270.2,1571.0L2275.1,1559.5L2280.0,1570.6L2284.9,1558.1L2289.8,1548.6L2294.7,1559.9L2299.6,1552.6L2304.6,1541.0L2309.5,1564.0L2314.4,1541.6L2319.3,1524.0L2324.2,1565.1L2329.1,1554.0L2334.0,1545.2L2339.0,1559.7L2343.9,1545.7L2348.8,1529.9L2353.7,1551.2L2358.6,1533.6L2363.5,1518.3L2368.4,1526.3L2373.4,1513.2L2378.3,1497.6L2383.2,1510.3L2388.1,1499.7L2393.0,1492.7L2397.9,1506.1L2402.9,1500.2L2407.8,1493.3L2412.7,1519.7L2417.6,1505.7L2422.5,1485.5" fill="none" stroke="#00f" stroke-width="3"/>
<path d="M1586.8,1488.9a10,10 0 1,0 20.0,0a10,10 0 1,0 -20.0,0zM1591.7,1543.8a10,10 0 1,0 20.0,0a10,10 0 1,0 -20.0,0zM1596.6,1513.6a10,10 0 1,0 20.0,0a10,10 0 1,0 -20.0,0zM1601.5,1482.0a10,10 0 1,0 20.0,0a10,10 0 1,0 -20.0,0zM1606.5,1540.8a10,10 0 1,0 20.0,0a10,10 0 1,0 -20.0,0zM1611.4,1503.2a10,10 0 1,0 20.0,0a10,10 0 1,0 -20.0,0zM1616.3,1459.3a10,10 0 1,0 20.0,0a10,10 0 1,0 -20.0,0zM1621.2,1522.7a10,10 0 1,0 20.0,0a10,10 0 1,0 -20.0,0zM1626.1,1489.5a10,10 0 1,0 20.0,0a10,10 0 1,0 -20.0,0zM1631.0,1469.6a10,10 0 1,0 20.0,0a10,10 0 1,0 -20.0,0zM1635.9,1515.6a10,10 0 1,0 20.0,0a10,10 0 1,0 -20.0,0zM1640.9,1492.2a10,10 0 1,0 20.0,0a10,10 0 1,0 -20.0,0zM1645.8,1473.6a10,10 0 1,0 20.0,0a10,10 0 1,0 -20.0,0zM1650.7,1516.5a10,10 0 1,0 20.0,0a10,10 0 1,0 -20.0,0zM1655.6,1512.7a10,10 0 1,0 20.0,0a10,10 0 1,0 -20.0,0zM1660.5,1493.4a10,10 0 1,0 20.0,0a10,10 0 1,0 -20.0,0zM1665.4,1522.4a10,10 0 1,0 20.0,0a10,10 0 1,0 -20.0,0zM1670.3,1504.3a10,10 0 1,0 20.0,0a10,10 0 1,0 -20.0,0zM1675.3,1458.8a10,10 0 1,0 20.0,0a10,10 0 1,0 -20.0,0zM1680.2,1519.5a10,10 0 1,0 20.0,0a10,10 0 1,0 -20.0,0zM1685.1,1469.8a10,10 0 1,0 20.0,0a10,10 0 1,0 -20.0,0zM1690.0,1416.9a10,10 0 1,0 20.0,0a10,10 0 1,0 -20.0,0zM1694.9,1502.6a10,10 0 1,0 20.0,0a10,10 0 1,0 -20.0,0zM1699.8,1459.9a10,10 0 1,0 20.0,0a10,10 0 1,0 -20.0,0zM1704.8,1431.1a10,10 0 1,0 20.0,0a10,10 0 1,0 -20.0,0zM1709.7,1498.7a10,10 0 1,0 20.0,0a10,10 0 1,0 -20.0,0zM1714.6,1471.3a10,10 0 1,0 20.0,0a10,10 0 1,0 -20.0,0zM1719.5,1447.9a10,10 0 1,0 20.0,0a10,10 0 1,0 -20.0,0zM1724.4,1495.7a10,10 0 1,0 20.0,0a10,10 0 1,0 -20.0,0zM1729.3,1478.5a10,10 0 1,0 20.0,0a10,10 0 1,0 -20.0,0zM1734.2,1466.4a10,10 0 1,0 20.0,0a10,10 0 1,0 -20.0,0zM1739.2,1516.2a10,10 0 1,0 20.0,0a10,10 0 1,0 -20.0,0zM1744.1,1520.0a10,10 0 1,0 20.0,0a10,10 0 1,0 -20.0,0zM1749.0,1503.7a10,10 0 1,0 20.0,0a10,10 0 1,0 -20.0,0zM1753.9,1546.7a10,10 0 1,0 20.0,0a10,10 0 1,0 -20.0,0zM1758.8,1534.3a10,10 0 1,0 20.0,0a10,10 0 1,0 -20.0,0zM1763.7,1517.8a10,10 0 1,0 20.0,0a10,10 0 1,0 -20.0,0zM1768.7,1578.5a10,10 0 1,0 20.0,0a10,10 0 1,0 -20.0,0zM1773.6,1554.2a10,10 0 1,0 20.0,0a10,10 0 1,0 -20.0,0zM1778.5,1521.4a10,10 0 1,0 20.0,0a10,10 0 1,0 -20.0,0zM1783.4,1591.0a10,10 0 1,0 20.0,0a10,10 0 1,0 -20.0,0zM1788.3,1553.8a10,10 0 1,0 20.0,0a10,10 0 1,0 -20.0,0zM1793.2,1521.5a10,10 0 1,0 20.0,0a10,10 0 1,0 -20.0,0zM1798.1,1577.3a10,10 0 1,0 20.0,0a10,10 0 1,0 -20.0,0zM1803.1,1549.0a10,10 0 1,0 20.0,0a10,10 0 1,0 -20.0,0zM1808.0,1516.9a10,10 0 1,0 20.0,0a10,10 0 1,0 -20.0,0zM1812.9,1578.1a10,10 0 1,0 20.0,0a10,10 0 1,0 -20.0,0zM1817.8,1545.8a10,10 0 1,0 20.0,0a10,10 0 1,0 -20.0,0zM1822.7,1517.6a10,10 0 1,0 20.0,0a10,10 0 1,0 -20.0,0zM1827.6,1579.5a10,10 0 1,0 20.0,0a10,10 0 1,0 -20.0,0zM1832.5,1553.3a10,10 0 1,0 20.0,0a10,10 0 1,0 -20.0,0zM1837.5,1534.2a10,10 0 1,0 20.0,0a10,10 0 1,0 -20.0,0zM1842.4,1582.7a10,10 0 1,0 20.0,0a10,10 0 1,0 -20.0,0zM1847.3,1560.0a10,10 0 1,0 20.0,0a10,10 0 1,0 -20.0,0zM1852.2,1538.1a10,10 0 1,0 20.0,0a10,10 0 1,0 -20.0,0zM1857.1,1584.9a10,10 0 1,0 20.0,0a10,10 0 1,0 -20.0,0zM1862.0,1559.2a10,10 0 1,0 20.0,0a10,10 0 1,0 -20.0,0zM1867.0,1546.0a10,10 0 1,0 20.0,0a10,10 0 1,0 -20.0,0zM1871.9,1555.4a10,10 0 1,0 20.0,0a10,10 0 1,0 -20.0,0zM1876.8,1546.0a10,10 0 1,0 20.0,0a10,10 0 1,0 -20.0,0zM1881.7,1533.0a10,10 0 1,0 20.0,0a10,10 0 1,0 -20.0,0zM1886.6,1549.8a10,10 0 1,0 20.0,0a10,10 0 1,0 -20.0,0zM1891.5,1537.3a10,10 0 1,0 20.0,0a10,10 0 1,0 -20.0,0zM1896.4,1527.1a10,10 0 1,0 20.0,0a10,10 0 1,0 -20.0,0zM1901.4,1541.7a10,10 0 1,0 20.0,0a10,10 0 1,0 -20.0,0zM1906.3,1533.5a10,10 0 1,0 20.0,0a10,10 0 1,0 -20.0,0zM1911.2,1526.1a10,10 0 1,0 20.0,0a10,10 0 1,0 -20.0,0zM1916.1,1542.5a10,10 0 1,0 20.0,0a10,10 0 1,0 -20.0,0zM1921.0,1533.1a10,10 0 1,0 20.0,0a10,10 0 1,0 -20.0,0zM1925.9,1520.5a10,10 0 1,0 20.0,0a10,10 0 1,0 -20.0,0zM1930.8,1542.0a10,10 0 1,0 20.0,0a10,10 0 1,0 -20.0,0zM1935.8,1535.5a10,10 0 1,0 20.0,0a10,10 0 1,0 -20.0,0zM1940.7,1533.9a10,10 0 1,0 20.0,0a10,10 0 1,0 -20.0,0zM1945.6,1548.2a10,10 0 1,0 20.0,0a10,10 0 1,0 -20.0,0zM1950.5,1542.9a10,10 0 1,0 20.0,0a10,10 0 1,0 -20.0,0zM1955.4,1535.1a10,10 0 1,0 20.0,0a10,10 0 1,0 -20.0,0zM1960.3,1549.0a10,10 0 1,0 20.0,0a10,10 0 1,0 -20.0,0zM1965.2,1539.6a10,10 0 1,0 20.0,0a10,10 0 1,0 -20.0,0zM1970.2,1532.9a10,10 0 1,0 20.0,0a10,10 0 1,0 -20.0,0zM1975.1,1548.0a10,10 0 1,0 20.0,0a10,10 0 1,0 -20.0,0zM1980.0,1538.0a10,10 0 1,0 20.0,0a10,10 0 1,0 -20.0,0zM1984.9,1517.3a10,10 0 1,0 20.0,0a10,10 0 1,0 -20.0,0zM1989.8,1537.3a10,10 0 1,0 20.0,0a10,10 0 1,0 -20.0,0zM1994.7,1527.3a10,10 0 1,0 20.0,0a10,10 0 1,0 -20.0,0zM1999.7,1517.3a10,10 0 1,0 20.0,0a10,10 0 1,0 -20.0,0zM2004.6,1535.4a10,10 0 1,0 20.0,0a10,10 0 1,0 -20.0,0zM2009.5,1527.8a10,10 0 1,0 20.0,0a10,10 0 1,0 -20.0,0zM2014.4,1518.8a10,10 0 1,0 20.0,0a10,10 0 1,0 -20.0,0zM2019.3,1558.4a10,10 0 1,0 20.0,0a10,10 0 1,0 -20.0,0zM2024.2,1557.5a10,10 0 1,0 20.0,0a10,10 0 1,0 -20.0,0zM2029.1,1532.9a10,10 0 1,0 20.0,0a10,10 0 1,0 -20.0,0zM2034.1,1603.4a10,10 0 1,0 20.0,0a10,10 0 1,0 -20.0,0zM2039.0,1573.1a10,10 0 1,0 20.0,0a10,10 0 1,0 -20.0,0zM2043.9,1552.1a10,10 0 1,0 20.0,0a10,10 0 1,0 -20.0,0zM2048.8,1593.5a10,10 0 1,0 20.0,0a10,10 0 1,0 -20.0,0zM2053.7,1572.4a10,10 0 1,0 20.0,0a10,10 0 1,0 -20.0,0zM2058.6,1550.4a10,10 0 1,0 20.0,0a10,10 0 1,0 -20.0,0zM2063.6,1605.1a10,10 0 1,0 20.0,0a10,10 0 1,0 -20.0,0zM2068.5,1572.9a10,10 0 1,0 20.0,0a10,10 0 1,0 -20.0,0zM2073.4,1552.8a10,10 0 1,0 20.0,0a10,10 0 1,0 -20.0,0zM2078.3,1589.0a10,10 0 1,0 20.0,0a10,10 0 1,0 -20.0,0zM2083.2,1578.6a10,10 0 1,0 20.0,0a10,10 0 1,0 -20.0,0zM2088.1,1564.0a10,10 0 1,0 20.0,0a10,10 0 1,0 -20.0,0zM2093.0,1604.4a10,10 0 1,0 20.0,0a10,10 0 1,0 -20.0,0zM2098.0,1582.0a10,10 0 1,0 20.0,0a10,10 0 1,0 -20.0,0zM2102.9,1566.0a10,10 0 1,0 20.0,0a10,10 0 1,0 -20.0,0zM2107.8,1604.0a10,10 0 1,0 20.0,0a10,10 0 1,0 -20.0,0zM2112.7,1601.6a10,10 0 1,0 20.0,0a10,10 0 1,0 -20.0,0zM2117.6,1601.0a10,10 0 1,0 20.0,0a10,10 0 1,0 -20.0,0zM2122.5,1622.4a10,10 0 1,0 20.0,0a10,10 0 1,0 -20.0,0zM2127.4,1618.8a10,10 0 1,0 20.0,0a10,10 0 1,0 -20.0,0zM2132.4,1618.5a10,10 0 1,0 20.0,0a10,10 0 1,0 -20.0,0zM2137.3,1627.3a10,10 0 1,0 20.0,0a10,10 0 1,0 -20.0,0zM2142.2,1627.3a10,10 0 1,0 20.0,0a10,10 0 1,0 -20.0,0zM2147.1,1628.3a10,10 0 1,0 20.0,0a10,10 0 1,0 -20.0,0zM2152.0,1631.7a10,10 0 1,0 20.0,0a10,10 0 1,0 -20.0,0zM2156.9,1625.5a10,10 0 1,0 20.0,0a10,10 0 1,0 -20.0,0zM2161.8,1612.9a10,10 0 1,0 20.0,0a10,10 0 1,0 -20.0,0zM2166.8,1628.7a10,10 0 1,0 20.0,0a10,10 0 1,0 -20.0,0zM2171.7,1606.4a10,10 0 1,0 20.0,0a10,10 0 1,0 -20.0,0zM2176.6,1588.4a10,10 0 1,0 20.0,0a10,10 0 1,0 -20.0,0zM2181.5,1611.5a10,10 0 1,0 20.0,0a10,10 0 1,0 -20.0,0zM2186.4,1596.9a10,10 0 1,0 20.0,0a10,10 0 1,0 -20.0,0zM2191.3,1584.4a10,10 0 1,0 20.0,0a10,10 0 1,0 -20.0,0zM2196.3,1624.6a10,10 0 1,0 20.0,0a10,10 0 1,0 -20.0,0zM2201.2,1614.3a10,10 0 1,0 20.0,0a10,10 0 1,0 -20.0,0zM2206.1,1594.6a10,10 0 1,0 20.0,0a10,10 0 1,0 -20.0,0zM2211.0,1636.2a10,10 0 1,0 20.0,0a10,10 0 1,0 -20.0,0zM2215.9,1618.2a10,10 0 1,0 20.0,0a10,10 0 1,0 -20.0,0zM2220.8,1601.1a10,10 0 1,0 20.0,0a10,10 0 1,0 -20.0,0zM2225.7,1621.3a10,10 0 1,0 20.0,0a10,10 0 1,0 -20.0,0zM2230.7,1605.0a10,10 0 1,0 20.0,0a10,10 0 1,0 -20.0,0zM2235.6,1593.8a10,10 0 1,0 20.0,0a10,10 0 1,0 -20.0,0zM2240.5,1608.8a10,10 0 1,0 20.0,0a10,10 0 1,0 -20.0,0zM2245.4,1591.7a10,10 0 1,0 20.0,0a10,10 0 1,0 -20.0,0zM2250.3,1567.9a10,10 0 1,0 20.0,0a10,10 0 1,0 -20.0,0zM2255.2,1587.6a10,10 0 1,0 20.0,0a10,10 0 1,0 -20.0,0zM2260.2,1571.0a10,10 0 1,0 20.0,0a10,10 0 1,0 -20.0,0zM2265.1,1559.5a10,10 0 1,0 20.0,0a10,10 0 1,0 -20.0,0zM2270.0,1570.6a10,10 0 1,0 20.0,0a10,10 0 1,0 -20.0,0zM2274.9,1558.1a10,10 0 1,0 20.0,0a10,10 0 1,0 -20.0,0zM2279.8,1548.6a10,10 0 1,0 20.0,0a10,10 0 1,0 -20.0,0zM2284.7,1559.9a10,10 0 1,0 20.0,0a10,10 0 1,0 -20.0,0zM2289.6,1552.6a10,10 0 1,0 20.0,0a10,10 0 1,0 -20.0,0zM2294.6,1541.0a10,10 0 1,0 20.0,0a10,10 0 1,0 -20.0,0zM2299.5,1564.0a10,10 0 1,0 20.0,0a10,10 0 1,0 -20.0,0zM2304.4,1541.6a10,10 0 1,0 20.0,0a10,10 0 1,0 -20.0,0zM2309.3,1524.0a10,10 0 1,0 20.0,0a10,10 0 1,0 -20.0,0zM2314.2,1565.1a10,10 0 1,0 20.0,0a10,10 0 1,0 -20.0,0zM2319.1,1554.0a10,10 0 1,0 20.0,0a10,10 0 1,0 -20.0,0zM2324.0,1545.2a10,10 0 1,0 20.0,0a10,10 0 1,0 -20.0,0zM2329.0,1559.7a10,10 0 1,0 20.0,0a10,10 0 1,0 -20.0,0zM2333.9,1545.7a10,10 0 1,0 20.0,0a10,10 0 1,0 -20.0,0zM2338.8,1529.9a10,10 0 1,0 20.0,0a10,10 0 1,0 -20.0,0zM2343.7,1551.2a10,10 0 1,0 20.0,0a10,10 0 1,0 -20.0,0zM2348.6,1533.6a10,10 0 1,0 20.0,0a10,10 0 1,0 -20.0,0zM2353.5,1518.3a10,10 0 1,0 20.0,0a10,10 0 1,0 -20.0,0zM2358.4,1526.3a10,10 0 1,0 20.0,0a10,10 0 1,0 -20.0,0zM2363.4,1513.2a10,10 0 1,0 20.0,0a10,10 0 1,0 -20.0,0zM2368.3,1497.6a10,10 0 1,0 20.0,0a10,10 0 1,0 -20.0,0zM2373.2,1510.3a10,10 0 1,0 20.0,0a10,10 0 1,0 -20.0,0zM2378.1,1499.7a10,10 0 1,0 20.0,0a10,10 0 1,0 -20.0,0zM2383.0,1492.7a10,10 0 1,0 20.0,0a10,10 0 1,0 -20.0,0zM2387.9,1506.1a10,10 0 1,0 20.0,0a10,10 0 1,0 -20.0,0zM2392.9,1500.2a10,10 0 1,0 20.0,0a10,10 0 1,0 -20.0,0zM2397.8,1493.3a10,10 0 1,0 20.0,0a10,10 0 1,0 -20.0,0zM2402.7,1519.7a10,10 0 1,0 20.0,0a10,10 0 1,0 -20.0,0zM2407.6,1505.7a10,10 0 1,0 20.0,0a10,10 0 1,0 -20.0,0zM2412.5,1485.5a10,10 0 1,0 20.0,0a10,10 0 1,0 -20.0,0z" fill="#00f"/>
<path d="M1675.4,1522.4L1675.4,1549.9M1857.3,1582.7L1857.3,1618.2M2009.7,1517.3L2009.7,1476.1M2196.4,1585.9L2196.4,1560.5" stroke="#00f" stroke-width="4" fill="none"/>
<path d="M1665.4,1549.9a10,10 0 1,0 20.0,0a10,10 0 1,0 -20.0,0zM1847.3,1618.2a10,10 0 1,0 20.0,0a10,10 0 1,0 -20.0,0zM1999.7,1476.1a10,10 0 1,0 20.0,0a10,10 0 1,0 -20.0,0zM2186.4,1560.5a10,10 0 1,0 20.0,0a10,10 0 1,0 -20.0,0z" fill="#00f"/>
</g>
<rect x="1392.0" y="65.0" width="1028.0" height="674.0" fill="#fff"/>
<rect x="1390.0" y="65.0" width="1026.0" height="10.0" fill="#000"/>
<rect x="1392.0" y="75.0" width="11.0" height="664.0" fill="#000"/>
<rect x="2410.0" y="70.0" width="10.0" height="669.0" fill="#000"/>
<rect x="1392.0" y="730.0" width="1023.0" height="9.0" fill="#000"/>
<rect x="1383.0" y="121.0" width="9.0" height="9.0" fill="#000"/>
<rect x="2400.0" y="121.0" width="10.0" height="9.0" fill="#000"/>
<rect x="1389.5" y="176.2" width="2.5" height="9.0" fill="#000"/>
<rect x="2407.0" y="176.2" width="3.0" height="9.0" fill="#000"/>
<rect x="1383.0" y="231.5" width="9.0" height="9.0" fill="#000"/>
<rect x="2400.0" y="231.5" width="10.0" height="9.0" fill="#000"/>
<rect x="1389.5" y="286.8" width="2.5" height="9.0" fill="#000"/>
<rect x="2407.0" y="286.8" width="3.0" height="9.0" fill="#000"/>
<rect x="1383.0" y="342.0" width="9.0" height="9.0" fill="#000"/>
<rect x="2400.0" y="342.0" width="10.0" height="9.0" fill="#000"/>
<rect x="1389.5" y="397.2" width="2.5" height="9.0" fill="#000"/>
<rect x="2407.0" y="397.2" width="3.0" height="9.0" fill="#000"/>
<rect x="1383.0" y="452.5" width="9.0" height="9.0" fill="#000"/>
<rect x="2400.0" y="452.5" width="10.0" height="9.0" fill="#000"/>
<rect x="1389.5" y="507.7" width="2.5" height="9.0" fill="#000"/>
<rect x="2407.0" y="507.7" width="3.0" height="9.0" fill="#000"/>
<rect x="1383.0" y="563.0" width="9.0" height="9.0" fill="#000"/>
<rect x="2400.0" y="563.0" width="10.0" height="9.0" fill="#000"/>
<rect x="1389.5" y="618.3" width="2.5" height="9.0" fill="#000"/>
<rect x="2407.0" y="618.3" width="3.0" height="9.0" fill="#000"/>
<rect x="1383.0" y="673.5" width="9.0" height="9.0" fill="#000"/>
<rect x="2400.0" y="673.5" width="10.0" height="9.0" fill="#000"/>
<rect x="1470.7" y="739.0" width="10.0" height="2.0" fill="#000"/>
<rect x="1470.7" y="75.0" width="10.0" height="2.0" fill="#000"/>
<rect x="1549.0" y="739.0" width="10.0" height="8.0" fill="#000"/>
<rect x="1549.0" y="75.0" width="10.0" height="8.0" fill="#000"/>
<rect x="1627.3" y="739.0" width="10.0" height="2.0" fill="#000"/>
<rect x="1627.3" y="75.0" width="10.0" height="2.0" fill="#000"/>
<rect x="1705.6" y="739.0" width="10.0" height="8.0" fill="#000"/>
<rect x="1705.6" y="75.0" width="10.0" height="8.0" fill="#000"/>
<rect x="1783.9" y="739.0" width="10.0" height="2.0" fill="#000"/>
<rect x="1783.9" y="75.0" width="10.0" height="2.0" fill="#000"/>
<rect x="1862.2" y="739.0" width="10.0" height="8.0" fill="#000"/>
<rect x="1862.2" y="75.0" width="10.0" height="8.0" fill="#000"/>
<rect x="1940.5" y="739.0" width="10.0" height="2.0" fill="#000"/>
<rect x="1940.5" y="75.0" width="10.0" height="2.0" fill="#000"/>
<rect x="2018.8" y="739.0" width="10.0" height="8.0" fill="#000"/>
<rect x="2018.8" y="75.0" width="10.0" height="8.0" fill="#000"/>
<rect x="2097.1" y="739.0" width="10.0" height="2.0" fill="#000"/>
<rect x="2097.1" y="75.0" width="10.0" height="2.0" fill="#000"/>
<rect x="2175.4" y="739.0" width="10.0" height="8.0" fill="#000"/>
<rect x="2175.4" y="75.0" width="10.0" height="8.0" fill="#000"/>
<rect x="2253.7" y="739.0" width="10.0" height="2.0" fill="#000"/>
<rect x="2253.7" y="75.0" width="10.0" height="2.0" fill="#000"/>
<rect x="2332.0" y="739.0" width="10.0" height="8.0" fill="#000"/>
<rect x="2332.0" y="75.0" width="10.0" height="8.0" fill="#000"/>
<g clip-path="url(#ci)">
<path d="M1373.9,139.8L1381.7,139.8L1389.6,139.8L1397.4,139.8L1405.2,139.8L1413.1,140.1L1420.9,140.5L1428.7,141.1L1436.5,145.3L1444.4,149.5L1452.2,153.7L1460.0,157.8L1467.9,161.8L1475.7,164.1L1483.5,173.0L1491.4,178.7L1499.2,183.9L1507.0,188.5L1514.8,193.1L1522.7,197.6L1530.5,202.6L1538.3,208.2L1546.2,211.9L1554.0,214.2L1561.8,217.2L1569.7,220.7L1577.5,222.2L1585.3,222.2L1593.2,222.8L1601.0,224.0L1608.8,224.5L1616.6,224.4L1624.5,224.3L1632.3,228.9L1640.1,234.1L1648.0,242.8L1655.8,245.6L1663.6,251.5L1671.5,259.0L1679.3,257.9L1687.1,257.7L1694.9,258.3L1702.8,257.9L1710.6,256.8L1718.4,255.6L1726.3,255.2L1734.1,254.7L1741.9,255.7L1749.8,257.9L1757.6,257.2L1765.4,256.5L1773.2,259.0L1781.1,261.6L1788.9,263.4L1796.7,264.7L1804.6,267.2L1812.4,270.4L1820.2,272.8L1828.0,274.7L1835.9,277.0L1843.7,279.3L1851.5,280.5L1859.4,281.8L1867.2,283.0L1875.0,284.2L1882.9,285.5L1890.7,286.8L1898.5,286.7L1906.3,277.2L1914.2,269.5L1922.0,284.2L1929.8,291.8L1937.7,292.5L1945.5,293.2L1953.3,315.5L1961.2,324.4L1969.0,327.4L1976.8,330.3L1984.7,331.7L1992.5,333.1L2000.3,334.4L2008.1,337.9L2016.0,342.3L2023.8,346.0L2031.6,349.6L2039.5,353.3L2047.3,357.9L2055.1,362.8L2062.9,369.0L2070.8,375.6L2078.6,382.3L2086.4,389.2L2094.3,396.6L2102.1,402.7L2109.9,410.0L2117.8,418.6L2125.6,426.6L2133.4,434.0L2141.2,440.0L2149.1,444.8L2156.9,449.8L2164.7,456.2L2172.6,463.4L2180.4,471.1L2188.2,466.0L2196.1,460.8L2203.9,461.2L2211.7,498.2L2219.6,503.1L2227.4,508.3L2235.2,530.5L2243.0,561.7L2250.9,558.0L2258.7,554.3L2266.5,552.1L2274.4,559.5L2282.2,567.2L2290.0,572.6L2297.8,577.4L2305.7,583.7L2313.5,590.6L2321.3,596.1L2329.2,600.6L2337.0,604.3L2344.8,608.2L2352.7,612.7L2360.5,617.1L2368.3,620.1L2376.2,623.0L2384.0,626.0L2391.8,629.0L2399.6,632.0L2407.5,633.3L2415.3,633.3L2423.1,633.3L2431.0,633.3L2438.8,633.3" fill="none" stroke="#000" stroke-width="3.5"/>
<path d="M1362.6,130.0h22.6v19.7h-22.6zM1370.4,130.0h22.6v19.7h-22.6zM1378.3,130.0h22.6v19.7h-22.6zM1386.1,130.0h22.6v19.7h-22.6zM1393.9,130.0h22.6v19.7h-22.6zM1401.8,130.2h22.6v19.7h-22.6zM1409.6,130.7h22.6v19.7h-22.6zM1417.4,131.3h22.6v19.7h-22.6zM1425.2,135.5h22.6v19.7h-22.6zM1433.1,139.6h22.6v19.7h-22.6zM1440.9,143.8h22.6v19.7h-22.6zM1448.7,147.9h22.6v19.7h-22.6zM1456.6,152.0h22.6v19.7h-22.6zM1464.4,154.3h22.6v19.7h-22.6zM1472.2,157.7h22.6v19.7h-22.6zM1480.1,162.0h22.6v19.7h-22.6zM1487.9,165.7h22.6v19.7h-22.6zM1495.7,168.8h22.6v19.7h-22.6zM1503.5,173.9h22.6v19.7h-22.6zM1511.4,180.9h22.6v19.7h-22.6zM1519.2,186.9h22.6v19.7h-22.6zM1527.0,192.2h22.6v19.7h-22.6zM1534.9,196.1h22.6v19.7h-22.6zM1542.7,199.0h22.6v19.7h-22.6zM1550.5,201.9h22.6v19.7h-22.6zM1558.4,204.8h22.6v19.7h-22.6zM1566.2,207.1h22.6v19.7h-22.6zM1574.0,208.8h22.6v19.7h-22.6zM1581.9,210.2h22.6v19.7h-22.6zM1589.7,211.3h22.6v19.7h-22.6zM1597.5,211.5h22.6v19.7h-22.6zM1605.3,210.9h22.6v19.7h-22.6zM1613.2,210.2h22.6v19.7h-22.6zM1621.0,215.3h22.6v19.7h-22.6zM1628.8,220.7h22.6v19.7h-22.6zM1636.7,228.5h22.6v19.7h-22.6zM1644.5,231.9h22.6v19.7h-22.6zM1652.3,236.6h22.6v19.7h-22.6zM1660.2,241.9h22.6v19.7h-22.6zM1668.0,243.5h22.6v19.7h-22.6zM1675.8,244.4h22.6v19.7h-22.6zM1683.6,245.0h22.6v19.7h-22.6zM1691.5,243.3h22.6v19.7h-22.6zM1699.3,239.6h22.6v19.7h-22.6zM1707.1,236.1h22.6v19.7h-22.6zM1715.0,238.9h22.6v19.7h-22.6zM1722.8,241.8h22.6v19.7h-22.6zM1730.6,243.8h22.6v19.7h-22.6zM1738.5,245.2h22.6v19.7h-22.6zM1746.3,243.2h22.6v19.7h-22.6zM1754.1,241.1h22.6v19.7h-22.6zM1761.9,242.8h22.6v19.7h-22.6zM1769.8,244.6h22.6v19.7h-22.6zM1777.6,246.6h22.6v19.7h-22.6zM1785.4,248.6h22.6v19.7h-22.6zM1793.3,252.0h22.6v19.7h-22.6zM1801.1,256.1h22.6v19.7h-22.6zM1808.9,259.2h22.6v19.7h-22.6zM1816.8,261.5h22.6v19.7h-22.6zM1824.6,263.8h22.6v19.7h-22.6zM1832.4,266.1h22.6v19.7h-22.6zM1840.2,267.8h22.6v19.7h-22.6zM1848.1,269.4h22.6v19.7h-22.6zM1855.9,271.1h22.6v19.7h-22.6zM1863.7,271.1h22.6v19.7h-22.6zM1871.6,271.1h22.6v19.7h-22.6zM1879.4,271.1h22.6v19.7h-22.6zM1887.2,270.7h22.6v19.7h-22.6zM1895.0,264.3h22.6v19.7h-22.6zM1902.9,259.6h22.6v19.7h-22.6zM1910.7,274.2h22.6v19.7h-22.6zM1918.5,281.6h22.6v19.7h-22.6zM1926.4,282.2h22.6v19.7h-22.6zM1934.2,282.8h22.6v19.7h-22.6zM1942.0,305.2h22.6v19.7h-22.6zM1949.9,305.4h22.6v19.7h-22.6zM1957.7,307.0h22.6v19.7h-22.6zM1965.5,308.6h22.6v19.7h-22.6zM1973.4,310.9h22.6v19.7h-22.6zM1981.2,313.2h22.6v19.7h-22.6zM1989.0,315.6h22.6v19.7h-22.6zM1996.8,318.4h22.6v19.7h-22.6zM2004.7,321.4h22.6v19.7h-22.6zM2012.5,327.9h22.6v19.7h-22.6zM2020.3,332.1h22.6v19.7h-22.6zM2028.2,335.5h22.6v19.7h-22.6zM2036.0,341.1h22.6v19.7h-22.6zM2043.8,347.3h22.6v19.7h-22.6zM2051.6,357.4h22.6v19.7h-22.6zM2059.5,365.6h22.6v19.7h-22.6zM2067.3,372.3h22.6v19.7h-22.6zM2075.1,379.3h22.6v19.7h-22.6zM2083.0,386.8h22.6v19.7h-22.6zM2090.8,392.8h22.6v19.7h-22.6zM2098.6,400.2h22.6v19.7h-22.6zM2106.5,408.8h22.6v19.7h-22.6zM2114.3,416.7h22.6v19.7h-22.6zM2122.1,424.2h22.6v19.7h-22.6zM2129.9,430.1h22.6v19.7h-22.6zM2137.8,434.9h22.6v19.7h-22.6zM2145.6,439.7h22.6v19.7h-22.6zM2153.4,444.5h22.6v19.7h-22.6zM2161.3,450.4h22.6v19.7h-22.6zM2169.1,456.9h22.6v19.7h-22.6zM2176.9,453.4h22.6v19.7h-22.6zM2184.8,449.9h22.6v19.7h-22.6zM2192.6,451.4h22.6v19.7h-22.6zM2200.4,488.4h22.6v19.7h-22.6zM2208.2,493.3h22.6v19.7h-22.6zM2216.1,496.9h22.6v19.7h-22.6zM2223.9,518.9h22.6v19.7h-22.6zM2231.7,551.8h22.6v19.7h-22.6zM2239.6,548.1h22.6v19.7h-22.6zM2247.4,544.5h22.6v19.7h-22.6zM2255.2,542.2h22.6v19.7h-22.6zM2263.1,549.1h22.6v19.7h-22.6zM2270.9,556.0h22.6v19.7h-22.6zM2278.7,561.3h22.6v19.7h-22.6zM2286.5,566.1h22.6v19.7h-22.6zM2294.4,573.0h22.6v19.7h-22.6zM2302.2,580.7h22.6v19.7h-22.6zM2310.0,586.2h22.6v19.7h-22.6zM2317.9,590.7h22.6v19.7h-22.6zM2325.7,594.5h22.6v19.7h-22.6zM2333.5,597.9h22.6v19.7h-22.6zM2341.4,602.2h22.6v19.7h-22.6zM2349.2,606.6h22.6v19.7h-22.6zM2357.0,609.6h22.6v19.7h-22.6zM2364.8,612.5h22.6v19.7h-22.6zM2372.7,615.4h22.6v19.7h-22.6zM2380.5,618.2h22.6v19.7h-22.6zM2388.3,621.0h22.6v19.7h-22.6zM2396.2,622.2h22.6v19.7h-22.6zM2404.0,622.2h22.6v19.7h-22.6zM2411.8,622.2h22.6v19.7h-22.6zM2419.7,622.2h22.6v19.7h-22.6zM2427.5,622.2h22.6v19.7h-22.6zM1362.6,130.0h22.6v19.7h-22.6zM1370.4,130.0h22.6v19.7h-22.6zM1378.3,130.0h22.6v19.7h-22.6zM1386.1,130.0h22.6v19.7h-22.6zM1393.9,130.0h22.6v19.7h-22.6zM1401.8,130.2h22.6v19.7h-22.6zM1409.6,130.7h22.6v19.7h-22.6zM1417.4,131.3h22.6v19.7h-22.6zM1425.2,135.5h22.6v19.7h-22.6zM1433.1,139.6h22.6v19.7h-22.6zM1440.9,143.8h22.6v19.7h-22.6zM1448.7,147.9h22.6v19.7h-22.6zM1456.6,152.0h22.6v19.7h-22.6zM1464.4,154.3h22.6v19.7h-22.6zM1472.2,168.5h22.6v19.7h-22.6zM1480.1,175.8h22.6v19.7h-22.6zM1487.9,182.5h22.6v19.7h-22.6zM1495.7,188.5h22.6v19.7h-22.6zM1503.5,192.5h22.6v19.7h-22.6zM1511.4,194.6h22.6v19.7h-22.6zM1519.2,198.6h22.6v19.7h-22.6zM1527.0,204.5h22.6v19.7h-22.6zM1534.9,208.1h22.6v19.7h-22.6zM1542.7,209.8h22.6v19.7h-22.6zM1550.5,212.8h22.6v19.7h-22.6zM1558.4,216.9h22.6v19.7h-22.6zM1566.2,217.7h22.6v19.7h-22.6zM1574.0,215.9h22.6v19.7h-22.6zM1581.9,215.8h22.6v19.7h-22.6zM1589.7,216.9h22.6v19.7h-22.6zM1597.5,217.7h22.6v19.7h-22.6zM1605.3,218.2h22.6v19.7h-22.6zM1613.2,218.7h22.6v19.7h-22.6zM1621.0,222.9h22.6v19.7h-22.6zM1628.8,227.7h22.6v19.7h-22.6zM1636.7,237.4h22.6v19.7h-22.6zM1644.5,239.6h22.6v19.7h-22.6zM1652.3,246.8h22.6v19.7h-22.6zM1660.2,256.5h22.6v19.7h-22.6zM1668.0,252.5h22.6v19.7h-22.6zM1675.8,251.3h22.6v19.7h-22.6zM1683.6,251.8h22.6v19.7h-22.6zM1691.5,252.8h22.6v19.7h-22.6zM1699.3,254.2h22.6v19.7h-22.6zM1707.1,255.5h22.6v19.7h-22.6zM1715.0,251.7h22.6v19.7h-22.6zM1722.8,247.9h22.6v19.7h-22.6zM1730.6,248.0h22.6v19.7h-22.6zM1738.5,250.8h22.6v19.7h-22.6zM1746.3,251.5h22.6v19.7h-22.6zM1754.1,252.1h22.6v19.7h-22.6zM1761.9,255.4h22.6v19.7h-22.6zM1769.8,258.9h22.6v19.7h-22.6zM1777.6,260.5h22.6v19.7h-22.6zM1785.4,261.1h22.6v19.7h-22.6zM1793.3,262.7h22.6v19.7h-22.6zM1801.1,264.9h22.6v19.7h-22.6zM1808.9,266.8h22.6v19.7h-22.6zM1816.8,268.3h22.6v19.7h-22.6zM1824.6,270.6h22.6v19.7h-22.6zM1832.4,272.9h22.6v19.7h-22.6zM1840.2,273.6h22.6v19.7h-22.6zM1848.1,274.4h22.6v19.7h-22.6zM1855.9,275.2h22.6v19.7h-22.6zM1863.7,277.7h22.6v19.7h-22.6zM1871.6,280.2h22.6v19.7h-22.6zM1879.4,282.7h22.6v19.7h-22.6zM1887.2,283.1h22.6v19.7h-22.6zM1895.0,270.3h22.6v19.7h-22.6zM1902.9,259.7h22.6v19.7h-22.6zM1910.7,274.6h22.6v19.7h-22.6zM1918.5,282.3h22.6v19.7h-22.6zM1926.4,283.1h22.6v19.7h-22.6zM1934.2,283.9h22.6v19.7h-22.6zM1942.0,306.2h22.6v19.7h-22.6zM1949.9,323.7h22.6v19.7h-22.6zM1957.7,328.2h22.6v19.7h-22.6zM1965.5,332.4h22.6v19.7h-22.6zM1973.4,332.8h22.6v19.7h-22.6zM1981.2,333.2h22.6v19.7h-22.6zM1989.0,333.5h22.6v19.7h-22.6zM1996.8,337.7h22.6v19.7h-22.6zM2004.7,343.5h22.6v19.7h-22.6zM2012.5,344.4h22.6v19.7h-22.6zM2020.3,347.4h22.6v19.7h-22.6zM2028.2,351.3h22.6v19.7h-22.6zM2036.0,355.1h22.6v19.7h-22.6zM2043.8,358.6h22.6v19.7h-22.6zM2051.6,361.0h22.6v19.7h-22.6zM2059.5,365.8h22.6v19.7h-22.6zM2067.3,372.7h22.6v19.7h-22.6zM2075.1,379.4h22.6v19.7h-22.6zM2083.0,386.8h22.6v19.7h-22.6zM2090.8,392.8h22.6v19.7h-22.6zM2098.6,400.2h22.6v19.7h-22.6zM2106.5,408.8h22.6v19.7h-22.6zM2114.3,416.7h22.6v19.7h-22.6zM2122.1,424.2h22.6v19.7h-22.6zM2129.9,430.1h22.6v19.7h-22.6zM2137.8,434.9h22.6v19.7h-22.6zM2145.6,440.2h22.6v19.7h-22.6zM2153.4,448.2h22.6v19.7h-22.6zM2161.3,456.7h22.6v19.7h-22.6zM2169.1,465.6h22.6v19.7h-22.6zM2176.9,458.9h22.6v19.7h-22.6zM2184.8,452.1h22.6v19.7h-22.6zM2192.6,451.4h22.6v19.7h-22.6zM2200.4,488.4h22.6v19.7h-22.6zM2208.2,493.3h22.6v19.7h-22.6zM2216.1,500.0h22.6v19.7h-22.6zM2223.9,522.3h22.6v19.7h-22.6zM2231.7,551.8h22.6v19.7h-22.6zM2239.6,548.1h22.6v19.7h-22.6zM2247.4,544.5h22.6v19.7h-22.6zM2255.2,542.2h22.6v19.7h-22.6zM2263.1,550.3h22.6v19.7h-22.6zM2270.9,558.6h22.6v19.7h-22.6zM2278.7,564.3h22.6v19.7h-22.6zM2286.5,569.1h22.6v19.7h-22.6zM2294.4,574.8h22.6v19.7h-22.6zM2302.2,580.8h22.6v19.7h-22.6zM2310.0,586.2h22.6v19.7h-22.6zM2317.9,590.7h22.6v19.7h-22.6zM2325.7,594.5h22.6v19.7h-22.6zM2333.5,598.9h22.6v19.7h-22.6zM2341.4,603.5h22.6v19.7h-22.6zM2349.2,607.9h22.6v19.7h-22.6zM2357.0,610.8h22.6v19.7h-22.6zM2364.8,613.8h22.6v19.7h-22.6zM2372.7,616.9h22.6v19.7h-22.6zM2380.5,620.1h22.6v19.7h-22.6zM2388.3,623.3h22.6v19.7h-22.6zM2396.2,624.7h22.6v19.7h-22.6zM2404.0,624.7h22.6v19.7h-22.6zM2411.8,624.7h22.6v19.7h-22.6zM2419.7,624.7h22.6v19.7h-22.6zM2427.5,624.7h22.6v19.7h-22.6z" fill="#000"/>
<path d="M1373.9,151.0L1381.7,156.2L1389.6,161.4L1397.4,166.6L1405.2,171.8L1413.1,176.9L1420.9,182.0L1428.7,187.0L1436.5,192.0L1444.4,197.0L1452.2,202.0L1460.0,207.0L1467.9,211.9L1475.7,216.7L1483.5,221.6L1491.4,226.4L1499.2,231.2L1507.0,236.0L1514.8,240.7L1522.7,245.5L1530.5,250.2L1538.3,254.8L1546.2,259.5L1554.0,264.1L1561.8,268.7L1569.7,273.3L1577.5,277.8L1585.3,282.3L1593.2,286.8L1601.0,291.3L1608.8,295.8L1616.6,300.2L1624.5,304.6L1632.3,309.0L1640.1,313.4L1648.0,317.7L1655.8,322.0L1663.6,326.4L1671.5,330.6L1679.3,334.9L1687.1,339.2L1694.9,343.4L1702.8,347.6L1710.6,351.7L1718.4,355.7L1726.3,359.8L1734.1,363.8L1741.9,367.8L1749.8,371.8L1757.6,375.8L1765.4,379.8L1773.2,383.8L1781.1,387.7L1788.9,391.6L1796.7,395.5L1804.6,399.4L1812.4,403.3L1820.2,407.2L1828.0,411.0L1835.9,414.9L1843.7,418.7L1851.5,422.5L1859.4,426.3L1867.2,430.1L1875.0,433.9L1882.9,437.7L1890.7,441.5L1898.5,445.2L1906.3,449.0L1914.2,452.7L1922.0,456.4L1929.8,460.1L1937.7,463.8L1945.5,467.5L1953.3,471.2L1961.2,474.9L1969.0,478.6L1976.8,482.3L1984.7,485.9L1992.5,489.6L2000.3,493.2L2008.1,496.9L2016.0,500.5L2023.8,504.2L2031.6,507.8L2039.5,511.4L2047.3,515.0L2055.1,518.6L2062.9,522.3L2070.8,525.9L2078.6,529.5L2086.4,533.1L2094.3,536.7L2102.1,540.3L2109.9,543.9L2117.8,547.5L2125.6,551.1L2133.4,554.7L2141.2,558.3L2149.1,561.9L2156.9,565.5L2164.7,569.1L2172.6,572.7L2180.4,576.3L2188.2,579.9L2196.1,583.6L2203.9,587.2L2211.7,590.8L2219.6,594.4L2227.4,598.0L2235.2,601.7L2243.0,605.3L2250.9,608.9L2258.7,612.6L2266.5,616.2L2274.4,619.9L2282.2,623.5L2290.0,627.2L2297.8,630.9L2305.7,634.5L2313.5,638.2L2321.3,641.9L2329.2,645.6L2337.0,649.3L2344.8,653.1L2352.7,656.8L2360.5,660.5L2368.3,664.3L2376.2,668.0L2384.0,671.8L2391.8,675.6L2399.6,679.4L2407.5,683.2L2415.3,687.0L2423.1,690.8L2431.0,694.6L2438.8,698.5" fill="none" stroke="#f00" stroke-width="3"/>
<path d="M1361.6,151.0a12.3,11.4 0 1,0 24.6,0a12.3,11.4 0 1,0 -24.6,0zM1369.4,156.2a12.3,11.4 0 1,0 24.6,0a12.3,11.4 0 1,0 -24.6,0zM1377.3,161.4a12.3,11.4 0 1,0 24.6,0a12.3,11.4 0 1,0 -24.6,0zM1385.1,166.6a12.3,11.4 0 1,0 24.6,0a12.3,11.4 0 1,0 -24.6,0zM1392.9,171.8a12.3,11.4 0 1,0 24.6,0a12.3,11.4 0 1,0 -24.6,0zM1400.8,176.9a12.3,11.4 0 1,0 24.6,0a12.3,11.4 0 1,0 -24.6,0zM1408.6,182.0a12.3,11.4 0 1,0 24.6,0a12.3,11.4 0 1,0 -24.6,0zM1416.4,187.0a12.3,11.4 0 1,0 24.6,0a12.3,11.4 0 1,0 -24.6,0zM1424.2,192.0a12.3,11.4 0 1,0 24.6,0a12.3,11.4 0 1,0 -24.6,0zM1432.1,197.0a12.3,11.4 0 1,0 24.6,0a12.3,11.4 0 1,0 -24.6,0zM1439.9,202.0a12.3,11.4 0 1,0 24.6,0a12.3,11.4 0 1,0 -24.6,0zM1447.7,207.0a12.3,11.4 0 1,0 24.6,0a12.3,11.4 0 1,0 -24.6,0zM1455.6,211.9a12.3,11.4 0 1,0 24.6,0a12.3,11.4 0 1,0 -24.6,0zM1463.4,216.7a12.3,11.4 0 1,0 24.6,0a12.3,11.4 0 1,0 -24.6,0zM1471.2,221.6a12.3,11.4 0 1,0 24.6,0a12.3,11.4 0 1,0 -24.6,0zM1479.1,226.4a12.3,11.4 0 1,0 24.6,0a12.3,11.4 0 1,0 -24.6,0zM1486.9,231.2a12.3,11.4 0 1,0 24.6,0a12.3,11.4 0 1,0 -24.6,0zM1494.7,236.0a12.3,11.4 0 1,0 24.6,0a12.3,11.4 0 1,0 -24.6,0zM1502.5,240.7a12.3,11.4 0 1,0 24.6,0a12.3,11.4 0 1,0 -24.6,0zM1510.4,245.5a12.3,11.4 0 1,0 24.6,0a12.3,11.4 0 1,0 -24.6,0zM1518.2,250.2a12.3,11.4 0 1,0 24.6,0a12.3,11.4 0 1,0 -24.6,0zM1526.0,254.8a12.3,11.4 0 1,0 24.6,0a12.3,11.4 0 1,0 -24.6,0zM1533.9,259.5a12.3,11.4 0 1,0 24.6,0a12.3,11.4 0 1,0 -24.6,0zM1541.7,264.1a12.3,11.4 0 1,0 24.6,0a12.3,11.4 0 1,0 -24.6,0zM1549.5,268.7a12.3,11.4 0 1,0 24.6,0a12.3,11.4 0 1,0 -24.6,0zM1557.4,273.3a12.3,11.4 0 1,0 24.6,0a12.3,11.4 0 1,0 -24.6,0zM1565.2,277.8a12.3,11.4 0 1,0 24.6,0a12.3,11.4 0 1,0 -24.6,0zM1573.0,282.3a12.3,11.4 0 1,0 24.6,0a12.3,11.4 0 1,0 -24.6,0zM1580.9,286.8a12.3,11.4 0 1,0 24.6,0a12.3,11.4 0 1,0 -24.6,0zM1588.7,291.3a12.3,11.4 0 1,0 24.6,0a12.3,11.4 0 1,0 -24.6,0zM1596.5,295.8a12.3,11.4 0 1,0 24.6,0a12.3,11.4 0 1,0 -24.6,0zM1604.3,300.2a12.3,11.4 0 1,0 24.6,0a12.3,11.4 0 1,0 -24.6,0zM1612.2,304.6a12.3,11.4 0 1,0 24.6,0a12.3,11.4 0 1,0 -24.6,0zM1620.0,309.0a12.3,11.4 0 1,0 24.6,0a12.3,11.4 0 1,0 -24.6,0zM1627.8,313.4a12.3,11.4 0 1,0 24.6,0a12.3,11.4 0 1,0 -24.6,0zM1635.7,317.7a12.3,11.4 0 1,0 24.6,0a12.3,11.4 0 1,0 -24.6,0zM1643.5,322.0a12.3,11.4 0 1,0 24.6,0a12.3,11.4 0 1,0 -24.6,0zM1651.3,326.4a12.3,11.4 0 1,0 24.6,0a12.3,11.4 0 1,0 -24.6,0zM1659.2,330.6a12.3,11.4 0 1,0 24.6,0a12.3,11.4 0 1,0 -24.6,0zM1667.0,334.9a12.3,11.4 0 1,0 24.6,0a12.3,11.4 0 1,0 -24.6,0zM1674.8,339.2a12.3,11.4 0 1,0 24.6,0a12.3,11.4 0 1,0 -24.6,0zM1682.6,343.4a12.3,11.4 0 1,0 24.6,0a12.3,11.4 0 1,0 -24.6,0zM1690.5,347.6a12.3,11.4 0 1,0 24.6,0a12.3,11.4 0 1,0 -24.6,0zM1698.3,351.7a12.3,11.4 0 1,0 24.6,0a12.3,11.4 0 1,0 -24.6,0zM1706.1,355.7a12.3,11.4 0 1,0 24.6,0a12.3,11.4 0 1,0 -24.6,0zM1714.0,359.8a12.3,11.4 0 1,0 24.6,0a12.3,11.4 0 1,0 -24.6,0zM1721.8,363.8a12.3,11.4 0 1,0 24.6,0a12.3,11.4 0 1,0 -24.6,0zM1729.6,367.8a12.3,11.4 0 1,0 24.6,0a12.3,11.4 0 1,0 -24.6,0zM1737.5,371.8a12.3,11.4 0 1,0 24.6,0a12.3,11.4 0 1,0 -24.6,0zM1745.3,375.8a12.3,11.4 0 1,0 24.6,0a12.3,11.4 0 1,0 -24.6,0zM1753.1,379.8a12.3,11.4 0 1,0 24.6,0a12.3,11.4 0 1,0 -24.6,0zM1760.9,383.8a12.3,11.4 0 1,0 24.6,0a12.3,11.4 0 1,0 -24.6,0zM1768.8,387.7a12.3,11.4 0 1,0 24.6,0a12.3,11.4 0 1,0 -24.6,0zM1776.6,391.6a12.3,11.4 0 1,0 24.6,0a12.3,11.4 0 1,0 -24.6,0zM1784.4,395.5a12.3,11.4 0 1,0 24.6,0a12.3,11.4 0 1,0 -24.6,0zM1792.3,399.4a12.3,11.4 0 1,0 24.6,0a12.3,11.4 0 1,0 -24.6,0zM1800.1,403.3a12.3,11.4 0 1,0 24.6,0a12.3,11.4 0 1,0 -24.6,0zM1807.9,407.2a12.3,11.4 0 1,0 24.6,0a12.3,11.4 0 1,0 -24.6,0zM1815.8,411.0a12.3,11.4 0 1,0 24.6,0a12.3,11.4 0 1,0 -24.6,0zM1823.6,414.9a12.3,11.4 0 1,0 24.6,0a12.3,11.4 0 1,0 -24.6,0zM1831.4,418.7a12.3,11.4 0 1,0 24.6,0a12.3,11.4 0 1,0 -24.6,0zM1839.2,422.5a12.3,11.4 0 1,0 24.6,0a12.3,11.4 0 1,0 -24.6,0zM1847.1,426.3a12.3,11.4 0 1,0 24.6,0a12.3,11.4 0 1,0 -24.6,0zM1854.9,430.1a12.3,11.4 0 1,0 24.6,0a12.3,11.4 0 1,0 -24.6,0zM1862.7,433.9a12.3,11.4 0 1,0 24.6,0a12.3,11.4 0 1,0 -24.6,0zM1870.6,437.7a12.3,11.4 0 1,0 24.6,0a12.3,11.4 0 1,0 -24.6,0zM1878.4,441.5a12.3,11.4 0 1,0 24.6,0a12.3,11.4 0 1,0 -24.6,0zM1886.2,445.2a12.3,11.4 0 1,0 24.6,0a12.3,11.4 0 1,0 -24.6,0zM1894.0,449.0a12.3,11.4 0 1,0 24.6,0a12.3,11.4 0 1,0 -24.6,0zM1901.9,452.7a12.3,11.4 0 1,0 24.6,0a12.3,11.4 0 1,0 -24.6,0zM1909.7,456.4a12.3,11.4 0 1,0 24.6,0a12.3,11.4 0 1,0 -24.6,0zM1917.5,460.1a12.3,11.4 0 1,0 24.6,0a12.3,11.4 0 1,0 -24.6,0zM1925.4,463.8a12.3,11.4 0 1,0 24.6,0a12.3,11.4 0 1,0 -24.6,0zM1933.2,467.5a12.3,11.4 0 1,0 24.6,0a12.3,11.4 0 1,0 -24.6,0zM1941.0,471.2a12.3,11.4 0 1,0 24.6,0a12.3,11.4 0 1,0 -24.6,0zM1948.9,474.9a12.3,11.4 0 1,0 24.6,0a12.3,11.4 0 1,0 -24.6,0zM1956.7,478.6a12.3,11.4 0 1,0 24.6,0a12.3,11.4 0 1,0 -24.6,0zM1964.5,482.3a12.3,11.4 0 1,0 24.6,0a12.3,11.4 0 1,0 -24.6,0zM1972.4,485.9a12.3,11.4 0 1,0 24.6,0a12.3,11.4 0 1,0 -24.6,0zM1980.2,489.6a12.3,11.4 0 1,0 24.6,0a12.3,11.4 0 1,0 -24.6,0zM1988.0,493.2a12.3,11.4 0 1,0 24.6,0a12.3,11.4 0 1,0 -24.6,0zM1995.8,496.9a12.3,11.4 0 1,0 24.6,0a12.3,11.4 0 1,0 -24.6,0zM2003.7,500.5a12.3,11.4 0 1,0 24.6,0a12.3,11.4 0 1,0 -24.6,0zM2011.5,504.2a12.3,11.4 0 1,0 24.6,0a12.3,11.4 0 1,0 -24.6,0zM2019.3,507.8a12.3,11.4 0 1,0 24.6,0a12.3,11.4 0 1,0 -24.6,0zM2027.2,511.4a12.3,11.4 0 1,0 24.6,0a12.3,11.4 0 1,0 -24.6,0zM2035.0,515.0a12.3,11.4 0 1,0 24.6,0a12.3,11.4 0 1,0 -24.6,0zM2042.8,518.6a12.3,11.4 0 1,0 24.6,0a12.3,11.4 0 1,0 -24.6,0zM2050.6,522.3a12.3,11.4 0 1,0 24.6,0a12.3,11.4 0 1,0 -24.6,0zM2058.5,525.9a12.3,11.4 0 1,0 24.6,0a12.3,11.4 0 1,0 -24.6,0zM2066.3,529.5a12.3,11.4 0 1,0 24.6,0a12.3,11.4 0 1,0 -24.6,0zM2074.1,533.1a12.3,11.4 0 1,0 24.6,0a12.3,11.4 0 1,0 -24.6,0zM2082.0,536.7a12.3,11.4 0 1,0 24.6,0a12.3,11.4 0 1,0 -24.6,0zM2089.8,540.3a12.3,11.4 0 1,0 24.6,0a12.3,11.4 0 1,0 -24.6,0zM2097.6,543.9a12.3,11.4 0 1,0 24.6,0a12.3,11.4 0 1,0 -24.6,0zM2105.5,547.5a12.3,11.4 0 1,0 24.6,0a12.3,11.4 0 1,0 -24.6,0zM2113.3,551.1a12.3,11.4 0 1,0 24.6,0a12.3,11.4 0 1,0 -24.6,0zM2121.1,554.7a12.3,11.4 0 1,0 24.6,0a12.3,11.4 0 1,0 -24.6,0zM2128.9,558.3a12.3,11.4 0 1,0 24.6,0a12.3,11.4 0 1,0 -24.6,0zM2136.8,561.9a12.3,11.4 0 1,0 24.6,0a12.3,11.4 0 1,0 -24.6,0zM2144.6,565.5a12.3,11.4 0 1,0 24.6,0a12.3,11.4 0 1,0 -24.6,0zM2152.4,569.1a12.3,11.4 0 1,0 24.6,0a12.3,11.4 0 1,0 -24.6,0zM2160.3,572.7a12.3,11.4 0 1,0 24.6,0a12.3,11.4 0 1,0 -24.6,0zM2168.1,576.3a12.3,11.4 0 1,0 24.6,0a12.3,11.4 0 1,0 -24.6,0zM2175.9,579.9a12.3,11.4 0 1,0 24.6,0a12.3,11.4 0 1,0 -24.6,0zM2183.8,583.6a12.3,11.4 0 1,0 24.6,0a12.3,11.4 0 1,0 -24.6,0zM2191.6,587.2a12.3,11.4 0 1,0 24.6,0a12.3,11.4 0 1,0 -24.6,0zM2199.4,590.8a12.3,11.4 0 1,0 24.6,0a12.3,11.4 0 1,0 -24.6,0zM2207.2,594.4a12.3,11.4 0 1,0 24.6,0a12.3,11.4 0 1,0 -24.6,0zM2215.1,598.0a12.3,11.4 0 1,0 24.6,0a12.3,11.4 0 1,0 -24.6,0zM2222.9,601.7a12.3,11.4 0 1,0 24.6,0a12.3,11.4 0 1,0 -24.6,0zM2230.7,605.3a12.3,11.4 0 1,0 24.6,0a12.3,11.4 0 1,0 -24.6,0zM2238.6,608.9a12.3,11.4 0 1,0 24.6,0a12.3,11.4 0 1,0 -24.6,0zM2246.4,612.6a12.3,11.4 0 1,0 24.6,0a12.3,11.4 0 1,0 -24.6,0zM2254.2,616.2a12.3,11.4 0 1,0 24.6,0a12.3,11.4 0 1,0 -24.6,0zM2262.1,619.9a12.3,11.4 0 1,0 24.6,0a12.3,11.4 0 1,0 -24.6,0zM2269.9,623.5a12.3,11.4 0 1,0 24.6,0a12.3,11.4 0 1,0 -24.6,0zM2277.7,627.2a12.3,11.4 0 1,0 24.6,0a12.3,11.4 0 1,0 -24.6,0zM2285.5,630.9a12.3,11.4 0 1,0 24.6,0a12.3,11.4 0 1,0 -24.6,0zM2293.4,634.5a12.3,11.4 0 1,0 24.6,0a12.3,11.4 0 1,0 -24.6,0zM2301.2,638.2a12.3,11.4 0 1,0 24.6,0a12.3,11.4 0 1,0 -24.6,0zM2309.0,641.9a12.3,11.4 0 1,0 24.6,0a12.3,11.4 0 1,0 -24.6,0zM2316.9,645.6a12.3,11.4 0 1,0 24.6,0a12.3,11.4 0 1,0 -24.6,0zM2324.7,649.3a12.3,11.4 0 1,0 24.6,0a12.3,11.4 0 1,0 -24.6,0zM2332.5,653.1a12.3,11.4 0 1,0 24.6,0a12.3,11.4 0 1,0 -24.6,0zM2340.4,656.8a12.3,11.4 0 1,0 24.6,0a12.3,11.4 0 1,0 -24.6,0zM2348.2,660.5a12.3,11.4 0 1,0 24.6,0a12.3,11.4 0 1,0 -24.6,0zM2356.0,664.3a12.3,11.4 0 1,0 24.6,0a12.3,11.4 0 1,0 -24.6,0zM2363.8,668.0a12.3,11.4 0 1,0 24.6,0a12.3,11.4 0 1,0 -24.6,0zM2371.7,671.8a12.3,11.4 0 1,0 24.6,0a12.3,11.4 0 1,0 -24.6,0zM2379.5,675.6a12.3,11.4 0 1,0 24.6,0a12.3,11.4 0 1,0 -24.6,0zM2387.3,679.4a12.3,11.4 0 1,0 24.6,0a12.3,11.4 0 1,0 -24.6,0zM2395.2,683.2a12.3,11.4 0 1,0 24.6,0a12.3,11.4 0 1,0 -24.6,0zM2403.0,687.0a12.3,11.4 0 1,0 24.6,0a12.3,11.4 0 1,0 -24.6,0zM2410.8,690.8a12.3,11.4 0 1,0 24.6,0a12.3,11.4 0 1,0 -24.6,0zM2418.7,694.6a12.3,11.4 0 1,0 24.6,0a12.3,11.4 0 1,0 -24.6,0zM2426.5,698.5a12.3,11.4 0 1,0 24.6,0a12.3,11.4 0 1,0 -24.6,0z" fill="#f00"/>
<path d="M1373.9,140.4L1381.7,145.5L1389.6,150.6L1397.4,155.7L1405.2,160.7L1413.1,165.7L1420.9,170.7L1428.7,175.7L1436.5,180.6L1444.4,185.5L1452.2,190.3L1460.0,195.2L1467.9,200.0L1475.7,204.8L1483.5,209.5L1491.4,214.2L1499.2,218.9L1507.0,223.6L1514.8,228.2L1522.7,232.9L1530.5,237.5L1538.3,242.0L1546.2,246.6L1554.0,251.1L1561.8,255.6L1569.7,260.0L1577.5,264.5L1585.3,268.9L1593.2,273.3L1601.0,277.7L1608.8,282.0L1616.6,286.3L1624.5,290.6L1632.3,294.9L1640.1,299.2L1648.0,303.4L1655.8,307.7L1663.6,311.9L1671.5,316.1L1679.3,320.2L1687.1,324.4L1694.9,328.5L1702.8,332.6L1710.6,336.7L1718.4,340.8L1726.3,344.8L1734.1,348.8L1741.9,352.9L1749.8,356.9L1757.6,360.9L1765.4,364.8L1773.2,368.8L1781.1,372.7L1788.9,376.7L1796.7,380.6L1804.6,384.5L1812.4,388.3L1820.2,392.2L1828.0,396.1L1835.9,399.9L1843.7,403.7L1851.5,407.6L1859.4,411.4L1867.2,415.2L1875.0,419.0L1882.9,422.7L1890.7,426.5L1898.5,430.2L1906.3,434.0L1914.2,437.7L1922.0,441.4L1929.8,445.2L1937.7,448.9L1945.5,452.6L1953.3,456.3L1961.2,459.9L1969.0,463.6L1976.8,467.3L1984.7,471.0L1992.5,474.6L2000.3,478.3L2008.1,481.9L2016.0,485.5L2023.8,489.2L2031.6,492.8L2039.5,496.4L2047.3,500.1L2055.1,503.7L2062.9,507.3L2070.8,510.9L2078.6,514.5L2086.4,518.1L2094.3,521.7L2102.1,525.3L2109.9,528.9L2117.8,532.5L2125.6,536.1L2133.4,539.7L2141.2,543.3L2149.1,546.9L2156.9,550.5L2164.7,554.2L2172.6,557.8L2180.4,561.4L2188.2,565.0L2196.1,568.6L2203.9,572.2L2211.7,575.8L2219.6,579.4L2227.4,583.1L2235.2,586.7L2243.0,590.3L2250.9,594.0L2258.7,597.6L2266.5,601.2L2274.4,604.9L2282.2,608.6L2290.0,612.2L2297.8,615.9L2305.7,619.6L2313.5,623.3L2321.3,627.0L2329.2,630.7L2337.0,634.4L2344.8,638.1L2352.7,641.8L2360.5,645.6L2368.3,649.3L2376.2,653.1L2384.0,656.8L2391.8,660.6L2399.6,664.4L2407.5,668.2L2415.3,672.0L2423.1,675.8L2431.0,679.7L2438.8,683.5" fill="none" stroke="#00f" stroke-width="3"/>
<path d="M1373.91,125.03L1388.31,148.03L1359.51,148.03ZM1381.74,130.17L1396.14,153.17L1367.34,153.17ZM1389.57,135.28L1403.97,158.28L1375.17,158.28ZM1397.40,140.35L1411.80,163.35L1383.00,163.35ZM1405.23,145.39L1419.63,168.39L1390.83,168.39ZM1413.06,150.40L1427.46,173.40L1398.66,173.40ZM1420.89,155.38L1435.29,178.38L1406.49,178.38ZM1428.72,160.34L1443.12,183.34L1414.32,183.34ZM1436.55,165.26L1450.95,188.26L1422.15,188.26ZM1444.38,170.15L1458.78,193.15L1429.98,193.15ZM1452.21,175.01L1466.61,198.01L1437.81,198.01ZM1460.04,179.85L1474.44,202.85L1445.64,202.85ZM1467.87,184.65L1482.27,207.65L1453.47,207.65ZM1475.70,189.43L1490.10,212.43L1461.30,212.43ZM1483.53,194.18L1497.93,217.18L1469.13,217.18ZM1491.36,198.90L1505.76,221.90L1476.96,221.90ZM1499.19,203.60L1513.59,226.60L1484.79,226.60ZM1507.02,208.27L1521.42,231.27L1492.62,231.27ZM1514.85,212.91L1529.25,235.91L1500.45,235.91ZM1522.68,217.53L1537.08,240.53L1508.28,240.53ZM1530.51,222.12L1544.91,245.12L1516.11,245.12ZM1538.34,226.68L1552.74,249.68L1523.94,249.68ZM1546.17,231.22L1560.57,254.22L1531.77,254.22ZM1554.00,235.74L1568.40,258.74L1539.60,258.74ZM1561.83,240.23L1576.23,263.23L1547.43,263.23ZM1569.66,244.69L1584.06,267.69L1555.26,267.69ZM1577.49,249.14L1591.89,272.14L1563.09,272.14ZM1585.32,253.56L1599.72,276.56L1570.92,276.56ZM1593.15,257.95L1607.55,280.95L1578.75,280.95ZM1600.98,262.33L1615.38,285.33L1586.58,285.33ZM1608.81,266.68L1623.21,289.68L1594.41,289.68ZM1616.64,271.01L1631.04,294.01L1602.24,294.01ZM1624.47,275.31L1638.87,298.31L1610.07,298.31ZM1632.30,279.60L1646.70,302.60L1617.90,302.60ZM1640.13,283.86L1654.53,306.86L1625.73,306.86ZM1647.96,288.11L1662.36,311.11L1633.56,311.11ZM1655.79,292.33L1670.19,315.33L1641.39,315.33ZM1663.62,296.53L1678.02,319.53L1649.22,319.53ZM1671.45,300.72L1685.85,323.72L1657.05,323.72ZM1679.28,304.88L1693.68,327.88L1664.88,327.88ZM1687.11,309.03L1701.51,332.03L1672.71,332.03ZM1694.94,313.15L1709.34,336.15L1680.54,336.15ZM1702.77,317.26L1717.17,340.26L1688.37,340.26ZM1710.60,321.35L1725.00,344.35L1696.20,344.35ZM1718.43,325.42L1732.83,348.42L1704.03,348.42ZM1726.26,329.48L1740.66,352.48L1711.86,352.48ZM1734.09,333.51L1748.49,356.51L1719.69,356.51ZM1741.92,337.53L1756.32,360.53L1727.52,360.53ZM1749.75,341.54L1764.15,364.54L1735.35,364.54ZM1757.58,345.52L1771.98,368.52L1743.18,368.52ZM1765.41,349.50L1779.81,372.50L1751.01,372.50ZM1773.24,353.45L1787.64,376.45L1758.84,376.45ZM1781.07,357.39L1795.47,380.39L1766.67,380.39ZM1788.90,361.32L1803.30,384.32L1774.50,384.32ZM1796.73,365.23L1811.13,388.23L1782.33,388.23ZM1804.56,369.13L1818.96,392.13L1790.16,392.13ZM1812.39,373.01L1826.79,396.01L1797.99,396.01ZM1820.22,376.88L1834.62,399.88L1805.82,399.88ZM1828.05,380.74L1842.45,403.74L1813.65,403.74ZM1835.88,384.58L1850.28,407.58L1821.48,407.58ZM1843.71,388.41L1858.11,411.41L1829.31,411.41ZM1851.54,392.23L1865.94,415.23L1837.14,415.23ZM1859.37,396.04L1873.77,419.04L1844.97,419.04ZM1867.20,399.84L1881.60,422.84L1852.80,422.84ZM1875.03,403.62L1889.43,426.62L1860.63,426.62ZM1882.86,407.40L1897.26,430.40L1868.46,430.40ZM1890.69,411.16L1905.09,434.16L1876.29,434.16ZM1898.52,414.91L1912.92,437.91L1884.12,437.91ZM1906.35,418.66L1920.75,441.66L1891.95,441.66ZM1914.18,422.39L1928.58,445.39L1899.78,445.39ZM1922.01,426.11L1936.41,449.11L1907.61,449.11ZM1929.84,429.83L1944.24,452.83L1915.44,452.83ZM1937.67,433.54L1952.07,456.54L1923.27,456.54ZM1945.50,437.24L1959.90,460.24L1931.10,460.24ZM1953.33,440.93L1967.73,463.93L1938.93,463.93ZM1961.16,444.61L1975.56,467.61L1946.76,467.61ZM1968.99,448.29L1983.39,471.29L1954.59,471.29ZM1976.82,451.96L1991.22,474.96L1962.42,474.96ZM1984.65,455.62L1999.05,478.62L1970.25,478.62ZM1992.48,459.28L2006.88,482.28L1978.08,482.28ZM2000.31,462.93L2014.71,485.93L1985.91,485.93ZM2008.14,466.57L2022.54,489.57L1993.74,489.57ZM2015.97,470.21L2030.37,493.21L2001.57,493.21ZM2023.80,473.85L2038.20,496.85L2009.40,496.85ZM2031.63,477.48L2046.03,500.48L2017.23,500.48ZM2039.46,481.10L2053.86,504.10L2025.06,504.10ZM2047.29,484.73L2061.69,507.73L2032.89,507.73ZM2055.12,488.35L2069.52,511.35L2040.72,511.35ZM2062.95,491.96L2077.35,514.96L2048.55,514.96ZM2070.78,495.57L2085.18,518.57L2056.38,518.57ZM2078.61,499.18L2093.01,522.18L2064.21,522.18ZM2086.44,502.79L2100.84,525.79L2072.04,525.79ZM2094.27,506.40L2108.67,529.40L2079.87,529.40ZM2102.10,510.00L2116.50,533.00L2087.70,533.00ZM2109.93,513.60L2124.33,536.60L2095.53,536.60ZM2117.76,517.21L2132.16,540.21L2103.36,540.21ZM2125.59,520.81L2139.99,543.81L2111.19,543.81ZM2133.42,524.41L2147.82,547.41L2119.02,547.41ZM2141.25,528.01L2155.65,551.01L2126.85,551.01ZM2149.08,531.61L2163.48,554.61L2134.68,554.61ZM2156.91,535.22L2171.31,558.22L2142.51,558.22ZM2164.74,538.82L2179.14,561.82L2150.34,561.82ZM2172.57,542.42L2186.97,565.42L2158.17,565.42ZM2180.40,546.03L2194.80,569.03L2166.00,569.03ZM2188.23,549.64L2202.63,572.64L2173.83,572.64ZM2196.06,553.25L2210.46,576.25L2181.66,576.25ZM2203.89,556.86L2218.29,579.86L2189.49,579.86ZM2211.72,560.48L2226.12,583.48L2197.32,583.48ZM2219.55,564.10L2233.95,587.10L2205.15,587.10ZM2227.38,567.73L2241.78,590.73L2212.98,590.73ZM2235.21,571.35L2249.61,594.35L2220.81,594.35ZM2243.04,574.99L2257.44,597.99L2228.64,597.99ZM2250.87,578.62L2265.27,601.62L2236.47,601.62ZM2258.70,582.27L2273.10,605.27L2244.30,605.27ZM2266.53,585.91L2280.93,608.91L2252.13,608.91ZM2274.36,589.57L2288.76,612.57L2259.96,612.57ZM2282.19,593.23L2296.59,616.23L2267.79,616.23ZM2290.02,596.89L2304.42,619.89L2275.62,619.89ZM2297.85,600.56L2312.25,623.56L2283.45,623.56ZM2305.68,604.24L2320.08,627.24L2291.28,627.24ZM2313.51,607.93L2327.91,630.93L2299.11,630.93ZM2321.34,611.62L2335.74,634.62L2306.94,634.62ZM2329.17,615.33L2343.57,638.33L2314.77,638.33ZM2337.00,619.04L2351.40,642.04L2322.60,642.04ZM2344.83,622.76L2359.23,645.76L2330.43,645.76ZM2352.66,626.48L2367.06,649.48L2338.26,649.48ZM2360.49,630.22L2374.89,653.22L2346.09,653.22ZM2368.32,633.97L2382.72,656.97L2353.92,656.97ZM2376.15,637.73L2390.55,660.73L2361.75,660.73ZM2383.98,641.49L2398.38,664.49L2369.58,664.49ZM2391.81,645.27L2406.21,668.27L2377.41,668.27ZM2399.64,649.06L2414.04,672.06L2385.24,672.06ZM2407.47,652.86L2421.87,675.86L2393.07,675.86ZM2415.30,656.68L2429.70,679.68L2400.90,679.68ZM2423.13,660.50L2437.53,683.50L2408.73,683.50ZM2430.96,664.34L2445.36,687.34L2416.56,687.34ZM2438.79,668.19L2453.19,691.19L2424.39,691.19Z" fill="#00f"/>
</g>
<text x="0.00" y="0.00" font-family="'Liberation Sans', Arial, sans-serif" font-size="24" font-weight="bold" text-anchor="end" transform="translate(1374.50,131.90) scale(1.155,1.0)">2.25</text>
<text x="0.00" y="0.00" font-family="'Liberation Sans', Arial, sans-serif" font-size="24" font-weight="bold" text-anchor="end" transform="translate(1374.50,242.40) scale(1.155,1.0)">2.20</text>
<text x="0.00" y="0.00" font-family="'Liberation Sans', Arial, sans-serif" font-size="24" font-weight="bold" text-anchor="end" transform="translate(1374.50,352.90) scale(1.155,1.0)">2.15</text>
<text x="0.00" y="0.00" font-family="'Liberation Sans', Arial, sans-serif" font-size="24" font-weight="bold" text-anchor="end" transform="translate(1374.50,463.40) scale(1.155,1.0)">2.10</text>
<text x="0.00" y="0.00" font-family="'Liberation Sans', Arial, sans-serif" font-size="24" font-weight="bold" text-anchor="end" transform="translate(1374.50,573.90) scale(1.155,1.0)">2.05</text>
<text x="0.00" y="0.00" font-family="'Liberation Sans', Arial, sans-serif" font-size="24" font-weight="bold" text-anchor="end" transform="translate(1374.50,684.40) scale(1.155,1.0)">2.00</text>
<text x="0.00" y="0.00" font-family="'Liberation Sans', Arial, sans-serif" font-size="26" font-weight="normal" text-anchor="middle" transform="translate(1554.00,776.00) scale(1.14,1.0)">160</text>
<text x="0.00" y="0.00" font-family="'Liberation Sans', Arial, sans-serif" font-size="26" font-weight="normal" text-anchor="middle" transform="translate(1710.60,776.00) scale(1.14,1.0)">180</text>
<text x="0.00" y="0.00" font-family="'Liberation Sans', Arial, sans-serif" font-size="26" font-weight="normal" text-anchor="middle" transform="translate(1867.20,776.00) scale(1.14,1.0)">200</text>
<text x="0.00" y="0.00" font-family="'Liberation Sans', Arial, sans-serif" font-size="26" font-weight="normal" text-anchor="middle" transform="translate(2023.80,776.00) scale(1.14,1.0)">220</text>
<text x="0.00" y="0.00" font-family="'Liberation Sans', Arial, sans-serif" font-size="26" font-weight="normal" text-anchor="middle" transform="translate(2180.40,776.00) scale(1.14,1.0)">240</text>
<text x="0.00" y="0.00" font-family="'Liberation Sans', Arial, sans-serif" font-size="26" font-weight="normal" text-anchor="middle" transform="translate(2337.00,776.00) scale(1.14,1.0)">260</text>
<line x1="1049" y1="661.4" x2="1125.3" y2="578.9" stroke="#000" stroke-width="11.6" stroke-linecap="butt"/>
<path d="M1169.5,534.5L1137.0,590.5L1113.6,567.3Z" fill="#000" stroke="#000" stroke-width="3" stroke-linejoin="round"/>
<line x1="1594.6" y1="772.9" x2="1645.4" y2="702.3" stroke="#000" stroke-width="12" stroke-linecap="butt"/>
<path d="M1682.5,654.0L1658.5,712.4L1632.3,692.2Z" fill="#000" stroke="#000" stroke-width="3" stroke-linejoin="round"/>
<text x="0.00" y="0.00" font-family="'Liberation Serif', 'Times New Roman', serif" font-size="77.5" font-weight="normal" text-anchor="middle" transform="translate(76.50,647.50) rotate(-90)">Signal intensity</text>
<text x="0.00" y="0.00" font-family="'Liberation Serif', 'Times New Roman', serif" font-size="78" font-weight="normal" text-anchor="middle" transform="translate(76.30,1524.00) rotate(-90)">Residual</text>
<text x="1341.50" y="1839.00" font-family="'Liberation Serif', 'Times New Roman', serif" font-size="78.5" font-weight="normal" text-anchor="middle">Sample points</text>
</svg></body></html>
